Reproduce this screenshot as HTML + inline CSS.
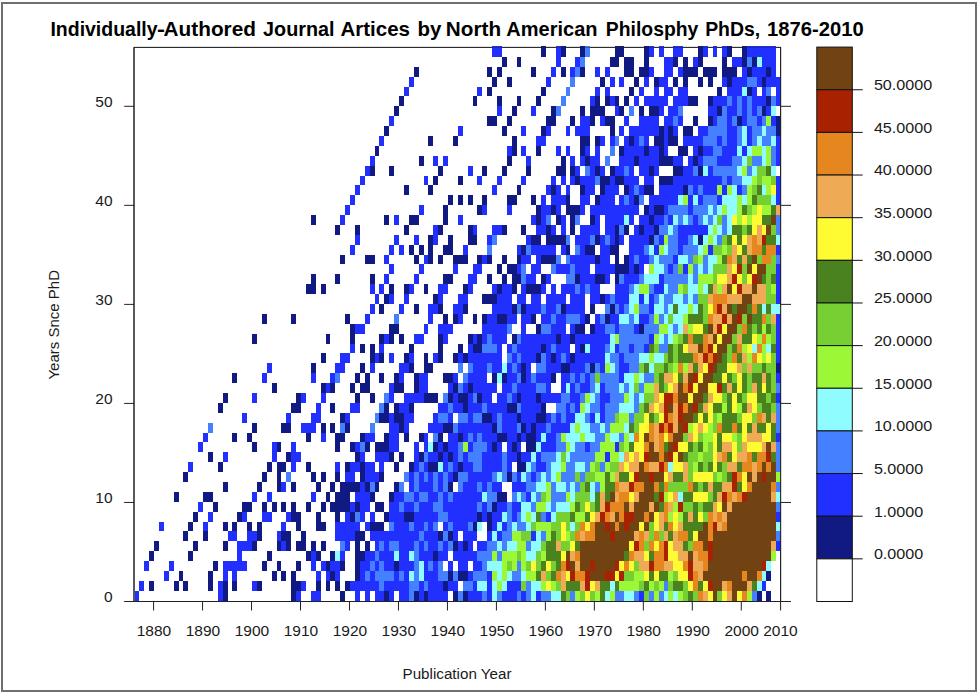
<!DOCTYPE html>
<html><head><meta charset="utf-8"><title>Individually-Authored Journal Artices</title>
<style>html,body{margin:0;padding:0;background:#fff}svg{display:block}text{font-family:"Liberation Sans",sans-serif;fill:#1a1a1a}</style></head><body>
<svg width="978" height="693" viewBox="0 0 978 693">
<rect x="0" y="0" width="978" height="693" fill="#fff"/>
<rect x="2" y="3" width="974" height="688" fill="none" stroke="#6f6f6f" stroke-width="2"/>
<text y="36.2" font-size="20.2" font-weight="bold" style="fill:#000;font-kerning:none"><tspan x="50.44" textLength="107.12" lengthAdjust="spacingAndGlyphs">Individually</tspan><tspan x="156.92" textLength="7.95" lengthAdjust="spacingAndGlyphs">-</tspan><tspan x="163.57" textLength="92.37" lengthAdjust="spacingAndGlyphs">Authored</tspan> <tspan x="263.10" textLength="71.40" lengthAdjust="spacingAndGlyphs">Journal</tspan> <tspan x="340.49" textLength="69.47" lengthAdjust="spacingAndGlyphs">Artices</tspan> <tspan x="417.49" textLength="23.88" lengthAdjust="spacingAndGlyphs">by</tspan> <tspan x="445.88" textLength="55.17" lengthAdjust="spacingAndGlyphs">North</tspan> <tspan x="506.31" textLength="91.20" lengthAdjust="spacingAndGlyphs">American</tspan> <tspan x="605.84" textLength="92.51" lengthAdjust="spacingAndGlyphs">Philosphy</tspan> <tspan x="705.14" textLength="55.03" lengthAdjust="spacingAndGlyphs">PhDs,</tspan> <tspan x="767.00" textLength="96.65" lengthAdjust="spacingAndGlyphs">1876-2010</tspan></text>
<rect x="134.00" y="47.40" width="646.60" height="554.10" fill="none" stroke="#222" stroke-width="1"/>
<g shape-rendering="crispEdges">
<rect x="492.09" y="45.50" width="9.80" height="11.35" fill="#2130ff"/>
<rect x="541.07" y="45.50" width="4.90" height="11.35" fill="#111a82"/>
<rect x="555.77" y="45.50" width="4.90" height="11.35" fill="#2130ff"/>
<rect x="560.67" y="45.50" width="4.90" height="11.35" fill="#111a82"/>
<rect x="580.26" y="45.50" width="4.90" height="11.35" fill="#111a82"/>
<rect x="585.16" y="45.50" width="4.90" height="11.35" fill="#4480ff"/>
<rect x="614.55" y="45.50" width="9.80" height="11.35" fill="#111a82"/>
<rect x="643.94" y="45.50" width="4.90" height="11.35" fill="#111a82"/>
<rect x="648.84" y="45.50" width="4.90" height="11.35" fill="#2130ff"/>
<rect x="658.64" y="45.50" width="4.90" height="11.35" fill="#2130ff"/>
<rect x="673.33" y="45.50" width="9.80" height="11.35" fill="#2130ff"/>
<rect x="697.83" y="45.50" width="4.90" height="11.35" fill="#111a82"/>
<rect x="702.72" y="45.50" width="4.90" height="11.35" fill="#2130ff"/>
<rect x="712.52" y="45.50" width="4.90" height="11.35" fill="#2130ff"/>
<rect x="722.32" y="45.50" width="4.90" height="11.35" fill="#2130ff"/>
<rect x="727.22" y="45.50" width="4.90" height="11.35" fill="#111a82"/>
<rect x="741.91" y="45.50" width="4.90" height="11.35" fill="#111a82"/>
<rect x="746.81" y="45.50" width="29.39" height="11.35" fill="#2130ff"/>
<rect x="501.89" y="56.85" width="4.90" height="9.89" fill="#111a82"/>
<rect x="516.58" y="56.85" width="4.90" height="9.89" fill="#111a82"/>
<rect x="555.77" y="56.85" width="4.90" height="9.89" fill="#2130ff"/>
<rect x="575.36" y="56.85" width="4.90" height="9.89" fill="#2130ff"/>
<rect x="580.26" y="56.85" width="4.90" height="9.89" fill="#4480ff"/>
<rect x="609.65" y="56.85" width="9.80" height="9.89" fill="#111a82"/>
<rect x="624.35" y="56.85" width="9.80" height="9.89" fill="#111a82"/>
<rect x="643.94" y="56.85" width="4.90" height="9.89" fill="#111a82"/>
<rect x="663.54" y="56.85" width="9.80" height="9.89" fill="#2130ff"/>
<rect x="673.33" y="56.85" width="4.90" height="9.89" fill="#111a82"/>
<rect x="683.13" y="56.85" width="4.90" height="9.89" fill="#111a82"/>
<rect x="692.93" y="56.85" width="4.90" height="9.89" fill="#2130ff"/>
<rect x="697.83" y="56.85" width="4.90" height="9.89" fill="#111a82"/>
<rect x="722.32" y="56.85" width="4.90" height="9.89" fill="#111a82"/>
<rect x="732.12" y="56.85" width="9.80" height="9.89" fill="#2130ff"/>
<rect x="741.91" y="56.85" width="4.90" height="9.89" fill="#111a82"/>
<rect x="746.81" y="56.85" width="4.90" height="9.89" fill="#4480ff"/>
<rect x="751.71" y="56.85" width="4.90" height="9.89" fill="#111a82"/>
<rect x="756.61" y="56.85" width="4.90" height="9.89" fill="#8ffcff"/>
<rect x="761.51" y="56.85" width="14.70" height="9.89" fill="#2130ff"/>
<rect x="413.71" y="66.74" width="4.90" height="9.89" fill="#111a82"/>
<rect x="487.19" y="66.74" width="4.90" height="9.89" fill="#111a82"/>
<rect x="496.99" y="66.74" width="4.90" height="9.89" fill="#111a82"/>
<rect x="531.28" y="66.74" width="4.90" height="9.89" fill="#111a82"/>
<rect x="550.87" y="66.74" width="4.90" height="9.89" fill="#2130ff"/>
<rect x="560.67" y="66.74" width="4.90" height="9.89" fill="#111a82"/>
<rect x="570.47" y="66.74" width="4.90" height="9.89" fill="#2130ff"/>
<rect x="575.36" y="66.74" width="4.90" height="9.89" fill="#4480ff"/>
<rect x="580.26" y="66.74" width="4.90" height="9.89" fill="#111a82"/>
<rect x="594.96" y="66.74" width="4.90" height="9.89" fill="#2130ff"/>
<rect x="604.75" y="66.74" width="4.90" height="9.89" fill="#2130ff"/>
<rect x="624.35" y="66.74" width="9.80" height="9.89" fill="#111a82"/>
<rect x="639.04" y="66.74" width="9.80" height="9.89" fill="#111a82"/>
<rect x="648.84" y="66.74" width="4.90" height="9.89" fill="#2130ff"/>
<rect x="663.54" y="66.74" width="9.80" height="9.89" fill="#2130ff"/>
<rect x="678.23" y="66.74" width="4.90" height="9.89" fill="#2130ff"/>
<rect x="683.13" y="66.74" width="14.70" height="9.89" fill="#111a82"/>
<rect x="702.72" y="66.74" width="14.70" height="9.89" fill="#111a82"/>
<rect x="722.32" y="66.74" width="14.70" height="9.89" fill="#111a82"/>
<rect x="741.91" y="66.74" width="4.90" height="9.89" fill="#2130ff"/>
<rect x="746.81" y="66.74" width="4.90" height="9.89" fill="#111a82"/>
<rect x="751.71" y="66.74" width="14.70" height="9.89" fill="#2130ff"/>
<rect x="766.40" y="66.74" width="4.90" height="9.89" fill="#111a82"/>
<rect x="771.30" y="66.74" width="4.90" height="9.89" fill="#2130ff"/>
<rect x="408.82" y="76.63" width="4.90" height="9.89" fill="#2130ff"/>
<rect x="492.09" y="76.63" width="4.90" height="9.89" fill="#111a82"/>
<rect x="506.78" y="76.63" width="4.90" height="9.89" fill="#111a82"/>
<rect x="545.97" y="76.63" width="4.90" height="9.89" fill="#2130ff"/>
<rect x="570.47" y="76.63" width="4.90" height="9.89" fill="#4480ff"/>
<rect x="599.86" y="76.63" width="4.90" height="9.89" fill="#111a82"/>
<rect x="609.65" y="76.63" width="4.90" height="9.89" fill="#2130ff"/>
<rect x="619.45" y="76.63" width="4.90" height="9.89" fill="#2130ff"/>
<rect x="634.15" y="76.63" width="4.90" height="9.89" fill="#111a82"/>
<rect x="643.94" y="76.63" width="4.90" height="9.89" fill="#2130ff"/>
<rect x="653.74" y="76.63" width="4.90" height="9.89" fill="#111a82"/>
<rect x="658.64" y="76.63" width="9.80" height="9.89" fill="#2130ff"/>
<rect x="673.33" y="76.63" width="4.90" height="9.89" fill="#111a82"/>
<rect x="683.13" y="76.63" width="4.90" height="9.89" fill="#111a82"/>
<rect x="697.83" y="76.63" width="4.90" height="9.89" fill="#111a82"/>
<rect x="707.62" y="76.63" width="4.90" height="9.89" fill="#111a82"/>
<rect x="722.32" y="76.63" width="4.90" height="9.89" fill="#2130ff"/>
<rect x="727.22" y="76.63" width="4.90" height="9.89" fill="#111a82"/>
<rect x="732.12" y="76.63" width="14.70" height="9.89" fill="#2130ff"/>
<rect x="746.81" y="76.63" width="9.80" height="9.89" fill="#4480ff"/>
<rect x="756.61" y="76.63" width="4.90" height="9.89" fill="#2130ff"/>
<rect x="761.51" y="76.63" width="4.90" height="9.89" fill="#111a82"/>
<rect x="766.40" y="76.63" width="14.70" height="9.89" fill="#2130ff"/>
<rect x="403.92" y="86.52" width="4.90" height="9.89" fill="#2130ff"/>
<rect x="477.39" y="86.52" width="4.90" height="9.89" fill="#2130ff"/>
<rect x="487.19" y="86.52" width="4.90" height="9.89" fill="#111a82"/>
<rect x="541.07" y="86.52" width="4.90" height="9.89" fill="#111a82"/>
<rect x="565.57" y="86.52" width="4.90" height="9.89" fill="#4480ff"/>
<rect x="594.96" y="86.52" width="4.90" height="9.89" fill="#2130ff"/>
<rect x="604.75" y="86.52" width="4.90" height="9.89" fill="#2130ff"/>
<rect x="629.25" y="86.52" width="4.90" height="9.89" fill="#111a82"/>
<rect x="639.04" y="86.52" width="4.90" height="9.89" fill="#2130ff"/>
<rect x="653.74" y="86.52" width="4.90" height="9.89" fill="#2130ff"/>
<rect x="663.54" y="86.52" width="9.80" height="9.89" fill="#2130ff"/>
<rect x="678.23" y="86.52" width="9.80" height="9.89" fill="#2130ff"/>
<rect x="717.42" y="86.52" width="4.90" height="9.89" fill="#111a82"/>
<rect x="727.22" y="86.52" width="14.70" height="9.89" fill="#2130ff"/>
<rect x="741.91" y="86.52" width="4.90" height="9.89" fill="#8ffcff"/>
<rect x="746.81" y="86.52" width="4.90" height="9.89" fill="#111a82"/>
<rect x="751.71" y="86.52" width="4.90" height="9.89" fill="#2130ff"/>
<rect x="761.51" y="86.52" width="4.90" height="9.89" fill="#2130ff"/>
<rect x="766.40" y="86.52" width="4.90" height="9.89" fill="#4480ff"/>
<rect x="776.20" y="86.52" width="4.90" height="9.89" fill="#2130ff"/>
<rect x="399.02" y="96.40" width="4.90" height="9.89" fill="#111a82"/>
<rect x="472.50" y="96.40" width="4.90" height="9.89" fill="#111a82"/>
<rect x="496.99" y="96.40" width="4.90" height="9.89" fill="#111a82"/>
<rect x="516.58" y="96.40" width="4.90" height="9.89" fill="#111a82"/>
<rect x="536.18" y="96.40" width="4.90" height="9.89" fill="#111a82"/>
<rect x="560.67" y="96.40" width="4.90" height="9.89" fill="#4480ff"/>
<rect x="590.06" y="96.40" width="4.90" height="9.89" fill="#2130ff"/>
<rect x="594.96" y="96.40" width="4.90" height="9.89" fill="#111a82"/>
<rect x="604.75" y="96.40" width="4.90" height="9.89" fill="#111a82"/>
<rect x="609.65" y="96.40" width="4.90" height="9.89" fill="#2130ff"/>
<rect x="614.55" y="96.40" width="4.90" height="9.89" fill="#111a82"/>
<rect x="624.35" y="96.40" width="4.90" height="9.89" fill="#111a82"/>
<rect x="634.15" y="96.40" width="4.90" height="9.89" fill="#2130ff"/>
<rect x="643.94" y="96.40" width="24.49" height="9.89" fill="#2130ff"/>
<rect x="673.33" y="96.40" width="14.70" height="9.89" fill="#2130ff"/>
<rect x="688.03" y="96.40" width="9.80" height="9.89" fill="#111a82"/>
<rect x="707.62" y="96.40" width="4.90" height="9.89" fill="#111a82"/>
<rect x="712.52" y="96.40" width="14.70" height="9.89" fill="#2130ff"/>
<rect x="727.22" y="96.40" width="4.90" height="9.89" fill="#4480ff"/>
<rect x="732.12" y="96.40" width="4.90" height="9.89" fill="#2130ff"/>
<rect x="737.01" y="96.40" width="4.90" height="9.89" fill="#4480ff"/>
<rect x="741.91" y="96.40" width="4.90" height="9.89" fill="#2130ff"/>
<rect x="746.81" y="96.40" width="4.90" height="9.89" fill="#4480ff"/>
<rect x="751.71" y="96.40" width="14.70" height="9.89" fill="#2130ff"/>
<rect x="766.40" y="96.40" width="4.90" height="9.89" fill="#111a82"/>
<rect x="771.30" y="96.40" width="4.90" height="9.89" fill="#4480ff"/>
<rect x="776.20" y="96.40" width="4.90" height="9.89" fill="#2130ff"/>
<rect x="394.12" y="106.29" width="4.90" height="9.89" fill="#111a82"/>
<rect x="496.99" y="106.29" width="4.90" height="9.89" fill="#2130ff"/>
<rect x="511.68" y="106.29" width="4.90" height="9.89" fill="#111a82"/>
<rect x="531.28" y="106.29" width="4.90" height="9.89" fill="#2130ff"/>
<rect x="550.87" y="106.29" width="4.90" height="9.89" fill="#111a82"/>
<rect x="555.77" y="106.29" width="4.90" height="9.89" fill="#4480ff"/>
<rect x="580.26" y="106.29" width="4.90" height="9.89" fill="#111a82"/>
<rect x="590.06" y="106.29" width="14.70" height="9.89" fill="#111a82"/>
<rect x="614.55" y="106.29" width="4.90" height="9.89" fill="#2130ff"/>
<rect x="619.45" y="106.29" width="4.90" height="9.89" fill="#111a82"/>
<rect x="629.25" y="106.29" width="4.90" height="9.89" fill="#4480ff"/>
<rect x="639.04" y="106.29" width="4.90" height="9.89" fill="#111a82"/>
<rect x="648.84" y="106.29" width="9.80" height="9.89" fill="#111a82"/>
<rect x="658.64" y="106.29" width="4.90" height="9.89" fill="#2130ff"/>
<rect x="668.43" y="106.29" width="9.80" height="9.89" fill="#2130ff"/>
<rect x="678.23" y="106.29" width="4.90" height="9.89" fill="#4480ff"/>
<rect x="707.62" y="106.29" width="9.80" height="9.89" fill="#2130ff"/>
<rect x="717.42" y="106.29" width="4.90" height="9.89" fill="#111a82"/>
<rect x="722.32" y="106.29" width="4.90" height="9.89" fill="#4480ff"/>
<rect x="727.22" y="106.29" width="9.80" height="9.89" fill="#2130ff"/>
<rect x="737.01" y="106.29" width="4.90" height="9.89" fill="#4480ff"/>
<rect x="741.91" y="106.29" width="4.90" height="9.89" fill="#2130ff"/>
<rect x="746.81" y="106.29" width="4.90" height="9.89" fill="#4480ff"/>
<rect x="751.71" y="106.29" width="4.90" height="9.89" fill="#2130ff"/>
<rect x="756.61" y="106.29" width="4.90" height="9.89" fill="#4480ff"/>
<rect x="761.51" y="106.29" width="4.90" height="9.89" fill="#111a82"/>
<rect x="766.40" y="106.29" width="4.90" height="9.89" fill="#2130ff"/>
<rect x="771.30" y="106.29" width="4.90" height="9.89" fill="#8ffcff"/>
<rect x="389.22" y="116.18" width="4.90" height="9.89" fill="#2130ff"/>
<rect x="487.19" y="116.18" width="9.80" height="9.89" fill="#111a82"/>
<rect x="506.78" y="116.18" width="4.90" height="9.89" fill="#111a82"/>
<rect x="545.97" y="116.18" width="9.80" height="9.89" fill="#111a82"/>
<rect x="570.47" y="116.18" width="4.90" height="9.89" fill="#111a82"/>
<rect x="580.26" y="116.18" width="9.80" height="9.89" fill="#2130ff"/>
<rect x="590.06" y="116.18" width="4.90" height="9.89" fill="#111a82"/>
<rect x="599.86" y="116.18" width="4.90" height="9.89" fill="#2130ff"/>
<rect x="604.75" y="116.18" width="9.80" height="9.89" fill="#111a82"/>
<rect x="624.35" y="116.18" width="4.90" height="9.89" fill="#2130ff"/>
<rect x="639.04" y="116.18" width="19.59" height="9.89" fill="#2130ff"/>
<rect x="663.54" y="116.18" width="9.80" height="9.89" fill="#2130ff"/>
<rect x="673.33" y="116.18" width="4.90" height="9.89" fill="#4480ff"/>
<rect x="678.23" y="116.18" width="4.90" height="9.89" fill="#2130ff"/>
<rect x="692.93" y="116.18" width="4.90" height="9.89" fill="#111a82"/>
<rect x="707.62" y="116.18" width="4.90" height="9.89" fill="#111a82"/>
<rect x="712.52" y="116.18" width="4.90" height="9.89" fill="#2130ff"/>
<rect x="717.42" y="116.18" width="9.80" height="9.89" fill="#4480ff"/>
<rect x="727.22" y="116.18" width="4.90" height="9.89" fill="#2130ff"/>
<rect x="732.12" y="116.18" width="4.90" height="9.89" fill="#4480ff"/>
<rect x="737.01" y="116.18" width="4.90" height="9.89" fill="#111a82"/>
<rect x="741.91" y="116.18" width="4.90" height="9.89" fill="#2130ff"/>
<rect x="746.81" y="116.18" width="9.80" height="9.89" fill="#4480ff"/>
<rect x="756.61" y="116.18" width="4.90" height="9.89" fill="#2130ff"/>
<rect x="761.51" y="116.18" width="4.90" height="9.89" fill="#4480ff"/>
<rect x="766.40" y="116.18" width="4.90" height="9.89" fill="#9cf837"/>
<rect x="771.30" y="116.18" width="4.90" height="9.89" fill="#2130ff"/>
<rect x="776.20" y="116.18" width="4.90" height="9.89" fill="#111a82"/>
<rect x="384.32" y="126.06" width="4.90" height="9.89" fill="#111a82"/>
<rect x="457.80" y="126.06" width="4.90" height="9.89" fill="#2130ff"/>
<rect x="501.89" y="126.06" width="4.90" height="9.89" fill="#111a82"/>
<rect x="521.48" y="126.06" width="4.90" height="9.89" fill="#2130ff"/>
<rect x="541.07" y="126.06" width="4.90" height="9.89" fill="#111a82"/>
<rect x="545.97" y="126.06" width="4.90" height="9.89" fill="#2130ff"/>
<rect x="565.57" y="126.06" width="4.90" height="9.89" fill="#2130ff"/>
<rect x="575.36" y="126.06" width="14.70" height="9.89" fill="#2130ff"/>
<rect x="609.65" y="126.06" width="4.90" height="9.89" fill="#111a82"/>
<rect x="619.45" y="126.06" width="4.90" height="9.89" fill="#2130ff"/>
<rect x="629.25" y="126.06" width="29.39" height="9.89" fill="#2130ff"/>
<rect x="658.64" y="126.06" width="4.90" height="9.89" fill="#111a82"/>
<rect x="663.54" y="126.06" width="4.90" height="9.89" fill="#2130ff"/>
<rect x="668.43" y="126.06" width="4.90" height="9.89" fill="#111a82"/>
<rect x="673.33" y="126.06" width="4.90" height="9.89" fill="#2130ff"/>
<rect x="683.13" y="126.06" width="9.80" height="9.89" fill="#111a82"/>
<rect x="697.83" y="126.06" width="9.80" height="9.89" fill="#2130ff"/>
<rect x="707.62" y="126.06" width="19.59" height="9.89" fill="#4480ff"/>
<rect x="727.22" y="126.06" width="9.80" height="9.89" fill="#2130ff"/>
<rect x="737.01" y="126.06" width="4.90" height="9.89" fill="#4480ff"/>
<rect x="741.91" y="126.06" width="4.90" height="9.89" fill="#8ffcff"/>
<rect x="746.81" y="126.06" width="4.90" height="9.89" fill="#2130ff"/>
<rect x="751.71" y="126.06" width="9.80" height="9.89" fill="#4480ff"/>
<rect x="761.51" y="126.06" width="4.90" height="9.89" fill="#8ffcff"/>
<rect x="766.40" y="126.06" width="9.80" height="9.89" fill="#4480ff"/>
<rect x="776.20" y="126.06" width="4.90" height="9.89" fill="#111a82"/>
<rect x="379.42" y="135.95" width="4.90" height="9.89" fill="#2130ff"/>
<rect x="428.41" y="135.95" width="4.90" height="9.89" fill="#111a82"/>
<rect x="452.90" y="135.95" width="4.90" height="9.89" fill="#111a82"/>
<rect x="511.68" y="135.95" width="4.90" height="9.89" fill="#111a82"/>
<rect x="536.18" y="135.95" width="9.80" height="9.89" fill="#2130ff"/>
<rect x="580.26" y="135.95" width="9.80" height="9.89" fill="#111a82"/>
<rect x="594.96" y="135.95" width="4.90" height="9.89" fill="#111a82"/>
<rect x="599.86" y="135.95" width="4.90" height="9.89" fill="#2130ff"/>
<rect x="609.65" y="135.95" width="4.90" height="9.89" fill="#2130ff"/>
<rect x="614.55" y="135.95" width="4.90" height="9.89" fill="#4480ff"/>
<rect x="624.35" y="135.95" width="4.90" height="9.89" fill="#2130ff"/>
<rect x="629.25" y="135.95" width="4.90" height="9.89" fill="#111a82"/>
<rect x="634.15" y="135.95" width="4.90" height="9.89" fill="#2130ff"/>
<rect x="639.04" y="135.95" width="4.90" height="9.89" fill="#4480ff"/>
<rect x="643.94" y="135.95" width="4.90" height="9.89" fill="#2130ff"/>
<rect x="653.74" y="135.95" width="9.80" height="9.89" fill="#111a82"/>
<rect x="663.54" y="135.95" width="4.90" height="9.89" fill="#2130ff"/>
<rect x="668.43" y="135.95" width="9.80" height="9.89" fill="#111a82"/>
<rect x="683.13" y="135.95" width="19.59" height="9.89" fill="#2130ff"/>
<rect x="702.72" y="135.95" width="14.70" height="9.89" fill="#4480ff"/>
<rect x="717.42" y="135.95" width="4.90" height="9.89" fill="#2130ff"/>
<rect x="722.32" y="135.95" width="4.90" height="9.89" fill="#4480ff"/>
<rect x="727.22" y="135.95" width="9.80" height="9.89" fill="#2130ff"/>
<rect x="737.01" y="135.95" width="4.90" height="9.89" fill="#4480ff"/>
<rect x="741.91" y="135.95" width="4.90" height="9.89" fill="#8ffcff"/>
<rect x="746.81" y="135.95" width="4.90" height="9.89" fill="#2130ff"/>
<rect x="751.71" y="135.95" width="4.90" height="9.89" fill="#4480ff"/>
<rect x="756.61" y="135.95" width="4.90" height="9.89" fill="#8ffcff"/>
<rect x="761.51" y="135.95" width="9.80" height="9.89" fill="#4480ff"/>
<rect x="771.30" y="135.95" width="4.90" height="9.89" fill="#8ffcff"/>
<rect x="776.20" y="135.95" width="4.90" height="9.89" fill="#2130ff"/>
<rect x="374.53" y="145.84" width="4.90" height="9.89" fill="#111a82"/>
<rect x="506.78" y="145.84" width="4.90" height="9.89" fill="#2130ff"/>
<rect x="511.68" y="145.84" width="4.90" height="9.89" fill="#111a82"/>
<rect x="521.48" y="145.84" width="4.90" height="9.89" fill="#2130ff"/>
<rect x="536.18" y="145.84" width="4.90" height="9.89" fill="#111a82"/>
<rect x="555.77" y="145.84" width="4.90" height="9.89" fill="#2130ff"/>
<rect x="565.57" y="145.84" width="4.90" height="9.89" fill="#2130ff"/>
<rect x="580.26" y="145.84" width="4.90" height="9.89" fill="#111a82"/>
<rect x="585.16" y="145.84" width="4.90" height="9.89" fill="#2130ff"/>
<rect x="594.96" y="145.84" width="4.90" height="9.89" fill="#2130ff"/>
<rect x="609.65" y="145.84" width="4.90" height="9.89" fill="#4480ff"/>
<rect x="619.45" y="145.84" width="4.90" height="9.89" fill="#111a82"/>
<rect x="624.35" y="145.84" width="19.59" height="9.89" fill="#2130ff"/>
<rect x="643.94" y="145.84" width="4.90" height="9.89" fill="#111a82"/>
<rect x="648.84" y="145.84" width="9.80" height="9.89" fill="#2130ff"/>
<rect x="658.64" y="145.84" width="4.90" height="9.89" fill="#111a82"/>
<rect x="663.54" y="145.84" width="4.90" height="9.89" fill="#2130ff"/>
<rect x="678.23" y="145.84" width="9.80" height="9.89" fill="#111a82"/>
<rect x="692.93" y="145.84" width="4.90" height="9.89" fill="#2130ff"/>
<rect x="697.83" y="145.84" width="4.90" height="9.89" fill="#111a82"/>
<rect x="702.72" y="145.84" width="9.80" height="9.89" fill="#2130ff"/>
<rect x="712.52" y="145.84" width="9.80" height="9.89" fill="#4480ff"/>
<rect x="722.32" y="145.84" width="14.70" height="9.89" fill="#2130ff"/>
<rect x="737.01" y="145.84" width="4.90" height="9.89" fill="#8ffcff"/>
<rect x="741.91" y="145.84" width="4.90" height="9.89" fill="#2130ff"/>
<rect x="746.81" y="145.84" width="4.90" height="9.89" fill="#8ffcff"/>
<rect x="751.71" y="145.84" width="9.80" height="9.89" fill="#9cf837"/>
<rect x="761.51" y="145.84" width="4.90" height="9.89" fill="#8ffcff"/>
<rect x="766.40" y="145.84" width="4.90" height="9.89" fill="#9cf837"/>
<rect x="771.30" y="145.84" width="4.90" height="9.89" fill="#4480ff"/>
<rect x="776.20" y="145.84" width="4.90" height="9.89" fill="#2130ff"/>
<rect x="369.63" y="155.72" width="4.90" height="9.89" fill="#2130ff"/>
<rect x="418.61" y="155.72" width="4.90" height="9.89" fill="#111a82"/>
<rect x="433.31" y="155.72" width="4.90" height="9.89" fill="#2130ff"/>
<rect x="443.10" y="155.72" width="4.90" height="9.89" fill="#2130ff"/>
<rect x="506.78" y="155.72" width="4.90" height="9.89" fill="#111a82"/>
<rect x="526.38" y="155.72" width="4.90" height="9.89" fill="#2130ff"/>
<rect x="560.67" y="155.72" width="4.90" height="9.89" fill="#111a82"/>
<rect x="570.47" y="155.72" width="4.90" height="9.89" fill="#2130ff"/>
<rect x="580.26" y="155.72" width="4.90" height="9.89" fill="#2130ff"/>
<rect x="585.16" y="155.72" width="4.90" height="9.89" fill="#111a82"/>
<rect x="590.06" y="155.72" width="9.80" height="9.89" fill="#2130ff"/>
<rect x="604.75" y="155.72" width="4.90" height="9.89" fill="#4480ff"/>
<rect x="619.45" y="155.72" width="14.70" height="9.89" fill="#2130ff"/>
<rect x="634.15" y="155.72" width="4.90" height="9.89" fill="#111a82"/>
<rect x="639.04" y="155.72" width="19.59" height="9.89" fill="#2130ff"/>
<rect x="658.64" y="155.72" width="14.70" height="9.89" fill="#111a82"/>
<rect x="673.33" y="155.72" width="9.80" height="9.89" fill="#2130ff"/>
<rect x="688.03" y="155.72" width="4.90" height="9.89" fill="#2130ff"/>
<rect x="692.93" y="155.72" width="4.90" height="9.89" fill="#111a82"/>
<rect x="697.83" y="155.72" width="4.90" height="9.89" fill="#2130ff"/>
<rect x="702.72" y="155.72" width="14.70" height="9.89" fill="#4480ff"/>
<rect x="717.42" y="155.72" width="14.70" height="9.89" fill="#2130ff"/>
<rect x="732.12" y="155.72" width="9.80" height="9.89" fill="#4480ff"/>
<rect x="741.91" y="155.72" width="4.90" height="9.89" fill="#8ffcff"/>
<rect x="746.81" y="155.72" width="4.90" height="9.89" fill="#76cf33"/>
<rect x="751.71" y="155.72" width="9.80" height="9.89" fill="#4480ff"/>
<rect x="761.51" y="155.72" width="4.90" height="9.89" fill="#8ffcff"/>
<rect x="766.40" y="155.72" width="4.90" height="9.89" fill="#9cf837"/>
<rect x="771.30" y="155.72" width="4.90" height="9.89" fill="#4480ff"/>
<rect x="776.20" y="155.72" width="4.90" height="9.89" fill="#2130ff"/>
<rect x="364.73" y="165.61" width="4.90" height="9.89" fill="#2130ff"/>
<rect x="369.63" y="165.61" width="4.90" height="9.89" fill="#111a82"/>
<rect x="389.22" y="165.61" width="4.90" height="9.89" fill="#111a82"/>
<rect x="438.21" y="165.61" width="4.90" height="9.89" fill="#111a82"/>
<rect x="467.60" y="165.61" width="4.90" height="9.89" fill="#2130ff"/>
<rect x="482.29" y="165.61" width="4.90" height="9.89" fill="#111a82"/>
<rect x="501.89" y="165.61" width="4.90" height="9.89" fill="#111a82"/>
<rect x="526.38" y="165.61" width="4.90" height="9.89" fill="#111a82"/>
<rect x="555.77" y="165.61" width="9.80" height="9.89" fill="#111a82"/>
<rect x="570.47" y="165.61" width="4.90" height="9.89" fill="#111a82"/>
<rect x="575.36" y="165.61" width="4.90" height="9.89" fill="#2130ff"/>
<rect x="585.16" y="165.61" width="4.90" height="9.89" fill="#4480ff"/>
<rect x="590.06" y="165.61" width="4.90" height="9.89" fill="#2130ff"/>
<rect x="594.96" y="165.61" width="4.90" height="9.89" fill="#111a82"/>
<rect x="599.86" y="165.61" width="4.90" height="9.89" fill="#2130ff"/>
<rect x="609.65" y="165.61" width="4.90" height="9.89" fill="#111a82"/>
<rect x="614.55" y="165.61" width="9.80" height="9.89" fill="#2130ff"/>
<rect x="624.35" y="165.61" width="4.90" height="9.89" fill="#4480ff"/>
<rect x="629.25" y="165.61" width="4.90" height="9.89" fill="#2130ff"/>
<rect x="639.04" y="165.61" width="9.80" height="9.89" fill="#2130ff"/>
<rect x="648.84" y="165.61" width="4.90" height="9.89" fill="#111a82"/>
<rect x="653.74" y="165.61" width="4.90" height="9.89" fill="#2130ff"/>
<rect x="673.33" y="165.61" width="9.80" height="9.89" fill="#111a82"/>
<rect x="683.13" y="165.61" width="9.80" height="9.89" fill="#2130ff"/>
<rect x="692.93" y="165.61" width="4.90" height="9.89" fill="#4480ff"/>
<rect x="697.83" y="165.61" width="4.90" height="9.89" fill="#111a82"/>
<rect x="702.72" y="165.61" width="4.90" height="9.89" fill="#8ffcff"/>
<rect x="707.62" y="165.61" width="4.90" height="9.89" fill="#2130ff"/>
<rect x="712.52" y="165.61" width="24.49" height="9.89" fill="#4480ff"/>
<rect x="737.01" y="165.61" width="4.90" height="9.89" fill="#8ffcff"/>
<rect x="741.91" y="165.61" width="4.90" height="9.89" fill="#9cf837"/>
<rect x="746.81" y="165.61" width="4.90" height="9.89" fill="#4480ff"/>
<rect x="751.71" y="165.61" width="4.90" height="9.89" fill="#8ffcff"/>
<rect x="756.61" y="165.61" width="9.80" height="9.89" fill="#76cf33"/>
<rect x="766.40" y="165.61" width="4.90" height="9.89" fill="#4b8220"/>
<rect x="771.30" y="165.61" width="4.90" height="9.89" fill="#8ffcff"/>
<rect x="359.83" y="175.50" width="4.90" height="9.89" fill="#2130ff"/>
<rect x="423.51" y="175.50" width="4.90" height="9.89" fill="#2130ff"/>
<rect x="433.31" y="175.50" width="4.90" height="9.89" fill="#111a82"/>
<rect x="457.80" y="175.50" width="4.90" height="9.89" fill="#111a82"/>
<rect x="477.39" y="175.50" width="4.90" height="9.89" fill="#2130ff"/>
<rect x="496.99" y="175.50" width="4.90" height="9.89" fill="#2130ff"/>
<rect x="521.48" y="175.50" width="4.90" height="9.89" fill="#2130ff"/>
<rect x="550.87" y="175.50" width="4.90" height="9.89" fill="#2130ff"/>
<rect x="560.67" y="175.50" width="4.90" height="9.89" fill="#2130ff"/>
<rect x="570.47" y="175.50" width="4.90" height="9.89" fill="#2130ff"/>
<rect x="575.36" y="175.50" width="4.90" height="9.89" fill="#111a82"/>
<rect x="580.26" y="175.50" width="14.70" height="9.89" fill="#2130ff"/>
<rect x="594.96" y="175.50" width="4.90" height="9.89" fill="#4480ff"/>
<rect x="599.86" y="175.50" width="9.80" height="9.89" fill="#111a82"/>
<rect x="609.65" y="175.50" width="4.90" height="9.89" fill="#2130ff"/>
<rect x="614.55" y="175.50" width="9.80" height="9.89" fill="#111a82"/>
<rect x="624.35" y="175.50" width="14.70" height="9.89" fill="#2130ff"/>
<rect x="643.94" y="175.50" width="9.80" height="9.89" fill="#2130ff"/>
<rect x="658.64" y="175.50" width="14.70" height="9.89" fill="#111a82"/>
<rect x="673.33" y="175.50" width="48.98" height="9.89" fill="#2130ff"/>
<rect x="722.32" y="175.50" width="4.90" height="9.89" fill="#4480ff"/>
<rect x="727.22" y="175.50" width="4.90" height="9.89" fill="#2130ff"/>
<rect x="732.12" y="175.50" width="9.80" height="9.89" fill="#4480ff"/>
<rect x="741.91" y="175.50" width="9.80" height="9.89" fill="#8ffcff"/>
<rect x="751.71" y="175.50" width="4.90" height="9.89" fill="#9cf837"/>
<rect x="756.61" y="175.50" width="4.90" height="9.89" fill="#76cf33"/>
<rect x="761.51" y="175.50" width="9.80" height="9.89" fill="#9cf837"/>
<rect x="771.30" y="175.50" width="4.90" height="9.89" fill="#76cf33"/>
<rect x="776.20" y="175.50" width="4.90" height="9.89" fill="#2130ff"/>
<rect x="354.93" y="185.39" width="4.90" height="9.89" fill="#2130ff"/>
<rect x="403.92" y="185.39" width="4.90" height="9.89" fill="#111a82"/>
<rect x="428.41" y="185.39" width="4.90" height="9.89" fill="#111a82"/>
<rect x="492.09" y="185.39" width="4.90" height="9.89" fill="#2130ff"/>
<rect x="516.58" y="185.39" width="4.90" height="9.89" fill="#111a82"/>
<rect x="545.97" y="185.39" width="4.90" height="9.89" fill="#2130ff"/>
<rect x="550.87" y="185.39" width="4.90" height="9.89" fill="#111a82"/>
<rect x="555.77" y="185.39" width="4.90" height="9.89" fill="#2130ff"/>
<rect x="565.57" y="185.39" width="4.90" height="9.89" fill="#2130ff"/>
<rect x="580.26" y="185.39" width="4.90" height="9.89" fill="#111a82"/>
<rect x="585.16" y="185.39" width="9.80" height="9.89" fill="#2130ff"/>
<rect x="599.86" y="185.39" width="4.90" height="9.89" fill="#111a82"/>
<rect x="604.75" y="185.39" width="14.70" height="9.89" fill="#2130ff"/>
<rect x="624.35" y="185.39" width="4.90" height="9.89" fill="#111a82"/>
<rect x="629.25" y="185.39" width="4.90" height="9.89" fill="#2130ff"/>
<rect x="634.15" y="185.39" width="4.90" height="9.89" fill="#4480ff"/>
<rect x="639.04" y="185.39" width="4.90" height="9.89" fill="#2130ff"/>
<rect x="643.94" y="185.39" width="9.80" height="9.89" fill="#111a82"/>
<rect x="658.64" y="185.39" width="24.49" height="9.89" fill="#2130ff"/>
<rect x="683.13" y="185.39" width="4.90" height="9.89" fill="#111a82"/>
<rect x="688.03" y="185.39" width="4.90" height="9.89" fill="#4480ff"/>
<rect x="692.93" y="185.39" width="4.90" height="9.89" fill="#2130ff"/>
<rect x="697.83" y="185.39" width="4.90" height="9.89" fill="#4480ff"/>
<rect x="702.72" y="185.39" width="14.70" height="9.89" fill="#2130ff"/>
<rect x="717.42" y="185.39" width="4.90" height="9.89" fill="#9cf837"/>
<rect x="722.32" y="185.39" width="4.90" height="9.89" fill="#2130ff"/>
<rect x="727.22" y="185.39" width="4.90" height="9.89" fill="#9cf837"/>
<rect x="732.12" y="185.39" width="4.90" height="9.89" fill="#8ffcff"/>
<rect x="737.01" y="185.39" width="4.90" height="9.89" fill="#2130ff"/>
<rect x="741.91" y="185.39" width="4.90" height="9.89" fill="#4480ff"/>
<rect x="746.81" y="185.39" width="4.90" height="9.89" fill="#9cf837"/>
<rect x="751.71" y="185.39" width="4.90" height="9.89" fill="#76cf33"/>
<rect x="756.61" y="185.39" width="4.90" height="9.89" fill="#4b8220"/>
<rect x="761.51" y="185.39" width="4.90" height="9.89" fill="#8ffcff"/>
<rect x="766.40" y="185.39" width="4.90" height="9.89" fill="#9cf837"/>
<rect x="771.30" y="185.39" width="4.90" height="9.89" fill="#fffb33"/>
<rect x="776.20" y="185.39" width="4.90" height="9.89" fill="#2130ff"/>
<rect x="350.03" y="195.27" width="4.90" height="9.89" fill="#2130ff"/>
<rect x="448.00" y="195.27" width="4.90" height="9.89" fill="#111a82"/>
<rect x="457.80" y="195.27" width="4.90" height="9.89" fill="#111a82"/>
<rect x="467.60" y="195.27" width="4.90" height="9.89" fill="#111a82"/>
<rect x="482.29" y="195.27" width="4.90" height="9.89" fill="#111a82"/>
<rect x="506.78" y="195.27" width="9.80" height="9.89" fill="#111a82"/>
<rect x="531.28" y="195.27" width="4.90" height="9.89" fill="#111a82"/>
<rect x="541.07" y="195.27" width="4.90" height="9.89" fill="#2130ff"/>
<rect x="550.87" y="195.27" width="14.70" height="9.89" fill="#2130ff"/>
<rect x="565.57" y="195.27" width="4.90" height="9.89" fill="#111a82"/>
<rect x="580.26" y="195.27" width="9.80" height="9.89" fill="#2130ff"/>
<rect x="594.96" y="195.27" width="4.90" height="9.89" fill="#111a82"/>
<rect x="599.86" y="195.27" width="14.70" height="9.89" fill="#2130ff"/>
<rect x="619.45" y="195.27" width="4.90" height="9.89" fill="#2130ff"/>
<rect x="624.35" y="195.27" width="4.90" height="9.89" fill="#4480ff"/>
<rect x="629.25" y="195.27" width="4.90" height="9.89" fill="#2130ff"/>
<rect x="634.15" y="195.27" width="4.90" height="9.89" fill="#111a82"/>
<rect x="639.04" y="195.27" width="4.90" height="9.89" fill="#4480ff"/>
<rect x="648.84" y="195.27" width="29.39" height="9.89" fill="#2130ff"/>
<rect x="678.23" y="195.27" width="4.90" height="9.89" fill="#8ffcff"/>
<rect x="683.13" y="195.27" width="4.90" height="9.89" fill="#9cf837"/>
<rect x="688.03" y="195.27" width="4.90" height="9.89" fill="#2130ff"/>
<rect x="692.93" y="195.27" width="4.90" height="9.89" fill="#8ffcff"/>
<rect x="697.83" y="195.27" width="4.90" height="9.89" fill="#2130ff"/>
<rect x="702.72" y="195.27" width="14.70" height="9.89" fill="#4480ff"/>
<rect x="717.42" y="195.27" width="4.90" height="9.89" fill="#2130ff"/>
<rect x="722.32" y="195.27" width="14.70" height="9.89" fill="#8ffcff"/>
<rect x="737.01" y="195.27" width="4.90" height="9.89" fill="#9cf837"/>
<rect x="741.91" y="195.27" width="4.90" height="9.89" fill="#8ffcff"/>
<rect x="746.81" y="195.27" width="4.90" height="9.89" fill="#9cf837"/>
<rect x="751.71" y="195.27" width="4.90" height="9.89" fill="#4b8220"/>
<rect x="756.61" y="195.27" width="14.70" height="9.89" fill="#76cf33"/>
<rect x="771.30" y="195.27" width="4.90" height="9.89" fill="#8ffcff"/>
<rect x="776.20" y="195.27" width="4.90" height="9.89" fill="#2130ff"/>
<rect x="345.13" y="205.16" width="4.90" height="9.89" fill="#2130ff"/>
<rect x="418.61" y="205.16" width="4.90" height="9.89" fill="#2130ff"/>
<rect x="443.10" y="205.16" width="4.90" height="9.89" fill="#111a82"/>
<rect x="477.39" y="205.16" width="4.90" height="9.89" fill="#111a82"/>
<rect x="482.29" y="205.16" width="4.90" height="9.89" fill="#2130ff"/>
<rect x="506.78" y="205.16" width="4.90" height="9.89" fill="#2130ff"/>
<rect x="536.18" y="205.16" width="4.90" height="9.89" fill="#111a82"/>
<rect x="541.07" y="205.16" width="9.80" height="9.89" fill="#2130ff"/>
<rect x="550.87" y="205.16" width="4.90" height="9.89" fill="#111a82"/>
<rect x="555.77" y="205.16" width="4.90" height="9.89" fill="#2130ff"/>
<rect x="565.57" y="205.16" width="14.70" height="9.89" fill="#111a82"/>
<rect x="580.26" y="205.16" width="4.90" height="9.89" fill="#2130ff"/>
<rect x="590.06" y="205.16" width="48.98" height="9.89" fill="#2130ff"/>
<rect x="643.94" y="205.16" width="4.90" height="9.89" fill="#111a82"/>
<rect x="648.84" y="205.16" width="4.90" height="9.89" fill="#2130ff"/>
<rect x="653.74" y="205.16" width="9.80" height="9.89" fill="#111a82"/>
<rect x="663.54" y="205.16" width="4.90" height="9.89" fill="#2130ff"/>
<rect x="668.43" y="205.16" width="19.59" height="9.89" fill="#4480ff"/>
<rect x="688.03" y="205.16" width="4.90" height="9.89" fill="#2130ff"/>
<rect x="692.93" y="205.16" width="14.70" height="9.89" fill="#4480ff"/>
<rect x="707.62" y="205.16" width="4.90" height="9.89" fill="#8ffcff"/>
<rect x="712.52" y="205.16" width="4.90" height="9.89" fill="#4480ff"/>
<rect x="717.42" y="205.16" width="4.90" height="9.89" fill="#8ffcff"/>
<rect x="722.32" y="205.16" width="4.90" height="9.89" fill="#9cf837"/>
<rect x="727.22" y="205.16" width="9.80" height="9.89" fill="#8ffcff"/>
<rect x="737.01" y="205.16" width="4.90" height="9.89" fill="#9cf837"/>
<rect x="741.91" y="205.16" width="4.90" height="9.89" fill="#4b8220"/>
<rect x="746.81" y="205.16" width="4.90" height="9.89" fill="#76cf33"/>
<rect x="751.71" y="205.16" width="4.90" height="9.89" fill="#9cf837"/>
<rect x="756.61" y="205.16" width="4.90" height="9.89" fill="#fffb33"/>
<rect x="761.51" y="205.16" width="9.80" height="9.89" fill="#9cf837"/>
<rect x="771.30" y="205.16" width="4.90" height="9.89" fill="#4b8220"/>
<rect x="776.20" y="205.16" width="4.90" height="9.89" fill="#eeaa55"/>
<rect x="310.85" y="215.05" width="4.90" height="9.89" fill="#111a82"/>
<rect x="340.24" y="215.05" width="4.90" height="9.89" fill="#2130ff"/>
<rect x="384.32" y="215.05" width="4.90" height="9.89" fill="#111a82"/>
<rect x="394.12" y="215.05" width="4.90" height="9.89" fill="#2130ff"/>
<rect x="408.82" y="215.05" width="9.80" height="9.89" fill="#111a82"/>
<rect x="443.10" y="215.05" width="4.90" height="9.89" fill="#111a82"/>
<rect x="457.80" y="215.05" width="4.90" height="9.89" fill="#2130ff"/>
<rect x="531.28" y="215.05" width="4.90" height="9.89" fill="#2130ff"/>
<rect x="536.18" y="215.05" width="4.90" height="9.89" fill="#111a82"/>
<rect x="541.07" y="215.05" width="4.90" height="9.89" fill="#2130ff"/>
<rect x="545.97" y="215.05" width="4.90" height="9.89" fill="#4480ff"/>
<rect x="555.77" y="215.05" width="4.90" height="9.89" fill="#111a82"/>
<rect x="560.67" y="215.05" width="4.90" height="9.89" fill="#2130ff"/>
<rect x="570.47" y="215.05" width="4.90" height="9.89" fill="#111a82"/>
<rect x="575.36" y="215.05" width="4.90" height="9.89" fill="#4480ff"/>
<rect x="590.06" y="215.05" width="4.90" height="9.89" fill="#111a82"/>
<rect x="594.96" y="215.05" width="4.90" height="9.89" fill="#2130ff"/>
<rect x="604.75" y="215.05" width="19.59" height="9.89" fill="#2130ff"/>
<rect x="624.35" y="215.05" width="4.90" height="9.89" fill="#8ffcff"/>
<rect x="629.25" y="215.05" width="4.90" height="9.89" fill="#2130ff"/>
<rect x="639.04" y="215.05" width="9.80" height="9.89" fill="#2130ff"/>
<rect x="648.84" y="215.05" width="4.90" height="9.89" fill="#111a82"/>
<rect x="653.74" y="215.05" width="9.80" height="9.89" fill="#2130ff"/>
<rect x="663.54" y="215.05" width="4.90" height="9.89" fill="#4480ff"/>
<rect x="668.43" y="215.05" width="4.90" height="9.89" fill="#2130ff"/>
<rect x="673.33" y="215.05" width="4.90" height="9.89" fill="#8ffcff"/>
<rect x="678.23" y="215.05" width="4.90" height="9.89" fill="#4480ff"/>
<rect x="683.13" y="215.05" width="4.90" height="9.89" fill="#8ffcff"/>
<rect x="688.03" y="215.05" width="4.90" height="9.89" fill="#4480ff"/>
<rect x="692.93" y="215.05" width="4.90" height="9.89" fill="#2130ff"/>
<rect x="697.83" y="215.05" width="4.90" height="9.89" fill="#4480ff"/>
<rect x="702.72" y="215.05" width="4.90" height="9.89" fill="#8ffcff"/>
<rect x="707.62" y="215.05" width="4.90" height="9.89" fill="#4480ff"/>
<rect x="712.52" y="215.05" width="4.90" height="9.89" fill="#8ffcff"/>
<rect x="717.42" y="215.05" width="4.90" height="9.89" fill="#76cf33"/>
<rect x="722.32" y="215.05" width="4.90" height="9.89" fill="#4480ff"/>
<rect x="727.22" y="215.05" width="4.90" height="9.89" fill="#8ffcff"/>
<rect x="732.12" y="215.05" width="4.90" height="9.89" fill="#fffb33"/>
<rect x="737.01" y="215.05" width="4.90" height="9.89" fill="#9cf837"/>
<rect x="741.91" y="215.05" width="4.90" height="9.89" fill="#fffb33"/>
<rect x="746.81" y="215.05" width="4.90" height="9.89" fill="#9cf837"/>
<rect x="751.71" y="215.05" width="9.80" height="9.89" fill="#fffb33"/>
<rect x="761.51" y="215.05" width="9.80" height="9.89" fill="#4b8220"/>
<rect x="771.30" y="215.05" width="4.90" height="9.89" fill="#714212"/>
<rect x="776.20" y="215.05" width="4.90" height="9.89" fill="#4480ff"/>
<rect x="335.34" y="224.93" width="4.90" height="9.89" fill="#111a82"/>
<rect x="354.93" y="224.93" width="4.90" height="9.89" fill="#111a82"/>
<rect x="403.92" y="224.93" width="4.90" height="9.89" fill="#111a82"/>
<rect x="433.31" y="224.93" width="4.90" height="9.89" fill="#2130ff"/>
<rect x="438.21" y="224.93" width="4.90" height="9.89" fill="#111a82"/>
<rect x="467.60" y="224.93" width="4.90" height="9.89" fill="#111a82"/>
<rect x="472.50" y="224.93" width="4.90" height="9.89" fill="#2130ff"/>
<rect x="492.09" y="224.93" width="9.80" height="9.89" fill="#2130ff"/>
<rect x="501.89" y="224.93" width="4.90" height="9.89" fill="#111a82"/>
<rect x="521.48" y="224.93" width="4.90" height="9.89" fill="#111a82"/>
<rect x="536.18" y="224.93" width="9.80" height="9.89" fill="#2130ff"/>
<rect x="545.97" y="224.93" width="4.90" height="9.89" fill="#111a82"/>
<rect x="550.87" y="224.93" width="4.90" height="9.89" fill="#2130ff"/>
<rect x="560.67" y="224.93" width="4.90" height="9.89" fill="#2130ff"/>
<rect x="570.47" y="224.93" width="4.90" height="9.89" fill="#111a82"/>
<rect x="580.26" y="224.93" width="19.59" height="9.89" fill="#2130ff"/>
<rect x="604.75" y="224.93" width="9.80" height="9.89" fill="#2130ff"/>
<rect x="614.55" y="224.93" width="4.90" height="9.89" fill="#111a82"/>
<rect x="619.45" y="224.93" width="4.90" height="9.89" fill="#4480ff"/>
<rect x="624.35" y="224.93" width="4.90" height="9.89" fill="#111a82"/>
<rect x="634.15" y="224.93" width="4.90" height="9.89" fill="#2130ff"/>
<rect x="639.04" y="224.93" width="4.90" height="9.89" fill="#111a82"/>
<rect x="643.94" y="224.93" width="9.80" height="9.89" fill="#2130ff"/>
<rect x="653.74" y="224.93" width="4.90" height="9.89" fill="#111a82"/>
<rect x="658.64" y="224.93" width="9.80" height="9.89" fill="#4480ff"/>
<rect x="668.43" y="224.93" width="4.90" height="9.89" fill="#8ffcff"/>
<rect x="673.33" y="224.93" width="4.90" height="9.89" fill="#4480ff"/>
<rect x="678.23" y="224.93" width="29.39" height="9.89" fill="#2130ff"/>
<rect x="707.62" y="224.93" width="4.90" height="9.89" fill="#8ffcff"/>
<rect x="712.52" y="224.93" width="4.90" height="9.89" fill="#9cf837"/>
<rect x="717.42" y="224.93" width="4.90" height="9.89" fill="#8ffcff"/>
<rect x="722.32" y="224.93" width="4.90" height="9.89" fill="#4480ff"/>
<rect x="727.22" y="224.93" width="4.90" height="9.89" fill="#8ffcff"/>
<rect x="732.12" y="224.93" width="9.80" height="9.89" fill="#4b8220"/>
<rect x="741.91" y="224.93" width="4.90" height="9.89" fill="#76cf33"/>
<rect x="746.81" y="224.93" width="4.90" height="9.89" fill="#4b8220"/>
<rect x="751.71" y="224.93" width="4.90" height="9.89" fill="#fffb33"/>
<rect x="756.61" y="224.93" width="4.90" height="9.89" fill="#eeaa55"/>
<rect x="761.51" y="224.93" width="4.90" height="9.89" fill="#fffb33"/>
<rect x="766.40" y="224.93" width="4.90" height="9.89" fill="#714212"/>
<rect x="771.30" y="224.93" width="4.90" height="9.89" fill="#76cf33"/>
<rect x="776.20" y="224.93" width="4.90" height="9.89" fill="#4480ff"/>
<rect x="354.93" y="234.82" width="4.90" height="9.89" fill="#2130ff"/>
<rect x="394.12" y="234.82" width="4.90" height="9.89" fill="#2130ff"/>
<rect x="413.71" y="234.82" width="4.90" height="9.89" fill="#2130ff"/>
<rect x="428.41" y="234.82" width="4.90" height="9.89" fill="#111a82"/>
<rect x="433.31" y="234.82" width="4.90" height="9.89" fill="#2130ff"/>
<rect x="448.00" y="234.82" width="4.90" height="9.89" fill="#111a82"/>
<rect x="467.60" y="234.82" width="9.80" height="9.89" fill="#111a82"/>
<rect x="487.19" y="234.82" width="4.90" height="9.89" fill="#2130ff"/>
<rect x="492.09" y="234.82" width="4.90" height="9.89" fill="#4480ff"/>
<rect x="526.38" y="234.82" width="4.90" height="9.89" fill="#2130ff"/>
<rect x="531.28" y="234.82" width="9.80" height="9.89" fill="#111a82"/>
<rect x="545.97" y="234.82" width="19.59" height="9.89" fill="#111a82"/>
<rect x="565.57" y="234.82" width="4.90" height="9.89" fill="#4480ff"/>
<rect x="575.36" y="234.82" width="14.70" height="9.89" fill="#2130ff"/>
<rect x="590.06" y="234.82" width="4.90" height="9.89" fill="#4480ff"/>
<rect x="594.96" y="234.82" width="4.90" height="9.89" fill="#111a82"/>
<rect x="599.86" y="234.82" width="4.90" height="9.89" fill="#2130ff"/>
<rect x="604.75" y="234.82" width="4.90" height="9.89" fill="#4480ff"/>
<rect x="609.65" y="234.82" width="4.90" height="9.89" fill="#2130ff"/>
<rect x="614.55" y="234.82" width="4.90" height="9.89" fill="#111a82"/>
<rect x="619.45" y="234.82" width="4.90" height="9.89" fill="#2130ff"/>
<rect x="629.25" y="234.82" width="19.59" height="9.89" fill="#2130ff"/>
<rect x="648.84" y="234.82" width="4.90" height="9.89" fill="#111a82"/>
<rect x="653.74" y="234.82" width="4.90" height="9.89" fill="#4480ff"/>
<rect x="658.64" y="234.82" width="4.90" height="9.89" fill="#2130ff"/>
<rect x="663.54" y="234.82" width="4.90" height="9.89" fill="#9cf837"/>
<rect x="668.43" y="234.82" width="9.80" height="9.89" fill="#4480ff"/>
<rect x="678.23" y="234.82" width="9.80" height="9.89" fill="#2130ff"/>
<rect x="688.03" y="234.82" width="4.90" height="9.89" fill="#4480ff"/>
<rect x="692.93" y="234.82" width="4.90" height="9.89" fill="#8ffcff"/>
<rect x="697.83" y="234.82" width="4.90" height="9.89" fill="#111a82"/>
<rect x="702.72" y="234.82" width="4.90" height="9.89" fill="#8ffcff"/>
<rect x="707.62" y="234.82" width="4.90" height="9.89" fill="#9cf837"/>
<rect x="712.52" y="234.82" width="4.90" height="9.89" fill="#8ffcff"/>
<rect x="717.42" y="234.82" width="4.90" height="9.89" fill="#4480ff"/>
<rect x="722.32" y="234.82" width="4.90" height="9.89" fill="#76cf33"/>
<rect x="727.22" y="234.82" width="4.90" height="9.89" fill="#4b8220"/>
<rect x="732.12" y="234.82" width="4.90" height="9.89" fill="#fffb33"/>
<rect x="737.01" y="234.82" width="4.90" height="9.89" fill="#4b8220"/>
<rect x="741.91" y="234.82" width="4.90" height="9.89" fill="#fffb33"/>
<rect x="746.81" y="234.82" width="4.90" height="9.89" fill="#eeaa55"/>
<rect x="751.71" y="234.82" width="4.90" height="9.89" fill="#e6861e"/>
<rect x="756.61" y="234.82" width="4.90" height="9.89" fill="#eeaa55"/>
<rect x="761.51" y="234.82" width="4.90" height="9.89" fill="#a82202"/>
<rect x="766.40" y="234.82" width="9.80" height="9.89" fill="#4b8220"/>
<rect x="776.20" y="234.82" width="4.90" height="9.89" fill="#8ffcff"/>
<rect x="350.03" y="244.71" width="4.90" height="9.89" fill="#2130ff"/>
<rect x="389.22" y="244.71" width="4.90" height="9.89" fill="#2130ff"/>
<rect x="399.02" y="244.71" width="4.90" height="9.89" fill="#2130ff"/>
<rect x="408.82" y="244.71" width="4.90" height="9.89" fill="#111a82"/>
<rect x="418.61" y="244.71" width="4.90" height="9.89" fill="#111a82"/>
<rect x="428.41" y="244.71" width="4.90" height="9.89" fill="#111a82"/>
<rect x="443.10" y="244.71" width="9.80" height="9.89" fill="#111a82"/>
<rect x="462.70" y="244.71" width="4.90" height="9.89" fill="#2130ff"/>
<rect x="487.19" y="244.71" width="4.90" height="9.89" fill="#4480ff"/>
<rect x="516.58" y="244.71" width="4.90" height="9.89" fill="#2130ff"/>
<rect x="521.48" y="244.71" width="4.90" height="9.89" fill="#111a82"/>
<rect x="526.38" y="244.71" width="4.90" height="9.89" fill="#4480ff"/>
<rect x="531.28" y="244.71" width="24.49" height="9.89" fill="#2130ff"/>
<rect x="560.67" y="244.71" width="4.90" height="9.89" fill="#2130ff"/>
<rect x="565.57" y="244.71" width="4.90" height="9.89" fill="#111a82"/>
<rect x="575.36" y="244.71" width="4.90" height="9.89" fill="#4480ff"/>
<rect x="580.26" y="244.71" width="4.90" height="9.89" fill="#2130ff"/>
<rect x="585.16" y="244.71" width="9.80" height="9.89" fill="#111a82"/>
<rect x="599.86" y="244.71" width="9.80" height="9.89" fill="#2130ff"/>
<rect x="609.65" y="244.71" width="9.80" height="9.89" fill="#111a82"/>
<rect x="629.25" y="244.71" width="14.70" height="9.89" fill="#2130ff"/>
<rect x="643.94" y="244.71" width="4.90" height="9.89" fill="#4480ff"/>
<rect x="648.84" y="244.71" width="4.90" height="9.89" fill="#8ffcff"/>
<rect x="653.74" y="244.71" width="4.90" height="9.89" fill="#2130ff"/>
<rect x="658.64" y="244.71" width="4.90" height="9.89" fill="#9cf837"/>
<rect x="663.54" y="244.71" width="4.90" height="9.89" fill="#8ffcff"/>
<rect x="668.43" y="244.71" width="9.80" height="9.89" fill="#4480ff"/>
<rect x="678.23" y="244.71" width="4.90" height="9.89" fill="#2130ff"/>
<rect x="683.13" y="244.71" width="14.70" height="9.89" fill="#4480ff"/>
<rect x="697.83" y="244.71" width="4.90" height="9.89" fill="#8ffcff"/>
<rect x="702.72" y="244.71" width="4.90" height="9.89" fill="#9cf837"/>
<rect x="707.62" y="244.71" width="4.90" height="9.89" fill="#2130ff"/>
<rect x="712.52" y="244.71" width="9.80" height="9.89" fill="#76cf33"/>
<rect x="722.32" y="244.71" width="4.90" height="9.89" fill="#9cf837"/>
<rect x="727.22" y="244.71" width="4.90" height="9.89" fill="#76cf33"/>
<rect x="732.12" y="244.71" width="4.90" height="9.89" fill="#eeaa55"/>
<rect x="737.01" y="244.71" width="4.90" height="9.89" fill="#fffb33"/>
<rect x="741.91" y="244.71" width="4.90" height="9.89" fill="#4b8220"/>
<rect x="746.81" y="244.71" width="4.90" height="9.89" fill="#eeaa55"/>
<rect x="751.71" y="244.71" width="9.80" height="9.89" fill="#e6861e"/>
<rect x="761.51" y="244.71" width="4.90" height="9.89" fill="#4b8220"/>
<rect x="766.40" y="244.71" width="9.80" height="9.89" fill="#e6861e"/>
<rect x="776.20" y="244.71" width="4.90" height="9.89" fill="#2130ff"/>
<rect x="340.24" y="254.59" width="4.90" height="9.89" fill="#111a82"/>
<rect x="364.73" y="254.59" width="9.80" height="9.89" fill="#111a82"/>
<rect x="384.32" y="254.59" width="4.90" height="9.89" fill="#2130ff"/>
<rect x="413.71" y="254.59" width="4.90" height="9.89" fill="#111a82"/>
<rect x="423.51" y="254.59" width="4.90" height="9.89" fill="#2130ff"/>
<rect x="428.41" y="254.59" width="4.90" height="9.89" fill="#111a82"/>
<rect x="438.21" y="254.59" width="4.90" height="9.89" fill="#111a82"/>
<rect x="452.90" y="254.59" width="14.70" height="9.89" fill="#111a82"/>
<rect x="477.39" y="254.59" width="4.90" height="9.89" fill="#111a82"/>
<rect x="482.29" y="254.59" width="4.90" height="9.89" fill="#2130ff"/>
<rect x="487.19" y="254.59" width="4.90" height="9.89" fill="#111a82"/>
<rect x="501.89" y="254.59" width="4.90" height="9.89" fill="#111a82"/>
<rect x="516.58" y="254.59" width="4.90" height="9.89" fill="#111a82"/>
<rect x="521.48" y="254.59" width="9.80" height="9.89" fill="#2130ff"/>
<rect x="536.18" y="254.59" width="4.90" height="9.89" fill="#2130ff"/>
<rect x="541.07" y="254.59" width="14.70" height="9.89" fill="#111a82"/>
<rect x="555.77" y="254.59" width="4.90" height="9.89" fill="#4480ff"/>
<rect x="565.57" y="254.59" width="4.90" height="9.89" fill="#4480ff"/>
<rect x="570.47" y="254.59" width="24.49" height="9.89" fill="#2130ff"/>
<rect x="594.96" y="254.59" width="4.90" height="9.89" fill="#111a82"/>
<rect x="599.86" y="254.59" width="9.80" height="9.89" fill="#2130ff"/>
<rect x="614.55" y="254.59" width="4.90" height="9.89" fill="#111a82"/>
<rect x="624.35" y="254.59" width="4.90" height="9.89" fill="#111a82"/>
<rect x="629.25" y="254.59" width="4.90" height="9.89" fill="#2130ff"/>
<rect x="634.15" y="254.59" width="4.90" height="9.89" fill="#4480ff"/>
<rect x="639.04" y="254.59" width="9.80" height="9.89" fill="#2130ff"/>
<rect x="648.84" y="254.59" width="4.90" height="9.89" fill="#4480ff"/>
<rect x="653.74" y="254.59" width="4.90" height="9.89" fill="#8ffcff"/>
<rect x="658.64" y="254.59" width="14.70" height="9.89" fill="#4480ff"/>
<rect x="673.33" y="254.59" width="4.90" height="9.89" fill="#2130ff"/>
<rect x="678.23" y="254.59" width="9.80" height="9.89" fill="#8ffcff"/>
<rect x="688.03" y="254.59" width="4.90" height="9.89" fill="#4480ff"/>
<rect x="692.93" y="254.59" width="4.90" height="9.89" fill="#76cf33"/>
<rect x="697.83" y="254.59" width="4.90" height="9.89" fill="#9cf837"/>
<rect x="702.72" y="254.59" width="4.90" height="9.89" fill="#4480ff"/>
<rect x="707.62" y="254.59" width="9.80" height="9.89" fill="#8ffcff"/>
<rect x="717.42" y="254.59" width="4.90" height="9.89" fill="#9cf837"/>
<rect x="722.32" y="254.59" width="4.90" height="9.89" fill="#4b8220"/>
<rect x="727.22" y="254.59" width="4.90" height="9.89" fill="#e6861e"/>
<rect x="732.12" y="254.59" width="4.90" height="9.89" fill="#eeaa55"/>
<rect x="737.01" y="254.59" width="4.90" height="9.89" fill="#4b8220"/>
<rect x="741.91" y="254.59" width="4.90" height="9.89" fill="#eeaa55"/>
<rect x="746.81" y="254.59" width="4.90" height="9.89" fill="#4b8220"/>
<rect x="751.71" y="254.59" width="4.90" height="9.89" fill="#714212"/>
<rect x="756.61" y="254.59" width="4.90" height="9.89" fill="#76cf33"/>
<rect x="761.51" y="254.59" width="9.80" height="9.89" fill="#e6861e"/>
<rect x="771.30" y="254.59" width="4.90" height="9.89" fill="#76cf33"/>
<rect x="776.20" y="254.59" width="4.90" height="9.89" fill="#4480ff"/>
<rect x="389.22" y="264.48" width="4.90" height="9.89" fill="#2130ff"/>
<rect x="418.61" y="264.48" width="4.90" height="9.89" fill="#2130ff"/>
<rect x="452.90" y="264.48" width="4.90" height="9.89" fill="#2130ff"/>
<rect x="472.50" y="264.48" width="9.80" height="9.89" fill="#2130ff"/>
<rect x="496.99" y="264.48" width="4.90" height="9.89" fill="#111a82"/>
<rect x="506.78" y="264.48" width="9.80" height="9.89" fill="#111a82"/>
<rect x="516.58" y="264.48" width="4.90" height="9.89" fill="#2130ff"/>
<rect x="521.48" y="264.48" width="4.90" height="9.89" fill="#4480ff"/>
<rect x="531.28" y="264.48" width="9.80" height="9.89" fill="#2130ff"/>
<rect x="550.87" y="264.48" width="4.90" height="9.89" fill="#4480ff"/>
<rect x="555.77" y="264.48" width="14.70" height="9.89" fill="#2130ff"/>
<rect x="570.47" y="264.48" width="4.90" height="9.89" fill="#4480ff"/>
<rect x="575.36" y="264.48" width="14.70" height="9.89" fill="#2130ff"/>
<rect x="594.96" y="264.48" width="19.59" height="9.89" fill="#2130ff"/>
<rect x="614.55" y="264.48" width="14.70" height="9.89" fill="#111a82"/>
<rect x="629.25" y="264.48" width="4.90" height="9.89" fill="#2130ff"/>
<rect x="634.15" y="264.48" width="4.90" height="9.89" fill="#111a82"/>
<rect x="639.04" y="264.48" width="4.90" height="9.89" fill="#2130ff"/>
<rect x="648.84" y="264.48" width="4.90" height="9.89" fill="#9cf837"/>
<rect x="653.74" y="264.48" width="9.80" height="9.89" fill="#8ffcff"/>
<rect x="663.54" y="264.48" width="4.90" height="9.89" fill="#4480ff"/>
<rect x="668.43" y="264.48" width="4.90" height="9.89" fill="#2130ff"/>
<rect x="673.33" y="264.48" width="4.90" height="9.89" fill="#4480ff"/>
<rect x="678.23" y="264.48" width="4.90" height="9.89" fill="#76cf33"/>
<rect x="683.13" y="264.48" width="4.90" height="9.89" fill="#2130ff"/>
<rect x="688.03" y="264.48" width="4.90" height="9.89" fill="#9cf837"/>
<rect x="692.93" y="264.48" width="4.90" height="9.89" fill="#4480ff"/>
<rect x="697.83" y="264.48" width="4.90" height="9.89" fill="#8ffcff"/>
<rect x="702.72" y="264.48" width="4.90" height="9.89" fill="#4480ff"/>
<rect x="707.62" y="264.48" width="4.90" height="9.89" fill="#8ffcff"/>
<rect x="712.52" y="264.48" width="14.70" height="9.89" fill="#76cf33"/>
<rect x="727.22" y="264.48" width="4.90" height="9.89" fill="#eeaa55"/>
<rect x="732.12" y="264.48" width="4.90" height="9.89" fill="#fffb33"/>
<rect x="737.01" y="264.48" width="4.90" height="9.89" fill="#a82202"/>
<rect x="741.91" y="264.48" width="4.90" height="9.89" fill="#76cf33"/>
<rect x="746.81" y="264.48" width="4.90" height="9.89" fill="#714212"/>
<rect x="751.71" y="264.48" width="4.90" height="9.89" fill="#fffb33"/>
<rect x="756.61" y="264.48" width="9.80" height="9.89" fill="#714212"/>
<rect x="766.40" y="264.48" width="9.80" height="9.89" fill="#76cf33"/>
<rect x="776.20" y="264.48" width="4.90" height="9.89" fill="#2130ff"/>
<rect x="310.85" y="274.37" width="4.90" height="9.89" fill="#111a82"/>
<rect x="335.34" y="274.37" width="4.90" height="9.89" fill="#111a82"/>
<rect x="369.63" y="274.37" width="4.90" height="9.89" fill="#111a82"/>
<rect x="384.32" y="274.37" width="4.90" height="9.89" fill="#2130ff"/>
<rect x="413.71" y="274.37" width="4.90" height="9.89" fill="#2130ff"/>
<rect x="443.10" y="274.37" width="9.80" height="9.89" fill="#111a82"/>
<rect x="467.60" y="274.37" width="9.80" height="9.89" fill="#2130ff"/>
<rect x="487.19" y="274.37" width="4.90" height="9.89" fill="#111a82"/>
<rect x="501.89" y="274.37" width="4.90" height="9.89" fill="#111a82"/>
<rect x="511.68" y="274.37" width="9.80" height="9.89" fill="#111a82"/>
<rect x="521.48" y="274.37" width="4.90" height="9.89" fill="#4480ff"/>
<rect x="526.38" y="274.37" width="9.80" height="9.89" fill="#2130ff"/>
<rect x="541.07" y="274.37" width="4.90" height="9.89" fill="#111a82"/>
<rect x="545.97" y="274.37" width="4.90" height="9.89" fill="#2130ff"/>
<rect x="565.57" y="274.37" width="9.80" height="9.89" fill="#4480ff"/>
<rect x="575.36" y="274.37" width="4.90" height="9.89" fill="#111a82"/>
<rect x="580.26" y="274.37" width="14.70" height="9.89" fill="#2130ff"/>
<rect x="594.96" y="274.37" width="9.80" height="9.89" fill="#111a82"/>
<rect x="604.75" y="274.37" width="4.90" height="9.89" fill="#2130ff"/>
<rect x="614.55" y="274.37" width="4.90" height="9.89" fill="#111a82"/>
<rect x="619.45" y="274.37" width="4.90" height="9.89" fill="#4480ff"/>
<rect x="624.35" y="274.37" width="14.70" height="9.89" fill="#2130ff"/>
<rect x="639.04" y="274.37" width="4.90" height="9.89" fill="#4480ff"/>
<rect x="643.94" y="274.37" width="14.70" height="9.89" fill="#8ffcff"/>
<rect x="658.64" y="274.37" width="4.90" height="9.89" fill="#2130ff"/>
<rect x="663.54" y="274.37" width="24.49" height="9.89" fill="#4480ff"/>
<rect x="688.03" y="274.37" width="4.90" height="9.89" fill="#8ffcff"/>
<rect x="692.93" y="274.37" width="4.90" height="9.89" fill="#4480ff"/>
<rect x="697.83" y="274.37" width="14.70" height="9.89" fill="#9cf837"/>
<rect x="712.52" y="274.37" width="4.90" height="9.89" fill="#76cf33"/>
<rect x="717.42" y="274.37" width="9.80" height="9.89" fill="#fffb33"/>
<rect x="727.22" y="274.37" width="4.90" height="9.89" fill="#eeaa55"/>
<rect x="732.12" y="274.37" width="4.90" height="9.89" fill="#a82202"/>
<rect x="737.01" y="274.37" width="4.90" height="9.89" fill="#fffb33"/>
<rect x="741.91" y="274.37" width="4.90" height="9.89" fill="#76cf33"/>
<rect x="746.81" y="274.37" width="4.90" height="9.89" fill="#fffb33"/>
<rect x="751.71" y="274.37" width="4.90" height="9.89" fill="#a82202"/>
<rect x="756.61" y="274.37" width="4.90" height="9.89" fill="#714212"/>
<rect x="761.51" y="274.37" width="4.90" height="9.89" fill="#4b8220"/>
<rect x="766.40" y="274.37" width="4.90" height="9.89" fill="#76cf33"/>
<rect x="771.30" y="274.37" width="4.90" height="9.89" fill="#4b8220"/>
<rect x="776.20" y="274.37" width="4.90" height="9.89" fill="#2130ff"/>
<rect x="305.95" y="284.26" width="9.80" height="9.89" fill="#111a82"/>
<rect x="320.64" y="284.26" width="4.90" height="9.89" fill="#111a82"/>
<rect x="369.63" y="284.26" width="4.90" height="9.89" fill="#2130ff"/>
<rect x="379.42" y="284.26" width="4.90" height="9.89" fill="#2130ff"/>
<rect x="389.22" y="284.26" width="4.90" height="9.89" fill="#111a82"/>
<rect x="403.92" y="284.26" width="4.90" height="9.89" fill="#111a82"/>
<rect x="408.82" y="284.26" width="4.90" height="9.89" fill="#2130ff"/>
<rect x="423.51" y="284.26" width="4.90" height="9.89" fill="#111a82"/>
<rect x="438.21" y="284.26" width="9.80" height="9.89" fill="#2130ff"/>
<rect x="462.70" y="284.26" width="4.90" height="9.89" fill="#111a82"/>
<rect x="467.60" y="284.26" width="4.90" height="9.89" fill="#2130ff"/>
<rect x="492.09" y="284.26" width="4.90" height="9.89" fill="#2130ff"/>
<rect x="496.99" y="284.26" width="4.90" height="9.89" fill="#111a82"/>
<rect x="501.89" y="284.26" width="9.80" height="9.89" fill="#2130ff"/>
<rect x="511.68" y="284.26" width="4.90" height="9.89" fill="#111a82"/>
<rect x="521.48" y="284.26" width="4.90" height="9.89" fill="#2130ff"/>
<rect x="526.38" y="284.26" width="14.70" height="9.89" fill="#111a82"/>
<rect x="541.07" y="284.26" width="4.90" height="9.89" fill="#2130ff"/>
<rect x="550.87" y="284.26" width="4.90" height="9.89" fill="#2130ff"/>
<rect x="560.67" y="284.26" width="14.70" height="9.89" fill="#2130ff"/>
<rect x="575.36" y="284.26" width="4.90" height="9.89" fill="#4480ff"/>
<rect x="580.26" y="284.26" width="4.90" height="9.89" fill="#2130ff"/>
<rect x="585.16" y="284.26" width="4.90" height="9.89" fill="#4480ff"/>
<rect x="590.06" y="284.26" width="9.80" height="9.89" fill="#2130ff"/>
<rect x="614.55" y="284.26" width="14.70" height="9.89" fill="#2130ff"/>
<rect x="629.25" y="284.26" width="4.90" height="9.89" fill="#4480ff"/>
<rect x="634.15" y="284.26" width="4.90" height="9.89" fill="#8ffcff"/>
<rect x="639.04" y="284.26" width="9.80" height="9.89" fill="#9cf837"/>
<rect x="648.84" y="284.26" width="4.90" height="9.89" fill="#4480ff"/>
<rect x="653.74" y="284.26" width="9.80" height="9.89" fill="#2130ff"/>
<rect x="663.54" y="284.26" width="4.90" height="9.89" fill="#8ffcff"/>
<rect x="668.43" y="284.26" width="9.80" height="9.89" fill="#4480ff"/>
<rect x="678.23" y="284.26" width="4.90" height="9.89" fill="#9cf837"/>
<rect x="683.13" y="284.26" width="4.90" height="9.89" fill="#76cf33"/>
<rect x="688.03" y="284.26" width="9.80" height="9.89" fill="#8ffcff"/>
<rect x="697.83" y="284.26" width="4.90" height="9.89" fill="#9cf837"/>
<rect x="702.72" y="284.26" width="4.90" height="9.89" fill="#8ffcff"/>
<rect x="707.62" y="284.26" width="4.90" height="9.89" fill="#4b8220"/>
<rect x="712.52" y="284.26" width="4.90" height="9.89" fill="#eeaa55"/>
<rect x="717.42" y="284.26" width="4.90" height="9.89" fill="#9cf837"/>
<rect x="722.32" y="284.26" width="4.90" height="9.89" fill="#eeaa55"/>
<rect x="727.22" y="284.26" width="4.90" height="9.89" fill="#714212"/>
<rect x="732.12" y="284.26" width="4.90" height="9.89" fill="#fffb33"/>
<rect x="737.01" y="284.26" width="4.90" height="9.89" fill="#a82202"/>
<rect x="741.91" y="284.26" width="9.80" height="9.89" fill="#eeaa55"/>
<rect x="751.71" y="284.26" width="4.90" height="9.89" fill="#714212"/>
<rect x="756.61" y="284.26" width="9.80" height="9.89" fill="#eeaa55"/>
<rect x="766.40" y="284.26" width="4.90" height="9.89" fill="#76cf33"/>
<rect x="771.30" y="284.26" width="4.90" height="9.89" fill="#9cf837"/>
<rect x="776.20" y="284.26" width="4.90" height="9.89" fill="#2130ff"/>
<rect x="374.53" y="294.14" width="4.90" height="9.89" fill="#2130ff"/>
<rect x="384.32" y="294.14" width="4.90" height="9.89" fill="#111a82"/>
<rect x="389.22" y="294.14" width="4.90" height="9.89" fill="#2130ff"/>
<rect x="403.92" y="294.14" width="4.90" height="9.89" fill="#2130ff"/>
<rect x="433.31" y="294.14" width="4.90" height="9.89" fill="#111a82"/>
<rect x="438.21" y="294.14" width="4.90" height="9.89" fill="#2130ff"/>
<rect x="457.80" y="294.14" width="9.80" height="9.89" fill="#2130ff"/>
<rect x="482.29" y="294.14" width="14.70" height="9.89" fill="#111a82"/>
<rect x="496.99" y="294.14" width="14.70" height="9.89" fill="#2130ff"/>
<rect x="516.58" y="294.14" width="9.80" height="9.89" fill="#2130ff"/>
<rect x="531.28" y="294.14" width="9.80" height="9.89" fill="#2130ff"/>
<rect x="545.97" y="294.14" width="19.59" height="9.89" fill="#2130ff"/>
<rect x="570.47" y="294.14" width="14.70" height="9.89" fill="#2130ff"/>
<rect x="590.06" y="294.14" width="9.80" height="9.89" fill="#2130ff"/>
<rect x="599.86" y="294.14" width="4.90" height="9.89" fill="#111a82"/>
<rect x="604.75" y="294.14" width="4.90" height="9.89" fill="#2130ff"/>
<rect x="609.65" y="294.14" width="4.90" height="9.89" fill="#4480ff"/>
<rect x="614.55" y="294.14" width="14.70" height="9.89" fill="#2130ff"/>
<rect x="629.25" y="294.14" width="9.80" height="9.89" fill="#8ffcff"/>
<rect x="639.04" y="294.14" width="4.90" height="9.89" fill="#2130ff"/>
<rect x="643.94" y="294.14" width="4.90" height="9.89" fill="#8ffcff"/>
<rect x="648.84" y="294.14" width="4.90" height="9.89" fill="#2130ff"/>
<rect x="653.74" y="294.14" width="4.90" height="9.89" fill="#4480ff"/>
<rect x="658.64" y="294.14" width="4.90" height="9.89" fill="#8ffcff"/>
<rect x="663.54" y="294.14" width="9.80" height="9.89" fill="#4480ff"/>
<rect x="673.33" y="294.14" width="9.80" height="9.89" fill="#8ffcff"/>
<rect x="683.13" y="294.14" width="4.90" height="9.89" fill="#4480ff"/>
<rect x="688.03" y="294.14" width="4.90" height="9.89" fill="#8ffcff"/>
<rect x="692.93" y="294.14" width="4.90" height="9.89" fill="#4480ff"/>
<rect x="697.83" y="294.14" width="9.80" height="9.89" fill="#76cf33"/>
<rect x="707.62" y="294.14" width="4.90" height="9.89" fill="#eeaa55"/>
<rect x="712.52" y="294.14" width="14.70" height="9.89" fill="#e6861e"/>
<rect x="727.22" y="294.14" width="14.70" height="9.89" fill="#eeaa55"/>
<rect x="741.91" y="294.14" width="9.80" height="9.89" fill="#714212"/>
<rect x="751.71" y="294.14" width="14.70" height="9.89" fill="#eeaa55"/>
<rect x="766.40" y="294.14" width="9.80" height="9.89" fill="#76cf33"/>
<rect x="776.20" y="294.14" width="4.90" height="9.89" fill="#2130ff"/>
<rect x="369.63" y="304.03" width="4.90" height="9.89" fill="#2130ff"/>
<rect x="379.42" y="304.03" width="4.90" height="9.89" fill="#111a82"/>
<rect x="399.02" y="304.03" width="4.90" height="9.89" fill="#2130ff"/>
<rect x="413.71" y="304.03" width="4.90" height="9.89" fill="#111a82"/>
<rect x="428.41" y="304.03" width="9.80" height="9.89" fill="#2130ff"/>
<rect x="438.21" y="304.03" width="4.90" height="9.89" fill="#111a82"/>
<rect x="452.90" y="304.03" width="9.80" height="9.89" fill="#2130ff"/>
<rect x="462.70" y="304.03" width="4.90" height="9.89" fill="#111a82"/>
<rect x="492.09" y="304.03" width="19.59" height="9.89" fill="#2130ff"/>
<rect x="511.68" y="304.03" width="4.90" height="9.89" fill="#111a82"/>
<rect x="516.58" y="304.03" width="4.90" height="9.89" fill="#4480ff"/>
<rect x="521.48" y="304.03" width="4.90" height="9.89" fill="#111a82"/>
<rect x="526.38" y="304.03" width="14.70" height="9.89" fill="#2130ff"/>
<rect x="541.07" y="304.03" width="4.90" height="9.89" fill="#4480ff"/>
<rect x="545.97" y="304.03" width="9.80" height="9.89" fill="#2130ff"/>
<rect x="555.77" y="304.03" width="4.90" height="9.89" fill="#4480ff"/>
<rect x="560.67" y="304.03" width="4.90" height="9.89" fill="#111a82"/>
<rect x="565.57" y="304.03" width="19.59" height="9.89" fill="#2130ff"/>
<rect x="590.06" y="304.03" width="4.90" height="9.89" fill="#111a82"/>
<rect x="604.75" y="304.03" width="4.90" height="9.89" fill="#4480ff"/>
<rect x="609.65" y="304.03" width="4.90" height="9.89" fill="#111a82"/>
<rect x="614.55" y="304.03" width="4.90" height="9.89" fill="#4480ff"/>
<rect x="619.45" y="304.03" width="4.90" height="9.89" fill="#2130ff"/>
<rect x="624.35" y="304.03" width="4.90" height="9.89" fill="#4480ff"/>
<rect x="629.25" y="304.03" width="4.90" height="9.89" fill="#8ffcff"/>
<rect x="634.15" y="304.03" width="4.90" height="9.89" fill="#9cf837"/>
<rect x="639.04" y="304.03" width="9.80" height="9.89" fill="#4480ff"/>
<rect x="648.84" y="304.03" width="4.90" height="9.89" fill="#2130ff"/>
<rect x="653.74" y="304.03" width="9.80" height="9.89" fill="#8ffcff"/>
<rect x="663.54" y="304.03" width="4.90" height="9.89" fill="#4480ff"/>
<rect x="668.43" y="304.03" width="4.90" height="9.89" fill="#8ffcff"/>
<rect x="673.33" y="304.03" width="4.90" height="9.89" fill="#4b8220"/>
<rect x="678.23" y="304.03" width="9.80" height="9.89" fill="#8ffcff"/>
<rect x="688.03" y="304.03" width="4.90" height="9.89" fill="#9cf837"/>
<rect x="692.93" y="304.03" width="4.90" height="9.89" fill="#8ffcff"/>
<rect x="697.83" y="304.03" width="4.90" height="9.89" fill="#4b8220"/>
<rect x="702.72" y="304.03" width="4.90" height="9.89" fill="#76cf33"/>
<rect x="707.62" y="304.03" width="4.90" height="9.89" fill="#fffb33"/>
<rect x="712.52" y="304.03" width="4.90" height="9.89" fill="#e6861e"/>
<rect x="717.42" y="304.03" width="4.90" height="9.89" fill="#a82202"/>
<rect x="722.32" y="304.03" width="4.90" height="9.89" fill="#eeaa55"/>
<rect x="727.22" y="304.03" width="4.90" height="9.89" fill="#714212"/>
<rect x="732.12" y="304.03" width="4.90" height="9.89" fill="#4b8220"/>
<rect x="737.01" y="304.03" width="9.80" height="9.89" fill="#714212"/>
<rect x="746.81" y="304.03" width="4.90" height="9.89" fill="#4b8220"/>
<rect x="751.71" y="304.03" width="4.90" height="9.89" fill="#e6861e"/>
<rect x="756.61" y="304.03" width="4.90" height="9.89" fill="#4b8220"/>
<rect x="761.51" y="304.03" width="4.90" height="9.89" fill="#8ffcff"/>
<rect x="766.40" y="304.03" width="4.90" height="9.89" fill="#4b8220"/>
<rect x="771.30" y="304.03" width="9.80" height="9.89" fill="#8ffcff"/>
<rect x="261.86" y="313.92" width="4.90" height="9.89" fill="#111a82"/>
<rect x="291.25" y="313.92" width="4.90" height="9.89" fill="#111a82"/>
<rect x="345.13" y="313.92" width="4.90" height="9.89" fill="#111a82"/>
<rect x="364.73" y="313.92" width="4.90" height="9.89" fill="#2130ff"/>
<rect x="394.12" y="313.92" width="4.90" height="9.89" fill="#4480ff"/>
<rect x="428.41" y="313.92" width="4.90" height="9.89" fill="#2130ff"/>
<rect x="443.10" y="313.92" width="4.90" height="9.89" fill="#111a82"/>
<rect x="452.90" y="313.92" width="4.90" height="9.89" fill="#111a82"/>
<rect x="457.80" y="313.92" width="4.90" height="9.89" fill="#2130ff"/>
<rect x="472.50" y="313.92" width="4.90" height="9.89" fill="#111a82"/>
<rect x="482.29" y="313.92" width="4.90" height="9.89" fill="#111a82"/>
<rect x="487.19" y="313.92" width="9.80" height="9.89" fill="#2130ff"/>
<rect x="496.99" y="313.92" width="9.80" height="9.89" fill="#111a82"/>
<rect x="506.78" y="313.92" width="9.80" height="9.89" fill="#2130ff"/>
<rect x="521.48" y="313.92" width="9.80" height="9.89" fill="#2130ff"/>
<rect x="531.28" y="313.92" width="4.90" height="9.89" fill="#111a82"/>
<rect x="541.07" y="313.92" width="9.80" height="9.89" fill="#2130ff"/>
<rect x="550.87" y="313.92" width="4.90" height="9.89" fill="#4480ff"/>
<rect x="555.77" y="313.92" width="9.80" height="9.89" fill="#2130ff"/>
<rect x="565.57" y="313.92" width="14.70" height="9.89" fill="#4480ff"/>
<rect x="580.26" y="313.92" width="4.90" height="9.89" fill="#2130ff"/>
<rect x="585.16" y="313.92" width="4.90" height="9.89" fill="#111a82"/>
<rect x="594.96" y="313.92" width="4.90" height="9.89" fill="#2130ff"/>
<rect x="599.86" y="313.92" width="4.90" height="9.89" fill="#4480ff"/>
<rect x="604.75" y="313.92" width="4.90" height="9.89" fill="#111a82"/>
<rect x="609.65" y="313.92" width="9.80" height="9.89" fill="#2130ff"/>
<rect x="619.45" y="313.92" width="9.80" height="9.89" fill="#8ffcff"/>
<rect x="629.25" y="313.92" width="4.90" height="9.89" fill="#4480ff"/>
<rect x="634.15" y="313.92" width="4.90" height="9.89" fill="#8ffcff"/>
<rect x="639.04" y="313.92" width="9.80" height="9.89" fill="#2130ff"/>
<rect x="648.84" y="313.92" width="4.90" height="9.89" fill="#4480ff"/>
<rect x="653.74" y="313.92" width="4.90" height="9.89" fill="#9cf837"/>
<rect x="658.64" y="313.92" width="4.90" height="9.89" fill="#4480ff"/>
<rect x="663.54" y="313.92" width="4.90" height="9.89" fill="#8ffcff"/>
<rect x="668.43" y="313.92" width="4.90" height="9.89" fill="#76cf33"/>
<rect x="673.33" y="313.92" width="9.80" height="9.89" fill="#8ffcff"/>
<rect x="683.13" y="313.92" width="4.90" height="9.89" fill="#9cf837"/>
<rect x="688.03" y="313.92" width="14.70" height="9.89" fill="#4b8220"/>
<rect x="702.72" y="313.92" width="4.90" height="9.89" fill="#76cf33"/>
<rect x="707.62" y="313.92" width="4.90" height="9.89" fill="#e6861e"/>
<rect x="712.52" y="313.92" width="9.80" height="9.89" fill="#eeaa55"/>
<rect x="722.32" y="313.92" width="4.90" height="9.89" fill="#a82202"/>
<rect x="727.22" y="313.92" width="4.90" height="9.89" fill="#eeaa55"/>
<rect x="732.12" y="313.92" width="4.90" height="9.89" fill="#714212"/>
<rect x="737.01" y="313.92" width="4.90" height="9.89" fill="#a82202"/>
<rect x="741.91" y="313.92" width="4.90" height="9.89" fill="#76cf33"/>
<rect x="746.81" y="313.92" width="4.90" height="9.89" fill="#714212"/>
<rect x="751.71" y="313.92" width="9.80" height="9.89" fill="#4b8220"/>
<rect x="761.51" y="313.92" width="4.90" height="9.89" fill="#e6861e"/>
<rect x="766.40" y="313.92" width="4.90" height="9.89" fill="#76cf33"/>
<rect x="771.30" y="313.92" width="4.90" height="9.89" fill="#eeaa55"/>
<rect x="776.20" y="313.92" width="4.90" height="9.89" fill="#2130ff"/>
<rect x="350.03" y="323.80" width="4.90" height="9.89" fill="#111a82"/>
<rect x="354.93" y="323.80" width="9.80" height="9.89" fill="#2130ff"/>
<rect x="389.22" y="323.80" width="9.80" height="9.89" fill="#111a82"/>
<rect x="423.51" y="323.80" width="4.90" height="9.89" fill="#2130ff"/>
<rect x="438.21" y="323.80" width="14.70" height="9.89" fill="#2130ff"/>
<rect x="482.29" y="323.80" width="24.49" height="9.89" fill="#2130ff"/>
<rect x="506.78" y="323.80" width="4.90" height="9.89" fill="#4480ff"/>
<rect x="521.48" y="323.80" width="4.90" height="9.89" fill="#2130ff"/>
<rect x="536.18" y="323.80" width="4.90" height="9.89" fill="#111a82"/>
<rect x="541.07" y="323.80" width="9.80" height="9.89" fill="#4480ff"/>
<rect x="550.87" y="323.80" width="14.70" height="9.89" fill="#2130ff"/>
<rect x="570.47" y="323.80" width="4.90" height="9.89" fill="#2130ff"/>
<rect x="575.36" y="323.80" width="9.80" height="9.89" fill="#111a82"/>
<rect x="590.06" y="323.80" width="4.90" height="9.89" fill="#111a82"/>
<rect x="594.96" y="323.80" width="9.80" height="9.89" fill="#2130ff"/>
<rect x="604.75" y="323.80" width="9.80" height="9.89" fill="#4480ff"/>
<rect x="614.55" y="323.80" width="4.90" height="9.89" fill="#2130ff"/>
<rect x="619.45" y="323.80" width="14.70" height="9.89" fill="#4480ff"/>
<rect x="634.15" y="323.80" width="4.90" height="9.89" fill="#2130ff"/>
<rect x="639.04" y="323.80" width="4.90" height="9.89" fill="#111a82"/>
<rect x="643.94" y="323.80" width="14.70" height="9.89" fill="#4480ff"/>
<rect x="658.64" y="323.80" width="9.80" height="9.89" fill="#9cf837"/>
<rect x="668.43" y="323.80" width="4.90" height="9.89" fill="#8ffcff"/>
<rect x="673.33" y="323.80" width="4.90" height="9.89" fill="#4480ff"/>
<rect x="678.23" y="323.80" width="4.90" height="9.89" fill="#8ffcff"/>
<rect x="683.13" y="323.80" width="4.90" height="9.89" fill="#eeaa55"/>
<rect x="688.03" y="323.80" width="4.90" height="9.89" fill="#9cf837"/>
<rect x="692.93" y="323.80" width="9.80" height="9.89" fill="#fffb33"/>
<rect x="702.72" y="323.80" width="4.90" height="9.89" fill="#4b8220"/>
<rect x="707.62" y="323.80" width="4.90" height="9.89" fill="#714212"/>
<rect x="712.52" y="323.80" width="4.90" height="9.89" fill="#eeaa55"/>
<rect x="717.42" y="323.80" width="4.90" height="9.89" fill="#a82202"/>
<rect x="722.32" y="323.80" width="4.90" height="9.89" fill="#fffb33"/>
<rect x="727.22" y="323.80" width="9.80" height="9.89" fill="#714212"/>
<rect x="737.01" y="323.80" width="4.90" height="9.89" fill="#76cf33"/>
<rect x="741.91" y="323.80" width="4.90" height="9.89" fill="#e6861e"/>
<rect x="746.81" y="323.80" width="4.90" height="9.89" fill="#4b8220"/>
<rect x="751.71" y="323.80" width="4.90" height="9.89" fill="#76cf33"/>
<rect x="756.61" y="323.80" width="4.90" height="9.89" fill="#4b8220"/>
<rect x="761.51" y="323.80" width="4.90" height="9.89" fill="#9cf837"/>
<rect x="766.40" y="323.80" width="4.90" height="9.89" fill="#4b8220"/>
<rect x="771.30" y="323.80" width="4.90" height="9.89" fill="#76cf33"/>
<rect x="776.20" y="323.80" width="4.90" height="9.89" fill="#2130ff"/>
<rect x="252.06" y="333.69" width="4.90" height="9.89" fill="#111a82"/>
<rect x="325.54" y="333.69" width="4.90" height="9.89" fill="#111a82"/>
<rect x="350.03" y="333.69" width="4.90" height="9.89" fill="#111a82"/>
<rect x="379.42" y="333.69" width="4.90" height="9.89" fill="#111a82"/>
<rect x="384.32" y="333.69" width="4.90" height="9.89" fill="#2130ff"/>
<rect x="389.22" y="333.69" width="4.90" height="9.89" fill="#111a82"/>
<rect x="399.02" y="333.69" width="4.90" height="9.89" fill="#111a82"/>
<rect x="413.71" y="333.69" width="9.80" height="9.89" fill="#2130ff"/>
<rect x="438.21" y="333.69" width="4.90" height="9.89" fill="#111a82"/>
<rect x="443.10" y="333.69" width="4.90" height="9.89" fill="#2130ff"/>
<rect x="467.60" y="333.69" width="4.90" height="9.89" fill="#111a82"/>
<rect x="472.50" y="333.69" width="4.90" height="9.89" fill="#2130ff"/>
<rect x="477.39" y="333.69" width="4.90" height="9.89" fill="#111a82"/>
<rect x="482.29" y="333.69" width="4.90" height="9.89" fill="#2130ff"/>
<rect x="487.19" y="333.69" width="4.90" height="9.89" fill="#4480ff"/>
<rect x="492.09" y="333.69" width="14.70" height="9.89" fill="#2130ff"/>
<rect x="511.68" y="333.69" width="4.90" height="9.89" fill="#111a82"/>
<rect x="516.58" y="333.69" width="4.90" height="9.89" fill="#4480ff"/>
<rect x="521.48" y="333.69" width="34.29" height="9.89" fill="#2130ff"/>
<rect x="555.77" y="333.69" width="4.90" height="9.89" fill="#111a82"/>
<rect x="560.67" y="333.69" width="9.80" height="9.89" fill="#2130ff"/>
<rect x="570.47" y="333.69" width="4.90" height="9.89" fill="#111a82"/>
<rect x="575.36" y="333.69" width="34.29" height="9.89" fill="#2130ff"/>
<rect x="609.65" y="333.69" width="4.90" height="9.89" fill="#8ffcff"/>
<rect x="614.55" y="333.69" width="4.90" height="9.89" fill="#9cf837"/>
<rect x="619.45" y="333.69" width="29.39" height="9.89" fill="#4480ff"/>
<rect x="648.84" y="333.69" width="4.90" height="9.89" fill="#2130ff"/>
<rect x="653.74" y="333.69" width="4.90" height="9.89" fill="#9cf837"/>
<rect x="658.64" y="333.69" width="4.90" height="9.89" fill="#8ffcff"/>
<rect x="663.54" y="333.69" width="4.90" height="9.89" fill="#4480ff"/>
<rect x="668.43" y="333.69" width="4.90" height="9.89" fill="#8ffcff"/>
<rect x="673.33" y="333.69" width="4.90" height="9.89" fill="#9cf837"/>
<rect x="678.23" y="333.69" width="4.90" height="9.89" fill="#76cf33"/>
<rect x="683.13" y="333.69" width="4.90" height="9.89" fill="#4b8220"/>
<rect x="688.03" y="333.69" width="4.90" height="9.89" fill="#e6861e"/>
<rect x="692.93" y="333.69" width="9.80" height="9.89" fill="#4b8220"/>
<rect x="702.72" y="333.69" width="4.90" height="9.89" fill="#e6861e"/>
<rect x="707.62" y="333.69" width="4.90" height="9.89" fill="#eeaa55"/>
<rect x="712.52" y="333.69" width="4.90" height="9.89" fill="#714212"/>
<rect x="717.42" y="333.69" width="4.90" height="9.89" fill="#fffb33"/>
<rect x="722.32" y="333.69" width="9.80" height="9.89" fill="#714212"/>
<rect x="732.12" y="333.69" width="4.90" height="9.89" fill="#76cf33"/>
<rect x="737.01" y="333.69" width="4.90" height="9.89" fill="#eeaa55"/>
<rect x="741.91" y="333.69" width="9.80" height="9.89" fill="#4b8220"/>
<rect x="751.71" y="333.69" width="4.90" height="9.89" fill="#fffb33"/>
<rect x="756.61" y="333.69" width="4.90" height="9.89" fill="#9cf837"/>
<rect x="761.51" y="333.69" width="4.90" height="9.89" fill="#e6861e"/>
<rect x="766.40" y="333.69" width="4.90" height="9.89" fill="#9cf837"/>
<rect x="771.30" y="333.69" width="4.90" height="9.89" fill="#76cf33"/>
<rect x="776.20" y="333.69" width="4.90" height="9.89" fill="#2130ff"/>
<rect x="350.03" y="343.58" width="4.90" height="9.89" fill="#2130ff"/>
<rect x="359.83" y="343.58" width="4.90" height="9.89" fill="#111a82"/>
<rect x="369.63" y="343.58" width="4.90" height="9.89" fill="#111a82"/>
<rect x="379.42" y="343.58" width="4.90" height="9.89" fill="#2130ff"/>
<rect x="408.82" y="343.58" width="4.90" height="9.89" fill="#111a82"/>
<rect x="438.21" y="343.58" width="4.90" height="9.89" fill="#111a82"/>
<rect x="457.80" y="343.58" width="4.90" height="9.89" fill="#111a82"/>
<rect x="467.60" y="343.58" width="4.90" height="9.89" fill="#2130ff"/>
<rect x="472.50" y="343.58" width="9.80" height="9.89" fill="#111a82"/>
<rect x="482.29" y="343.58" width="14.70" height="9.89" fill="#4480ff"/>
<rect x="496.99" y="343.58" width="4.90" height="9.89" fill="#2130ff"/>
<rect x="506.78" y="343.58" width="4.90" height="9.89" fill="#2130ff"/>
<rect x="511.68" y="343.58" width="4.90" height="9.89" fill="#4480ff"/>
<rect x="516.58" y="343.58" width="24.49" height="9.89" fill="#2130ff"/>
<rect x="541.07" y="343.58" width="4.90" height="9.89" fill="#111a82"/>
<rect x="545.97" y="343.58" width="4.90" height="9.89" fill="#2130ff"/>
<rect x="550.87" y="343.58" width="4.90" height="9.89" fill="#4480ff"/>
<rect x="555.77" y="343.58" width="14.70" height="9.89" fill="#2130ff"/>
<rect x="575.36" y="343.58" width="4.90" height="9.89" fill="#2130ff"/>
<rect x="580.26" y="343.58" width="4.90" height="9.89" fill="#111a82"/>
<rect x="585.16" y="343.58" width="4.90" height="9.89" fill="#8ffcff"/>
<rect x="590.06" y="343.58" width="14.70" height="9.89" fill="#2130ff"/>
<rect x="604.75" y="343.58" width="4.90" height="9.89" fill="#4480ff"/>
<rect x="609.65" y="343.58" width="4.90" height="9.89" fill="#8ffcff"/>
<rect x="614.55" y="343.58" width="4.90" height="9.89" fill="#2130ff"/>
<rect x="619.45" y="343.58" width="9.80" height="9.89" fill="#4480ff"/>
<rect x="629.25" y="343.58" width="4.90" height="9.89" fill="#2130ff"/>
<rect x="634.15" y="343.58" width="9.80" height="9.89" fill="#4480ff"/>
<rect x="643.94" y="343.58" width="4.90" height="9.89" fill="#2130ff"/>
<rect x="648.84" y="343.58" width="4.90" height="9.89" fill="#4b8220"/>
<rect x="653.74" y="343.58" width="4.90" height="9.89" fill="#76cf33"/>
<rect x="658.64" y="343.58" width="9.80" height="9.89" fill="#4480ff"/>
<rect x="668.43" y="343.58" width="4.90" height="9.89" fill="#4b8220"/>
<rect x="673.33" y="343.58" width="4.90" height="9.89" fill="#76cf33"/>
<rect x="678.23" y="343.58" width="4.90" height="9.89" fill="#4b8220"/>
<rect x="683.13" y="343.58" width="4.90" height="9.89" fill="#fffb33"/>
<rect x="688.03" y="343.58" width="9.80" height="9.89" fill="#eeaa55"/>
<rect x="697.83" y="343.58" width="4.90" height="9.89" fill="#714212"/>
<rect x="702.72" y="343.58" width="4.90" height="9.89" fill="#e6861e"/>
<rect x="707.62" y="343.58" width="4.90" height="9.89" fill="#a82202"/>
<rect x="712.52" y="343.58" width="4.90" height="9.89" fill="#fffb33"/>
<rect x="717.42" y="343.58" width="9.80" height="9.89" fill="#714212"/>
<rect x="727.22" y="343.58" width="4.90" height="9.89" fill="#76cf33"/>
<rect x="732.12" y="343.58" width="4.90" height="9.89" fill="#4b8220"/>
<rect x="737.01" y="343.58" width="4.90" height="9.89" fill="#e6861e"/>
<rect x="741.91" y="343.58" width="4.90" height="9.89" fill="#9cf837"/>
<rect x="746.81" y="343.58" width="4.90" height="9.89" fill="#fffb33"/>
<rect x="751.71" y="343.58" width="4.90" height="9.89" fill="#8ffcff"/>
<rect x="756.61" y="343.58" width="4.90" height="9.89" fill="#e6861e"/>
<rect x="761.51" y="343.58" width="4.90" height="9.89" fill="#9cf837"/>
<rect x="766.40" y="343.58" width="4.90" height="9.89" fill="#8ffcff"/>
<rect x="771.30" y="343.58" width="4.90" height="9.89" fill="#4b8220"/>
<rect x="776.20" y="343.58" width="4.90" height="9.89" fill="#2130ff"/>
<rect x="320.64" y="353.46" width="4.90" height="9.89" fill="#111a82"/>
<rect x="340.24" y="353.46" width="9.80" height="9.89" fill="#2130ff"/>
<rect x="369.63" y="353.46" width="4.90" height="9.89" fill="#111a82"/>
<rect x="374.53" y="353.46" width="4.90" height="9.89" fill="#2130ff"/>
<rect x="379.42" y="353.46" width="4.90" height="9.89" fill="#111a82"/>
<rect x="389.22" y="353.46" width="4.90" height="9.89" fill="#2130ff"/>
<rect x="403.92" y="353.46" width="4.90" height="9.89" fill="#111a82"/>
<rect x="408.82" y="353.46" width="4.90" height="9.89" fill="#2130ff"/>
<rect x="423.51" y="353.46" width="4.90" height="9.89" fill="#111a82"/>
<rect x="433.31" y="353.46" width="4.90" height="9.89" fill="#2130ff"/>
<rect x="438.21" y="353.46" width="4.90" height="9.89" fill="#111a82"/>
<rect x="452.90" y="353.46" width="4.90" height="9.89" fill="#111a82"/>
<rect x="457.80" y="353.46" width="4.90" height="9.89" fill="#2130ff"/>
<rect x="462.70" y="353.46" width="4.90" height="9.89" fill="#111a82"/>
<rect x="467.60" y="353.46" width="34.29" height="9.89" fill="#2130ff"/>
<rect x="506.78" y="353.46" width="4.90" height="9.89" fill="#4480ff"/>
<rect x="511.68" y="353.46" width="4.90" height="9.89" fill="#2130ff"/>
<rect x="516.58" y="353.46" width="4.90" height="9.89" fill="#4480ff"/>
<rect x="521.48" y="353.46" width="14.70" height="9.89" fill="#2130ff"/>
<rect x="536.18" y="353.46" width="4.90" height="9.89" fill="#111a82"/>
<rect x="541.07" y="353.46" width="4.90" height="9.89" fill="#4480ff"/>
<rect x="545.97" y="353.46" width="4.90" height="9.89" fill="#2130ff"/>
<rect x="550.87" y="353.46" width="4.90" height="9.89" fill="#111a82"/>
<rect x="555.77" y="353.46" width="4.90" height="9.89" fill="#2130ff"/>
<rect x="560.67" y="353.46" width="4.90" height="9.89" fill="#4480ff"/>
<rect x="565.57" y="353.46" width="4.90" height="9.89" fill="#2130ff"/>
<rect x="570.47" y="353.46" width="4.90" height="9.89" fill="#111a82"/>
<rect x="575.36" y="353.46" width="29.39" height="9.89" fill="#2130ff"/>
<rect x="604.75" y="353.46" width="4.90" height="9.89" fill="#8ffcff"/>
<rect x="609.65" y="353.46" width="9.80" height="9.89" fill="#4480ff"/>
<rect x="619.45" y="353.46" width="4.90" height="9.89" fill="#2130ff"/>
<rect x="624.35" y="353.46" width="14.70" height="9.89" fill="#4480ff"/>
<rect x="639.04" y="353.46" width="9.80" height="9.89" fill="#8ffcff"/>
<rect x="648.84" y="353.46" width="4.90" height="9.89" fill="#9cf837"/>
<rect x="653.74" y="353.46" width="9.80" height="9.89" fill="#8ffcff"/>
<rect x="663.54" y="353.46" width="4.90" height="9.89" fill="#76cf33"/>
<rect x="668.43" y="353.46" width="4.90" height="9.89" fill="#4b8220"/>
<rect x="673.33" y="353.46" width="4.90" height="9.89" fill="#76cf33"/>
<rect x="678.23" y="353.46" width="14.70" height="9.89" fill="#4b8220"/>
<rect x="692.93" y="353.46" width="4.90" height="9.89" fill="#e6861e"/>
<rect x="697.83" y="353.46" width="4.90" height="9.89" fill="#eeaa55"/>
<rect x="702.72" y="353.46" width="4.90" height="9.89" fill="#a82202"/>
<rect x="707.62" y="353.46" width="4.90" height="9.89" fill="#e6861e"/>
<rect x="712.52" y="353.46" width="4.90" height="9.89" fill="#a82202"/>
<rect x="717.42" y="353.46" width="4.90" height="9.89" fill="#714212"/>
<rect x="722.32" y="353.46" width="4.90" height="9.89" fill="#4b8220"/>
<rect x="727.22" y="353.46" width="4.90" height="9.89" fill="#76cf33"/>
<rect x="732.12" y="353.46" width="4.90" height="9.89" fill="#e6861e"/>
<rect x="737.01" y="353.46" width="4.90" height="9.89" fill="#4b8220"/>
<rect x="741.91" y="353.46" width="4.90" height="9.89" fill="#eeaa55"/>
<rect x="746.81" y="353.46" width="4.90" height="9.89" fill="#9cf837"/>
<rect x="751.71" y="353.46" width="4.90" height="9.89" fill="#e6861e"/>
<rect x="756.61" y="353.46" width="4.90" height="9.89" fill="#fffb33"/>
<rect x="761.51" y="353.46" width="4.90" height="9.89" fill="#9cf837"/>
<rect x="766.40" y="353.46" width="4.90" height="9.89" fill="#fffb33"/>
<rect x="771.30" y="353.46" width="4.90" height="9.89" fill="#76cf33"/>
<rect x="776.20" y="353.46" width="4.90" height="9.89" fill="#2130ff"/>
<rect x="266.76" y="363.35" width="4.90" height="9.89" fill="#2130ff"/>
<rect x="310.85" y="363.35" width="4.90" height="9.89" fill="#111a82"/>
<rect x="335.34" y="363.35" width="9.80" height="9.89" fill="#2130ff"/>
<rect x="359.83" y="363.35" width="4.90" height="9.89" fill="#111a82"/>
<rect x="369.63" y="363.35" width="4.90" height="9.89" fill="#2130ff"/>
<rect x="399.02" y="363.35" width="9.80" height="9.89" fill="#2130ff"/>
<rect x="408.82" y="363.35" width="4.90" height="9.89" fill="#111a82"/>
<rect x="423.51" y="363.35" width="9.80" height="9.89" fill="#111a82"/>
<rect x="457.80" y="363.35" width="4.90" height="9.89" fill="#4480ff"/>
<rect x="467.60" y="363.35" width="4.90" height="9.89" fill="#4480ff"/>
<rect x="472.50" y="363.35" width="14.70" height="9.89" fill="#2130ff"/>
<rect x="487.19" y="363.35" width="4.90" height="9.89" fill="#4480ff"/>
<rect x="492.09" y="363.35" width="9.80" height="9.89" fill="#2130ff"/>
<rect x="501.89" y="363.35" width="4.90" height="9.89" fill="#8ffcff"/>
<rect x="506.78" y="363.35" width="4.90" height="9.89" fill="#2130ff"/>
<rect x="511.68" y="363.35" width="4.90" height="9.89" fill="#4480ff"/>
<rect x="516.58" y="363.35" width="4.90" height="9.89" fill="#2130ff"/>
<rect x="521.48" y="363.35" width="4.90" height="9.89" fill="#111a82"/>
<rect x="526.38" y="363.35" width="4.90" height="9.89" fill="#2130ff"/>
<rect x="536.18" y="363.35" width="9.80" height="9.89" fill="#4480ff"/>
<rect x="545.97" y="363.35" width="14.70" height="9.89" fill="#2130ff"/>
<rect x="560.67" y="363.35" width="9.80" height="9.89" fill="#111a82"/>
<rect x="570.47" y="363.35" width="14.70" height="9.89" fill="#2130ff"/>
<rect x="585.16" y="363.35" width="4.90" height="9.89" fill="#4480ff"/>
<rect x="590.06" y="363.35" width="4.90" height="9.89" fill="#111a82"/>
<rect x="594.96" y="363.35" width="4.90" height="9.89" fill="#4480ff"/>
<rect x="599.86" y="363.35" width="4.90" height="9.89" fill="#2130ff"/>
<rect x="604.75" y="363.35" width="4.90" height="9.89" fill="#9cf837"/>
<rect x="609.65" y="363.35" width="4.90" height="9.89" fill="#8ffcff"/>
<rect x="614.55" y="363.35" width="4.90" height="9.89" fill="#4480ff"/>
<rect x="619.45" y="363.35" width="9.80" height="9.89" fill="#2130ff"/>
<rect x="629.25" y="363.35" width="9.80" height="9.89" fill="#4480ff"/>
<rect x="639.04" y="363.35" width="4.90" height="9.89" fill="#76cf33"/>
<rect x="643.94" y="363.35" width="4.90" height="9.89" fill="#4b8220"/>
<rect x="648.84" y="363.35" width="4.90" height="9.89" fill="#8ffcff"/>
<rect x="653.74" y="363.35" width="9.80" height="9.89" fill="#76cf33"/>
<rect x="663.54" y="363.35" width="4.90" height="9.89" fill="#4b8220"/>
<rect x="668.43" y="363.35" width="4.90" height="9.89" fill="#76cf33"/>
<rect x="673.33" y="363.35" width="4.90" height="9.89" fill="#9cf837"/>
<rect x="678.23" y="363.35" width="4.90" height="9.89" fill="#e6861e"/>
<rect x="683.13" y="363.35" width="4.90" height="9.89" fill="#9cf837"/>
<rect x="688.03" y="363.35" width="4.90" height="9.89" fill="#eeaa55"/>
<rect x="692.93" y="363.35" width="4.90" height="9.89" fill="#4b8220"/>
<rect x="697.83" y="363.35" width="4.90" height="9.89" fill="#eeaa55"/>
<rect x="702.72" y="363.35" width="4.90" height="9.89" fill="#fffb33"/>
<rect x="707.62" y="363.35" width="4.90" height="9.89" fill="#a82202"/>
<rect x="712.52" y="363.35" width="4.90" height="9.89" fill="#714212"/>
<rect x="717.42" y="363.35" width="9.80" height="9.89" fill="#4b8220"/>
<rect x="727.22" y="363.35" width="9.80" height="9.89" fill="#fffb33"/>
<rect x="737.01" y="363.35" width="4.90" height="9.89" fill="#eeaa55"/>
<rect x="741.91" y="363.35" width="4.90" height="9.89" fill="#76cf33"/>
<rect x="746.81" y="363.35" width="4.90" height="9.89" fill="#eeaa55"/>
<rect x="751.71" y="363.35" width="9.80" height="9.89" fill="#76cf33"/>
<rect x="761.51" y="363.35" width="4.90" height="9.89" fill="#4b8220"/>
<rect x="766.40" y="363.35" width="9.80" height="9.89" fill="#76cf33"/>
<rect x="776.20" y="363.35" width="4.90" height="9.89" fill="#111a82"/>
<rect x="232.47" y="373.24" width="4.90" height="9.89" fill="#111a82"/>
<rect x="261.86" y="373.24" width="4.90" height="9.89" fill="#2130ff"/>
<rect x="310.85" y="373.24" width="4.90" height="9.89" fill="#2130ff"/>
<rect x="330.44" y="373.24" width="4.90" height="9.89" fill="#2130ff"/>
<rect x="335.34" y="373.24" width="4.90" height="9.89" fill="#4480ff"/>
<rect x="354.93" y="373.24" width="4.90" height="9.89" fill="#111a82"/>
<rect x="364.73" y="373.24" width="4.90" height="9.89" fill="#111a82"/>
<rect x="379.42" y="373.24" width="4.90" height="9.89" fill="#111a82"/>
<rect x="394.12" y="373.24" width="4.90" height="9.89" fill="#111a82"/>
<rect x="399.02" y="373.24" width="4.90" height="9.89" fill="#2130ff"/>
<rect x="413.71" y="373.24" width="4.90" height="9.89" fill="#111a82"/>
<rect x="418.61" y="373.24" width="9.80" height="9.89" fill="#2130ff"/>
<rect x="443.10" y="373.24" width="9.80" height="9.89" fill="#111a82"/>
<rect x="452.90" y="373.24" width="4.90" height="9.89" fill="#2130ff"/>
<rect x="462.70" y="373.24" width="4.90" height="9.89" fill="#4480ff"/>
<rect x="467.60" y="373.24" width="19.59" height="9.89" fill="#2130ff"/>
<rect x="492.09" y="373.24" width="4.90" height="9.89" fill="#111a82"/>
<rect x="496.99" y="373.24" width="4.90" height="9.89" fill="#8ffcff"/>
<rect x="501.89" y="373.24" width="4.90" height="9.89" fill="#111a82"/>
<rect x="506.78" y="373.24" width="9.80" height="9.89" fill="#2130ff"/>
<rect x="516.58" y="373.24" width="4.90" height="9.89" fill="#4480ff"/>
<rect x="521.48" y="373.24" width="4.90" height="9.89" fill="#111a82"/>
<rect x="526.38" y="373.24" width="4.90" height="9.89" fill="#2130ff"/>
<rect x="531.28" y="373.24" width="4.90" height="9.89" fill="#4480ff"/>
<rect x="536.18" y="373.24" width="14.70" height="9.89" fill="#2130ff"/>
<rect x="550.87" y="373.24" width="4.90" height="9.89" fill="#111a82"/>
<rect x="560.67" y="373.24" width="9.80" height="9.89" fill="#2130ff"/>
<rect x="570.47" y="373.24" width="4.90" height="9.89" fill="#4480ff"/>
<rect x="575.36" y="373.24" width="4.90" height="9.89" fill="#2130ff"/>
<rect x="580.26" y="373.24" width="4.90" height="9.89" fill="#4480ff"/>
<rect x="585.16" y="373.24" width="4.90" height="9.89" fill="#2130ff"/>
<rect x="590.06" y="373.24" width="4.90" height="9.89" fill="#4480ff"/>
<rect x="594.96" y="373.24" width="4.90" height="9.89" fill="#76cf33"/>
<rect x="599.86" y="373.24" width="19.59" height="9.89" fill="#4480ff"/>
<rect x="619.45" y="373.24" width="4.90" height="9.89" fill="#2130ff"/>
<rect x="624.35" y="373.24" width="9.80" height="9.89" fill="#8ffcff"/>
<rect x="634.15" y="373.24" width="4.90" height="9.89" fill="#9cf837"/>
<rect x="639.04" y="373.24" width="4.90" height="9.89" fill="#8ffcff"/>
<rect x="643.94" y="373.24" width="9.80" height="9.89" fill="#4480ff"/>
<rect x="653.74" y="373.24" width="4.90" height="9.89" fill="#76cf33"/>
<rect x="658.64" y="373.24" width="4.90" height="9.89" fill="#4b8220"/>
<rect x="663.54" y="373.24" width="9.80" height="9.89" fill="#eeaa55"/>
<rect x="673.33" y="373.24" width="4.90" height="9.89" fill="#fffb33"/>
<rect x="678.23" y="373.24" width="4.90" height="9.89" fill="#4b8220"/>
<rect x="683.13" y="373.24" width="4.90" height="9.89" fill="#eeaa55"/>
<rect x="688.03" y="373.24" width="4.90" height="9.89" fill="#714212"/>
<rect x="692.93" y="373.24" width="4.90" height="9.89" fill="#a82202"/>
<rect x="697.83" y="373.24" width="4.90" height="9.89" fill="#fffb33"/>
<rect x="702.72" y="373.24" width="9.80" height="9.89" fill="#714212"/>
<rect x="712.52" y="373.24" width="9.80" height="9.89" fill="#4b8220"/>
<rect x="722.32" y="373.24" width="4.90" height="9.89" fill="#fffb33"/>
<rect x="727.22" y="373.24" width="4.90" height="9.89" fill="#4b8220"/>
<rect x="732.12" y="373.24" width="4.90" height="9.89" fill="#76cf33"/>
<rect x="737.01" y="373.24" width="4.90" height="9.89" fill="#fffb33"/>
<rect x="741.91" y="373.24" width="4.90" height="9.89" fill="#4b8220"/>
<rect x="746.81" y="373.24" width="4.90" height="9.89" fill="#76cf33"/>
<rect x="751.71" y="373.24" width="9.80" height="9.89" fill="#4b8220"/>
<rect x="761.51" y="373.24" width="4.90" height="9.89" fill="#eeaa55"/>
<rect x="766.40" y="373.24" width="4.90" height="9.89" fill="#4b8220"/>
<rect x="771.30" y="373.24" width="4.90" height="9.89" fill="#76cf33"/>
<rect x="776.20" y="373.24" width="4.90" height="9.89" fill="#2130ff"/>
<rect x="271.66" y="383.13" width="4.90" height="9.89" fill="#111a82"/>
<rect x="320.64" y="383.13" width="4.90" height="9.89" fill="#111a82"/>
<rect x="325.54" y="383.13" width="4.90" height="9.89" fill="#2130ff"/>
<rect x="330.44" y="383.13" width="4.90" height="9.89" fill="#111a82"/>
<rect x="350.03" y="383.13" width="4.90" height="9.89" fill="#111a82"/>
<rect x="359.83" y="383.13" width="9.80" height="9.89" fill="#111a82"/>
<rect x="389.22" y="383.13" width="4.90" height="9.89" fill="#2130ff"/>
<rect x="394.12" y="383.13" width="9.80" height="9.89" fill="#111a82"/>
<rect x="413.71" y="383.13" width="4.90" height="9.89" fill="#111a82"/>
<rect x="418.61" y="383.13" width="9.80" height="9.89" fill="#2130ff"/>
<rect x="448.00" y="383.13" width="4.90" height="9.89" fill="#2130ff"/>
<rect x="452.90" y="383.13" width="4.90" height="9.89" fill="#111a82"/>
<rect x="457.80" y="383.13" width="4.90" height="9.89" fill="#4480ff"/>
<rect x="462.70" y="383.13" width="4.90" height="9.89" fill="#2130ff"/>
<rect x="467.60" y="383.13" width="4.90" height="9.89" fill="#111a82"/>
<rect x="472.50" y="383.13" width="24.49" height="9.89" fill="#2130ff"/>
<rect x="501.89" y="383.13" width="9.80" height="9.89" fill="#2130ff"/>
<rect x="511.68" y="383.13" width="4.90" height="9.89" fill="#4480ff"/>
<rect x="516.58" y="383.13" width="19.59" height="9.89" fill="#2130ff"/>
<rect x="536.18" y="383.13" width="9.80" height="9.89" fill="#4480ff"/>
<rect x="545.97" y="383.13" width="4.90" height="9.89" fill="#2130ff"/>
<rect x="560.67" y="383.13" width="4.90" height="9.89" fill="#2130ff"/>
<rect x="565.57" y="383.13" width="4.90" height="9.89" fill="#8ffcff"/>
<rect x="570.47" y="383.13" width="4.90" height="9.89" fill="#2130ff"/>
<rect x="575.36" y="383.13" width="4.90" height="9.89" fill="#4480ff"/>
<rect x="580.26" y="383.13" width="9.80" height="9.89" fill="#2130ff"/>
<rect x="590.06" y="383.13" width="4.90" height="9.89" fill="#4480ff"/>
<rect x="594.96" y="383.13" width="4.90" height="9.89" fill="#8ffcff"/>
<rect x="599.86" y="383.13" width="4.90" height="9.89" fill="#2130ff"/>
<rect x="604.75" y="383.13" width="14.70" height="9.89" fill="#4480ff"/>
<rect x="619.45" y="383.13" width="4.90" height="9.89" fill="#8ffcff"/>
<rect x="624.35" y="383.13" width="4.90" height="9.89" fill="#4480ff"/>
<rect x="629.25" y="383.13" width="4.90" height="9.89" fill="#8ffcff"/>
<rect x="634.15" y="383.13" width="4.90" height="9.89" fill="#76cf33"/>
<rect x="639.04" y="383.13" width="4.90" height="9.89" fill="#4480ff"/>
<rect x="643.94" y="383.13" width="9.80" height="9.89" fill="#9cf837"/>
<rect x="653.74" y="383.13" width="4.90" height="9.89" fill="#eeaa55"/>
<rect x="658.64" y="383.13" width="4.90" height="9.89" fill="#4b8220"/>
<rect x="663.54" y="383.13" width="4.90" height="9.89" fill="#76cf33"/>
<rect x="668.43" y="383.13" width="4.90" height="9.89" fill="#fffb33"/>
<rect x="673.33" y="383.13" width="4.90" height="9.89" fill="#eeaa55"/>
<rect x="678.23" y="383.13" width="4.90" height="9.89" fill="#714212"/>
<rect x="683.13" y="383.13" width="4.90" height="9.89" fill="#e6861e"/>
<rect x="688.03" y="383.13" width="4.90" height="9.89" fill="#a82202"/>
<rect x="692.93" y="383.13" width="4.90" height="9.89" fill="#fffb33"/>
<rect x="697.83" y="383.13" width="9.80" height="9.89" fill="#714212"/>
<rect x="707.62" y="383.13" width="9.80" height="9.89" fill="#fffb33"/>
<rect x="717.42" y="383.13" width="4.90" height="9.89" fill="#a82202"/>
<rect x="722.32" y="383.13" width="4.90" height="9.89" fill="#4b8220"/>
<rect x="727.22" y="383.13" width="4.90" height="9.89" fill="#eeaa55"/>
<rect x="732.12" y="383.13" width="4.90" height="9.89" fill="#4b8220"/>
<rect x="737.01" y="383.13" width="4.90" height="9.89" fill="#fffb33"/>
<rect x="741.91" y="383.13" width="4.90" height="9.89" fill="#4b8220"/>
<rect x="746.81" y="383.13" width="4.90" height="9.89" fill="#76cf33"/>
<rect x="751.71" y="383.13" width="4.90" height="9.89" fill="#eeaa55"/>
<rect x="756.61" y="383.13" width="4.90" height="9.89" fill="#4b8220"/>
<rect x="761.51" y="383.13" width="4.90" height="9.89" fill="#fffb33"/>
<rect x="766.40" y="383.13" width="4.90" height="9.89" fill="#4b8220"/>
<rect x="771.30" y="383.13" width="4.90" height="9.89" fill="#76cf33"/>
<rect x="776.20" y="383.13" width="4.90" height="9.89" fill="#4480ff"/>
<rect x="222.67" y="393.01" width="4.90" height="9.89" fill="#111a82"/>
<rect x="252.06" y="393.01" width="4.90" height="9.89" fill="#2130ff"/>
<rect x="296.15" y="393.01" width="4.90" height="9.89" fill="#111a82"/>
<rect x="301.05" y="393.01" width="4.90" height="9.89" fill="#2130ff"/>
<rect x="320.64" y="393.01" width="4.90" height="9.89" fill="#2130ff"/>
<rect x="354.93" y="393.01" width="4.90" height="9.89" fill="#111a82"/>
<rect x="369.63" y="393.01" width="4.90" height="9.89" fill="#111a82"/>
<rect x="384.32" y="393.01" width="4.90" height="9.89" fill="#4480ff"/>
<rect x="389.22" y="393.01" width="4.90" height="9.89" fill="#2130ff"/>
<rect x="403.92" y="393.01" width="19.59" height="9.89" fill="#2130ff"/>
<rect x="423.51" y="393.01" width="14.70" height="9.89" fill="#111a82"/>
<rect x="443.10" y="393.01" width="4.90" height="9.89" fill="#4480ff"/>
<rect x="448.00" y="393.01" width="4.90" height="9.89" fill="#111a82"/>
<rect x="452.90" y="393.01" width="4.90" height="9.89" fill="#2130ff"/>
<rect x="457.80" y="393.01" width="9.80" height="9.89" fill="#111a82"/>
<rect x="467.60" y="393.01" width="4.90" height="9.89" fill="#2130ff"/>
<rect x="472.50" y="393.01" width="4.90" height="9.89" fill="#4480ff"/>
<rect x="477.39" y="393.01" width="4.90" height="9.89" fill="#111a82"/>
<rect x="482.29" y="393.01" width="9.80" height="9.89" fill="#2130ff"/>
<rect x="496.99" y="393.01" width="9.80" height="9.89" fill="#2130ff"/>
<rect x="506.78" y="393.01" width="4.90" height="9.89" fill="#4480ff"/>
<rect x="511.68" y="393.01" width="4.90" height="9.89" fill="#2130ff"/>
<rect x="516.58" y="393.01" width="4.90" height="9.89" fill="#111a82"/>
<rect x="521.48" y="393.01" width="14.70" height="9.89" fill="#2130ff"/>
<rect x="536.18" y="393.01" width="4.90" height="9.89" fill="#111a82"/>
<rect x="541.07" y="393.01" width="19.59" height="9.89" fill="#2130ff"/>
<rect x="560.67" y="393.01" width="9.80" height="9.89" fill="#4480ff"/>
<rect x="570.47" y="393.01" width="9.80" height="9.89" fill="#2130ff"/>
<rect x="580.26" y="393.01" width="4.90" height="9.89" fill="#4480ff"/>
<rect x="585.16" y="393.01" width="4.90" height="9.89" fill="#9cf837"/>
<rect x="590.06" y="393.01" width="4.90" height="9.89" fill="#8ffcff"/>
<rect x="594.96" y="393.01" width="4.90" height="9.89" fill="#4480ff"/>
<rect x="599.86" y="393.01" width="9.80" height="9.89" fill="#2130ff"/>
<rect x="609.65" y="393.01" width="14.70" height="9.89" fill="#4480ff"/>
<rect x="624.35" y="393.01" width="4.90" height="9.89" fill="#9cf837"/>
<rect x="629.25" y="393.01" width="4.90" height="9.89" fill="#8ffcff"/>
<rect x="634.15" y="393.01" width="4.90" height="9.89" fill="#4480ff"/>
<rect x="639.04" y="393.01" width="4.90" height="9.89" fill="#8ffcff"/>
<rect x="643.94" y="393.01" width="9.80" height="9.89" fill="#76cf33"/>
<rect x="653.74" y="393.01" width="4.90" height="9.89" fill="#eeaa55"/>
<rect x="658.64" y="393.01" width="4.90" height="9.89" fill="#fffb33"/>
<rect x="663.54" y="393.01" width="9.80" height="9.89" fill="#a82202"/>
<rect x="673.33" y="393.01" width="4.90" height="9.89" fill="#e6861e"/>
<rect x="678.23" y="393.01" width="9.80" height="9.89" fill="#714212"/>
<rect x="688.03" y="393.01" width="4.90" height="9.89" fill="#fffb33"/>
<rect x="692.93" y="393.01" width="9.80" height="9.89" fill="#714212"/>
<rect x="702.72" y="393.01" width="4.90" height="9.89" fill="#4b8220"/>
<rect x="707.62" y="393.01" width="4.90" height="9.89" fill="#eeaa55"/>
<rect x="712.52" y="393.01" width="9.80" height="9.89" fill="#fffb33"/>
<rect x="722.32" y="393.01" width="4.90" height="9.89" fill="#76cf33"/>
<rect x="727.22" y="393.01" width="4.90" height="9.89" fill="#4b8220"/>
<rect x="732.12" y="393.01" width="4.90" height="9.89" fill="#fffb33"/>
<rect x="737.01" y="393.01" width="4.90" height="9.89" fill="#4b8220"/>
<rect x="741.91" y="393.01" width="4.90" height="9.89" fill="#76cf33"/>
<rect x="746.81" y="393.01" width="9.80" height="9.89" fill="#fffb33"/>
<rect x="756.61" y="393.01" width="9.80" height="9.89" fill="#4b8220"/>
<rect x="766.40" y="393.01" width="4.90" height="9.89" fill="#76cf33"/>
<rect x="771.30" y="393.01" width="4.90" height="9.89" fill="#4b8220"/>
<rect x="776.20" y="393.01" width="4.90" height="9.89" fill="#2130ff"/>
<rect x="217.77" y="402.90" width="4.90" height="9.89" fill="#111a82"/>
<rect x="291.25" y="402.90" width="9.80" height="9.89" fill="#111a82"/>
<rect x="315.74" y="402.90" width="4.90" height="9.89" fill="#2130ff"/>
<rect x="330.44" y="402.90" width="4.90" height="9.89" fill="#111a82"/>
<rect x="350.03" y="402.90" width="9.80" height="9.89" fill="#2130ff"/>
<rect x="379.42" y="402.90" width="4.90" height="9.89" fill="#4480ff"/>
<rect x="384.32" y="402.90" width="4.90" height="9.89" fill="#111a82"/>
<rect x="394.12" y="402.90" width="4.90" height="9.89" fill="#111a82"/>
<rect x="399.02" y="402.90" width="9.80" height="9.89" fill="#2130ff"/>
<rect x="408.82" y="402.90" width="4.90" height="9.89" fill="#111a82"/>
<rect x="438.21" y="402.90" width="9.80" height="9.89" fill="#2130ff"/>
<rect x="448.00" y="402.90" width="4.90" height="9.89" fill="#4480ff"/>
<rect x="452.90" y="402.90" width="9.80" height="9.89" fill="#2130ff"/>
<rect x="462.70" y="402.90" width="4.90" height="9.89" fill="#111a82"/>
<rect x="467.60" y="402.90" width="14.70" height="9.89" fill="#2130ff"/>
<rect x="482.29" y="402.90" width="4.90" height="9.89" fill="#4480ff"/>
<rect x="487.19" y="402.90" width="19.59" height="9.89" fill="#2130ff"/>
<rect x="506.78" y="402.90" width="9.80" height="9.89" fill="#111a82"/>
<rect x="516.58" y="402.90" width="4.90" height="9.89" fill="#4480ff"/>
<rect x="521.48" y="402.90" width="19.59" height="9.89" fill="#2130ff"/>
<rect x="541.07" y="402.90" width="4.90" height="9.89" fill="#111a82"/>
<rect x="555.77" y="402.90" width="9.80" height="9.89" fill="#4480ff"/>
<rect x="565.57" y="402.90" width="4.90" height="9.89" fill="#2130ff"/>
<rect x="570.47" y="402.90" width="4.90" height="9.89" fill="#4480ff"/>
<rect x="575.36" y="402.90" width="4.90" height="9.89" fill="#2130ff"/>
<rect x="580.26" y="402.90" width="4.90" height="9.89" fill="#9cf837"/>
<rect x="585.16" y="402.90" width="4.90" height="9.89" fill="#8ffcff"/>
<rect x="590.06" y="402.90" width="9.80" height="9.89" fill="#4480ff"/>
<rect x="599.86" y="402.90" width="4.90" height="9.89" fill="#2130ff"/>
<rect x="604.75" y="402.90" width="14.70" height="9.89" fill="#4480ff"/>
<rect x="619.45" y="402.90" width="14.70" height="9.89" fill="#8ffcff"/>
<rect x="634.15" y="402.90" width="4.90" height="9.89" fill="#4480ff"/>
<rect x="639.04" y="402.90" width="4.90" height="9.89" fill="#76cf33"/>
<rect x="643.94" y="402.90" width="4.90" height="9.89" fill="#4b8220"/>
<rect x="648.84" y="402.90" width="4.90" height="9.89" fill="#eeaa55"/>
<rect x="653.74" y="402.90" width="4.90" height="9.89" fill="#fffb33"/>
<rect x="658.64" y="402.90" width="4.90" height="9.89" fill="#eeaa55"/>
<rect x="663.54" y="402.90" width="4.90" height="9.89" fill="#a82202"/>
<rect x="668.43" y="402.90" width="4.90" height="9.89" fill="#714212"/>
<rect x="673.33" y="402.90" width="4.90" height="9.89" fill="#eeaa55"/>
<rect x="678.23" y="402.90" width="4.90" height="9.89" fill="#a82202"/>
<rect x="683.13" y="402.90" width="4.90" height="9.89" fill="#e6861e"/>
<rect x="688.03" y="402.90" width="4.90" height="9.89" fill="#714212"/>
<rect x="692.93" y="402.90" width="4.90" height="9.89" fill="#a82202"/>
<rect x="697.83" y="402.90" width="4.90" height="9.89" fill="#4b8220"/>
<rect x="702.72" y="402.90" width="4.90" height="9.89" fill="#eeaa55"/>
<rect x="707.62" y="402.90" width="4.90" height="9.89" fill="#fffb33"/>
<rect x="712.52" y="402.90" width="9.80" height="9.89" fill="#4b8220"/>
<rect x="722.32" y="402.90" width="4.90" height="9.89" fill="#9cf837"/>
<rect x="727.22" y="402.90" width="4.90" height="9.89" fill="#4b8220"/>
<rect x="732.12" y="402.90" width="4.90" height="9.89" fill="#fffb33"/>
<rect x="737.01" y="402.90" width="4.90" height="9.89" fill="#9cf837"/>
<rect x="741.91" y="402.90" width="4.90" height="9.89" fill="#4b8220"/>
<rect x="746.81" y="402.90" width="4.90" height="9.89" fill="#eeaa55"/>
<rect x="751.71" y="402.90" width="4.90" height="9.89" fill="#fffb33"/>
<rect x="756.61" y="402.90" width="4.90" height="9.89" fill="#76cf33"/>
<rect x="761.51" y="402.90" width="9.80" height="9.89" fill="#4b8220"/>
<rect x="771.30" y="402.90" width="4.90" height="9.89" fill="#76cf33"/>
<rect x="776.20" y="402.90" width="4.90" height="9.89" fill="#4480ff"/>
<rect x="242.27" y="412.79" width="4.90" height="9.89" fill="#2130ff"/>
<rect x="286.35" y="412.79" width="4.90" height="9.89" fill="#2130ff"/>
<rect x="310.85" y="412.79" width="9.80" height="9.89" fill="#2130ff"/>
<rect x="340.24" y="412.79" width="4.90" height="9.89" fill="#111a82"/>
<rect x="345.13" y="412.79" width="4.90" height="9.89" fill="#2130ff"/>
<rect x="374.53" y="412.79" width="4.90" height="9.89" fill="#4480ff"/>
<rect x="379.42" y="412.79" width="9.80" height="9.89" fill="#111a82"/>
<rect x="389.22" y="412.79" width="4.90" height="9.89" fill="#2130ff"/>
<rect x="394.12" y="412.79" width="9.80" height="9.89" fill="#111a82"/>
<rect x="403.92" y="412.79" width="9.80" height="9.89" fill="#2130ff"/>
<rect x="433.31" y="412.79" width="4.90" height="9.89" fill="#2130ff"/>
<rect x="438.21" y="412.79" width="9.80" height="9.89" fill="#4480ff"/>
<rect x="448.00" y="412.79" width="4.90" height="9.89" fill="#2130ff"/>
<rect x="457.80" y="412.79" width="9.80" height="9.89" fill="#4480ff"/>
<rect x="467.60" y="412.79" width="4.90" height="9.89" fill="#2130ff"/>
<rect x="472.50" y="412.79" width="9.80" height="9.89" fill="#4480ff"/>
<rect x="482.29" y="412.79" width="9.80" height="9.89" fill="#111a82"/>
<rect x="492.09" y="412.79" width="4.90" height="9.89" fill="#2130ff"/>
<rect x="496.99" y="412.79" width="4.90" height="9.89" fill="#4480ff"/>
<rect x="501.89" y="412.79" width="14.70" height="9.89" fill="#2130ff"/>
<rect x="516.58" y="412.79" width="4.90" height="9.89" fill="#111a82"/>
<rect x="521.48" y="412.79" width="14.70" height="9.89" fill="#2130ff"/>
<rect x="536.18" y="412.79" width="9.80" height="9.89" fill="#111a82"/>
<rect x="545.97" y="412.79" width="4.90" height="9.89" fill="#2130ff"/>
<rect x="550.87" y="412.79" width="4.90" height="9.89" fill="#4480ff"/>
<rect x="555.77" y="412.79" width="4.90" height="9.89" fill="#2130ff"/>
<rect x="560.67" y="412.79" width="4.90" height="9.89" fill="#4480ff"/>
<rect x="565.57" y="412.79" width="9.80" height="9.89" fill="#2130ff"/>
<rect x="575.36" y="412.79" width="9.80" height="9.89" fill="#8ffcff"/>
<rect x="585.16" y="412.79" width="4.90" height="9.89" fill="#4480ff"/>
<rect x="590.06" y="412.79" width="4.90" height="9.89" fill="#2130ff"/>
<rect x="594.96" y="412.79" width="4.90" height="9.89" fill="#8ffcff"/>
<rect x="599.86" y="412.79" width="4.90" height="9.89" fill="#2130ff"/>
<rect x="604.75" y="412.79" width="9.80" height="9.89" fill="#4480ff"/>
<rect x="614.55" y="412.79" width="4.90" height="9.89" fill="#76cf33"/>
<rect x="619.45" y="412.79" width="9.80" height="9.89" fill="#9cf837"/>
<rect x="629.25" y="412.79" width="4.90" height="9.89" fill="#4480ff"/>
<rect x="634.15" y="412.79" width="9.80" height="9.89" fill="#76cf33"/>
<rect x="643.94" y="412.79" width="4.90" height="9.89" fill="#fffb33"/>
<rect x="648.84" y="412.79" width="4.90" height="9.89" fill="#4b8220"/>
<rect x="653.74" y="412.79" width="4.90" height="9.89" fill="#76cf33"/>
<rect x="658.64" y="412.79" width="4.90" height="9.89" fill="#fffb33"/>
<rect x="663.54" y="412.79" width="4.90" height="9.89" fill="#a82202"/>
<rect x="668.43" y="412.79" width="4.90" height="9.89" fill="#e6861e"/>
<rect x="673.33" y="412.79" width="4.90" height="9.89" fill="#eeaa55"/>
<rect x="678.23" y="412.79" width="4.90" height="9.89" fill="#a82202"/>
<rect x="683.13" y="412.79" width="9.80" height="9.89" fill="#714212"/>
<rect x="692.93" y="412.79" width="4.90" height="9.89" fill="#4b8220"/>
<rect x="697.83" y="412.79" width="4.90" height="9.89" fill="#fffb33"/>
<rect x="702.72" y="412.79" width="4.90" height="9.89" fill="#4b8220"/>
<rect x="707.62" y="412.79" width="4.90" height="9.89" fill="#fffb33"/>
<rect x="712.52" y="412.79" width="4.90" height="9.89" fill="#76cf33"/>
<rect x="717.42" y="412.79" width="4.90" height="9.89" fill="#9cf837"/>
<rect x="722.32" y="412.79" width="14.70" height="9.89" fill="#4b8220"/>
<rect x="737.01" y="412.79" width="4.90" height="9.89" fill="#76cf33"/>
<rect x="741.91" y="412.79" width="9.80" height="9.89" fill="#fffb33"/>
<rect x="751.71" y="412.79" width="4.90" height="9.89" fill="#76cf33"/>
<rect x="756.61" y="412.79" width="4.90" height="9.89" fill="#e6861e"/>
<rect x="761.51" y="412.79" width="4.90" height="9.89" fill="#eeaa55"/>
<rect x="766.40" y="412.79" width="4.90" height="9.89" fill="#4b8220"/>
<rect x="771.30" y="412.79" width="4.90" height="9.89" fill="#eeaa55"/>
<rect x="776.20" y="412.79" width="4.90" height="9.89" fill="#4480ff"/>
<rect x="207.98" y="422.67" width="4.90" height="9.89" fill="#4480ff"/>
<rect x="252.06" y="422.67" width="4.90" height="9.89" fill="#111a82"/>
<rect x="281.45" y="422.67" width="9.80" height="9.89" fill="#111a82"/>
<rect x="301.05" y="422.67" width="14.70" height="9.89" fill="#2130ff"/>
<rect x="320.64" y="422.67" width="4.90" height="9.89" fill="#111a82"/>
<rect x="330.44" y="422.67" width="4.90" height="9.89" fill="#111a82"/>
<rect x="340.24" y="422.67" width="4.90" height="9.89" fill="#4480ff"/>
<rect x="345.13" y="422.67" width="4.90" height="9.89" fill="#111a82"/>
<rect x="369.63" y="422.67" width="4.90" height="9.89" fill="#4480ff"/>
<rect x="389.22" y="422.67" width="9.80" height="9.89" fill="#2130ff"/>
<rect x="399.02" y="422.67" width="4.90" height="9.89" fill="#111a82"/>
<rect x="403.92" y="422.67" width="4.90" height="9.89" fill="#2130ff"/>
<rect x="428.41" y="422.67" width="14.70" height="9.89" fill="#2130ff"/>
<rect x="443.10" y="422.67" width="9.80" height="9.89" fill="#111a82"/>
<rect x="452.90" y="422.67" width="4.90" height="9.89" fill="#4480ff"/>
<rect x="457.80" y="422.67" width="34.29" height="9.89" fill="#2130ff"/>
<rect x="492.09" y="422.67" width="4.90" height="9.89" fill="#111a82"/>
<rect x="496.99" y="422.67" width="4.90" height="9.89" fill="#4480ff"/>
<rect x="501.89" y="422.67" width="14.70" height="9.89" fill="#2130ff"/>
<rect x="516.58" y="422.67" width="4.90" height="9.89" fill="#4480ff"/>
<rect x="521.48" y="422.67" width="4.90" height="9.89" fill="#111a82"/>
<rect x="526.38" y="422.67" width="4.90" height="9.89" fill="#2130ff"/>
<rect x="531.28" y="422.67" width="4.90" height="9.89" fill="#111a82"/>
<rect x="536.18" y="422.67" width="9.80" height="9.89" fill="#2130ff"/>
<rect x="545.97" y="422.67" width="4.90" height="9.89" fill="#4480ff"/>
<rect x="550.87" y="422.67" width="19.59" height="9.89" fill="#2130ff"/>
<rect x="570.47" y="422.67" width="4.90" height="9.89" fill="#8ffcff"/>
<rect x="575.36" y="422.67" width="4.90" height="9.89" fill="#9cf837"/>
<rect x="580.26" y="422.67" width="9.80" height="9.89" fill="#8ffcff"/>
<rect x="590.06" y="422.67" width="9.80" height="9.89" fill="#4480ff"/>
<rect x="599.86" y="422.67" width="4.90" height="9.89" fill="#8ffcff"/>
<rect x="604.75" y="422.67" width="4.90" height="9.89" fill="#4480ff"/>
<rect x="609.65" y="422.67" width="14.70" height="9.89" fill="#9cf837"/>
<rect x="624.35" y="422.67" width="4.90" height="9.89" fill="#8ffcff"/>
<rect x="629.25" y="422.67" width="4.90" height="9.89" fill="#4b8220"/>
<rect x="634.15" y="422.67" width="4.90" height="9.89" fill="#76cf33"/>
<rect x="639.04" y="422.67" width="9.80" height="9.89" fill="#fffb33"/>
<rect x="648.84" y="422.67" width="4.90" height="9.89" fill="#e6861e"/>
<rect x="653.74" y="422.67" width="4.90" height="9.89" fill="#eeaa55"/>
<rect x="658.64" y="422.67" width="4.90" height="9.89" fill="#a82202"/>
<rect x="663.54" y="422.67" width="4.90" height="9.89" fill="#e6861e"/>
<rect x="668.43" y="422.67" width="4.90" height="9.89" fill="#a82202"/>
<rect x="673.33" y="422.67" width="4.90" height="9.89" fill="#eeaa55"/>
<rect x="678.23" y="422.67" width="4.90" height="9.89" fill="#714212"/>
<rect x="683.13" y="422.67" width="4.90" height="9.89" fill="#a82202"/>
<rect x="688.03" y="422.67" width="4.90" height="9.89" fill="#9cf837"/>
<rect x="692.93" y="422.67" width="4.90" height="9.89" fill="#fffb33"/>
<rect x="697.83" y="422.67" width="4.90" height="9.89" fill="#eeaa55"/>
<rect x="702.72" y="422.67" width="4.90" height="9.89" fill="#fffb33"/>
<rect x="707.62" y="422.67" width="4.90" height="9.89" fill="#9cf837"/>
<rect x="712.52" y="422.67" width="4.90" height="9.89" fill="#76cf33"/>
<rect x="717.42" y="422.67" width="4.90" height="9.89" fill="#e6861e"/>
<rect x="722.32" y="422.67" width="9.80" height="9.89" fill="#4b8220"/>
<rect x="732.12" y="422.67" width="4.90" height="9.89" fill="#e6861e"/>
<rect x="737.01" y="422.67" width="4.90" height="9.89" fill="#4b8220"/>
<rect x="741.91" y="422.67" width="4.90" height="9.89" fill="#fffb33"/>
<rect x="746.81" y="422.67" width="4.90" height="9.89" fill="#4b8220"/>
<rect x="751.71" y="422.67" width="4.90" height="9.89" fill="#eeaa55"/>
<rect x="756.61" y="422.67" width="9.80" height="9.89" fill="#4b8220"/>
<rect x="766.40" y="422.67" width="4.90" height="9.89" fill="#fffb33"/>
<rect x="771.30" y="422.67" width="4.90" height="9.89" fill="#4b8220"/>
<rect x="776.20" y="422.67" width="4.90" height="9.89" fill="#4480ff"/>
<rect x="203.08" y="432.56" width="4.90" height="9.89" fill="#2130ff"/>
<rect x="232.47" y="432.56" width="4.90" height="9.89" fill="#111a82"/>
<rect x="247.17" y="432.56" width="4.90" height="9.89" fill="#111a82"/>
<rect x="305.95" y="432.56" width="4.90" height="9.89" fill="#111a82"/>
<rect x="320.64" y="432.56" width="4.90" height="9.89" fill="#2130ff"/>
<rect x="335.34" y="432.56" width="9.80" height="9.89" fill="#111a82"/>
<rect x="359.83" y="432.56" width="4.90" height="9.89" fill="#111a82"/>
<rect x="364.73" y="432.56" width="9.80" height="9.89" fill="#2130ff"/>
<rect x="384.32" y="432.56" width="4.90" height="9.89" fill="#111a82"/>
<rect x="389.22" y="432.56" width="9.80" height="9.89" fill="#2130ff"/>
<rect x="403.92" y="432.56" width="4.90" height="9.89" fill="#111a82"/>
<rect x="418.61" y="432.56" width="4.90" height="9.89" fill="#111a82"/>
<rect x="423.51" y="432.56" width="4.90" height="9.89" fill="#2130ff"/>
<rect x="433.31" y="432.56" width="4.90" height="9.89" fill="#4480ff"/>
<rect x="438.21" y="432.56" width="4.90" height="9.89" fill="#111a82"/>
<rect x="448.00" y="432.56" width="9.80" height="9.89" fill="#2130ff"/>
<rect x="457.80" y="432.56" width="4.90" height="9.89" fill="#111a82"/>
<rect x="462.70" y="432.56" width="4.90" height="9.89" fill="#2130ff"/>
<rect x="467.60" y="432.56" width="4.90" height="9.89" fill="#4480ff"/>
<rect x="472.50" y="432.56" width="4.90" height="9.89" fill="#2130ff"/>
<rect x="477.39" y="432.56" width="4.90" height="9.89" fill="#4480ff"/>
<rect x="482.29" y="432.56" width="14.70" height="9.89" fill="#2130ff"/>
<rect x="496.99" y="432.56" width="9.80" height="9.89" fill="#111a82"/>
<rect x="506.78" y="432.56" width="9.80" height="9.89" fill="#2130ff"/>
<rect x="516.58" y="432.56" width="4.90" height="9.89" fill="#111a82"/>
<rect x="521.48" y="432.56" width="4.90" height="9.89" fill="#2130ff"/>
<rect x="526.38" y="432.56" width="9.80" height="9.89" fill="#111a82"/>
<rect x="536.18" y="432.56" width="4.90" height="9.89" fill="#2130ff"/>
<rect x="541.07" y="432.56" width="4.90" height="9.89" fill="#8ffcff"/>
<rect x="545.97" y="432.56" width="9.80" height="9.89" fill="#2130ff"/>
<rect x="555.77" y="432.56" width="4.90" height="9.89" fill="#4480ff"/>
<rect x="560.67" y="432.56" width="4.90" height="9.89" fill="#9cf837"/>
<rect x="565.57" y="432.56" width="14.70" height="9.89" fill="#8ffcff"/>
<rect x="580.26" y="432.56" width="4.90" height="9.89" fill="#9cf837"/>
<rect x="585.16" y="432.56" width="9.80" height="9.89" fill="#8ffcff"/>
<rect x="594.96" y="432.56" width="9.80" height="9.89" fill="#4480ff"/>
<rect x="604.75" y="432.56" width="4.90" height="9.89" fill="#9cf837"/>
<rect x="609.65" y="432.56" width="9.80" height="9.89" fill="#8ffcff"/>
<rect x="619.45" y="432.56" width="4.90" height="9.89" fill="#4480ff"/>
<rect x="624.35" y="432.56" width="4.90" height="9.89" fill="#9cf837"/>
<rect x="629.25" y="432.56" width="4.90" height="9.89" fill="#8ffcff"/>
<rect x="634.15" y="432.56" width="4.90" height="9.89" fill="#e6861e"/>
<rect x="639.04" y="432.56" width="4.90" height="9.89" fill="#fffb33"/>
<rect x="643.94" y="432.56" width="4.90" height="9.89" fill="#714212"/>
<rect x="648.84" y="432.56" width="4.90" height="9.89" fill="#e6861e"/>
<rect x="653.74" y="432.56" width="4.90" height="9.89" fill="#eeaa55"/>
<rect x="658.64" y="432.56" width="4.90" height="9.89" fill="#e6861e"/>
<rect x="663.54" y="432.56" width="4.90" height="9.89" fill="#fffb33"/>
<rect x="668.43" y="432.56" width="4.90" height="9.89" fill="#e6861e"/>
<rect x="673.33" y="432.56" width="9.80" height="9.89" fill="#714212"/>
<rect x="683.13" y="432.56" width="4.90" height="9.89" fill="#76cf33"/>
<rect x="688.03" y="432.56" width="4.90" height="9.89" fill="#eeaa55"/>
<rect x="692.93" y="432.56" width="4.90" height="9.89" fill="#fffb33"/>
<rect x="697.83" y="432.56" width="4.90" height="9.89" fill="#76cf33"/>
<rect x="702.72" y="432.56" width="9.80" height="9.89" fill="#9cf837"/>
<rect x="712.52" y="432.56" width="4.90" height="9.89" fill="#fffb33"/>
<rect x="717.42" y="432.56" width="4.90" height="9.89" fill="#4b8220"/>
<rect x="722.32" y="432.56" width="9.80" height="9.89" fill="#fffb33"/>
<rect x="732.12" y="432.56" width="4.90" height="9.89" fill="#9cf837"/>
<rect x="737.01" y="432.56" width="4.90" height="9.89" fill="#76cf33"/>
<rect x="741.91" y="432.56" width="4.90" height="9.89" fill="#fffb33"/>
<rect x="746.81" y="432.56" width="14.70" height="9.89" fill="#eeaa55"/>
<rect x="761.51" y="432.56" width="9.80" height="9.89" fill="#fffb33"/>
<rect x="771.30" y="432.56" width="4.90" height="9.89" fill="#4b8220"/>
<rect x="776.20" y="432.56" width="4.90" height="9.89" fill="#2130ff"/>
<rect x="198.18" y="442.45" width="4.90" height="9.89" fill="#2130ff"/>
<rect x="252.06" y="442.45" width="4.90" height="9.89" fill="#111a82"/>
<rect x="271.66" y="442.45" width="4.90" height="9.89" fill="#2130ff"/>
<rect x="276.56" y="442.45" width="4.90" height="9.89" fill="#111a82"/>
<rect x="291.25" y="442.45" width="4.90" height="9.89" fill="#2130ff"/>
<rect x="335.34" y="442.45" width="4.90" height="9.89" fill="#111a82"/>
<rect x="350.03" y="442.45" width="4.90" height="9.89" fill="#111a82"/>
<rect x="354.93" y="442.45" width="4.90" height="9.89" fill="#2130ff"/>
<rect x="359.83" y="442.45" width="4.90" height="9.89" fill="#4480ff"/>
<rect x="364.73" y="442.45" width="4.90" height="9.89" fill="#111a82"/>
<rect x="374.53" y="442.45" width="14.70" height="9.89" fill="#111a82"/>
<rect x="389.22" y="442.45" width="9.80" height="9.89" fill="#2130ff"/>
<rect x="413.71" y="442.45" width="4.90" height="9.89" fill="#2130ff"/>
<rect x="423.51" y="442.45" width="4.90" height="9.89" fill="#2130ff"/>
<rect x="428.41" y="442.45" width="4.90" height="9.89" fill="#8ffcff"/>
<rect x="433.31" y="442.45" width="4.90" height="9.89" fill="#111a82"/>
<rect x="438.21" y="442.45" width="4.90" height="9.89" fill="#2130ff"/>
<rect x="443.10" y="442.45" width="4.90" height="9.89" fill="#111a82"/>
<rect x="448.00" y="442.45" width="9.80" height="9.89" fill="#2130ff"/>
<rect x="457.80" y="442.45" width="4.90" height="9.89" fill="#4480ff"/>
<rect x="462.70" y="442.45" width="4.90" height="9.89" fill="#9cf837"/>
<rect x="467.60" y="442.45" width="4.90" height="9.89" fill="#2130ff"/>
<rect x="472.50" y="442.45" width="14.70" height="9.89" fill="#4480ff"/>
<rect x="487.19" y="442.45" width="4.90" height="9.89" fill="#2130ff"/>
<rect x="492.09" y="442.45" width="4.90" height="9.89" fill="#111a82"/>
<rect x="496.99" y="442.45" width="4.90" height="9.89" fill="#2130ff"/>
<rect x="506.78" y="442.45" width="4.90" height="9.89" fill="#2130ff"/>
<rect x="511.68" y="442.45" width="4.90" height="9.89" fill="#111a82"/>
<rect x="516.58" y="442.45" width="4.90" height="9.89" fill="#2130ff"/>
<rect x="526.38" y="442.45" width="9.80" height="9.89" fill="#111a82"/>
<rect x="536.18" y="442.45" width="4.90" height="9.89" fill="#8ffcff"/>
<rect x="541.07" y="442.45" width="14.70" height="9.89" fill="#2130ff"/>
<rect x="555.77" y="442.45" width="9.80" height="9.89" fill="#4480ff"/>
<rect x="565.57" y="442.45" width="4.90" height="9.89" fill="#9cf837"/>
<rect x="570.47" y="442.45" width="4.90" height="9.89" fill="#8ffcff"/>
<rect x="575.36" y="442.45" width="9.80" height="9.89" fill="#4480ff"/>
<rect x="585.16" y="442.45" width="4.90" height="9.89" fill="#2130ff"/>
<rect x="590.06" y="442.45" width="9.80" height="9.89" fill="#4480ff"/>
<rect x="599.86" y="442.45" width="14.70" height="9.89" fill="#9cf837"/>
<rect x="614.55" y="442.45" width="4.90" height="9.89" fill="#2130ff"/>
<rect x="619.45" y="442.45" width="4.90" height="9.89" fill="#76cf33"/>
<rect x="624.35" y="442.45" width="4.90" height="9.89" fill="#9cf837"/>
<rect x="629.25" y="442.45" width="4.90" height="9.89" fill="#4b8220"/>
<rect x="634.15" y="442.45" width="9.80" height="9.89" fill="#fffb33"/>
<rect x="643.94" y="442.45" width="4.90" height="9.89" fill="#e6861e"/>
<rect x="648.84" y="442.45" width="4.90" height="9.89" fill="#714212"/>
<rect x="653.74" y="442.45" width="4.90" height="9.89" fill="#eeaa55"/>
<rect x="658.64" y="442.45" width="4.90" height="9.89" fill="#e6861e"/>
<rect x="663.54" y="442.45" width="4.90" height="9.89" fill="#4b8220"/>
<rect x="668.43" y="442.45" width="4.90" height="9.89" fill="#714212"/>
<rect x="673.33" y="442.45" width="4.90" height="9.89" fill="#a82202"/>
<rect x="678.23" y="442.45" width="9.80" height="9.89" fill="#fffb33"/>
<rect x="688.03" y="442.45" width="4.90" height="9.89" fill="#4b8220"/>
<rect x="692.93" y="442.45" width="4.90" height="9.89" fill="#76cf33"/>
<rect x="697.83" y="442.45" width="4.90" height="9.89" fill="#4b8220"/>
<rect x="702.72" y="442.45" width="4.90" height="9.89" fill="#9cf837"/>
<rect x="707.62" y="442.45" width="4.90" height="9.89" fill="#76cf33"/>
<rect x="712.52" y="442.45" width="4.90" height="9.89" fill="#fffb33"/>
<rect x="717.42" y="442.45" width="4.90" height="9.89" fill="#4b8220"/>
<rect x="722.32" y="442.45" width="9.80" height="9.89" fill="#eeaa55"/>
<rect x="732.12" y="442.45" width="4.90" height="9.89" fill="#fffb33"/>
<rect x="737.01" y="442.45" width="4.90" height="9.89" fill="#76cf33"/>
<rect x="741.91" y="442.45" width="4.90" height="9.89" fill="#eeaa55"/>
<rect x="746.81" y="442.45" width="14.70" height="9.89" fill="#fffb33"/>
<rect x="761.51" y="442.45" width="4.90" height="9.89" fill="#eeaa55"/>
<rect x="766.40" y="442.45" width="4.90" height="9.89" fill="#714212"/>
<rect x="771.30" y="442.45" width="4.90" height="9.89" fill="#eeaa55"/>
<rect x="776.20" y="442.45" width="4.90" height="9.89" fill="#4480ff"/>
<rect x="207.98" y="452.33" width="4.90" height="9.89" fill="#111a82"/>
<rect x="222.67" y="452.33" width="4.90" height="9.89" fill="#2130ff"/>
<rect x="271.66" y="452.33" width="4.90" height="9.89" fill="#2130ff"/>
<rect x="286.35" y="452.33" width="4.90" height="9.89" fill="#111a82"/>
<rect x="291.25" y="452.33" width="9.80" height="9.89" fill="#2130ff"/>
<rect x="354.93" y="452.33" width="4.90" height="9.89" fill="#111a82"/>
<rect x="359.83" y="452.33" width="4.90" height="9.89" fill="#2130ff"/>
<rect x="374.53" y="452.33" width="14.70" height="9.89" fill="#2130ff"/>
<rect x="389.22" y="452.33" width="4.90" height="9.89" fill="#111a82"/>
<rect x="399.02" y="452.33" width="4.90" height="9.89" fill="#111a82"/>
<rect x="413.71" y="452.33" width="4.90" height="9.89" fill="#2130ff"/>
<rect x="418.61" y="452.33" width="4.90" height="9.89" fill="#111a82"/>
<rect x="423.51" y="452.33" width="4.90" height="9.89" fill="#4480ff"/>
<rect x="428.41" y="452.33" width="9.80" height="9.89" fill="#2130ff"/>
<rect x="438.21" y="452.33" width="4.90" height="9.89" fill="#111a82"/>
<rect x="443.10" y="452.33" width="4.90" height="9.89" fill="#2130ff"/>
<rect x="448.00" y="452.33" width="4.90" height="9.89" fill="#111a82"/>
<rect x="452.90" y="452.33" width="4.90" height="9.89" fill="#2130ff"/>
<rect x="457.80" y="452.33" width="4.90" height="9.89" fill="#4480ff"/>
<rect x="462.70" y="452.33" width="4.90" height="9.89" fill="#2130ff"/>
<rect x="467.60" y="452.33" width="14.70" height="9.89" fill="#4480ff"/>
<rect x="482.29" y="452.33" width="19.59" height="9.89" fill="#2130ff"/>
<rect x="501.89" y="452.33" width="4.90" height="9.89" fill="#4480ff"/>
<rect x="506.78" y="452.33" width="9.80" height="9.89" fill="#2130ff"/>
<rect x="516.58" y="452.33" width="4.90" height="9.89" fill="#111a82"/>
<rect x="521.48" y="452.33" width="9.80" height="9.89" fill="#2130ff"/>
<rect x="531.28" y="452.33" width="4.90" height="9.89" fill="#8ffcff"/>
<rect x="536.18" y="452.33" width="4.90" height="9.89" fill="#2130ff"/>
<rect x="541.07" y="452.33" width="14.70" height="9.89" fill="#4480ff"/>
<rect x="555.77" y="452.33" width="4.90" height="9.89" fill="#8ffcff"/>
<rect x="560.67" y="452.33" width="4.90" height="9.89" fill="#76cf33"/>
<rect x="565.57" y="452.33" width="4.90" height="9.89" fill="#8ffcff"/>
<rect x="570.47" y="452.33" width="24.49" height="9.89" fill="#4480ff"/>
<rect x="594.96" y="452.33" width="9.80" height="9.89" fill="#9cf837"/>
<rect x="604.75" y="452.33" width="4.90" height="9.89" fill="#2130ff"/>
<rect x="609.65" y="452.33" width="9.80" height="9.89" fill="#9cf837"/>
<rect x="619.45" y="452.33" width="4.90" height="9.89" fill="#8ffcff"/>
<rect x="624.35" y="452.33" width="4.90" height="9.89" fill="#eeaa55"/>
<rect x="629.25" y="452.33" width="4.90" height="9.89" fill="#fffb33"/>
<rect x="634.15" y="452.33" width="4.90" height="9.89" fill="#eeaa55"/>
<rect x="639.04" y="452.33" width="4.90" height="9.89" fill="#fffb33"/>
<rect x="643.94" y="452.33" width="4.90" height="9.89" fill="#a82202"/>
<rect x="648.84" y="452.33" width="9.80" height="9.89" fill="#714212"/>
<rect x="658.64" y="452.33" width="4.90" height="9.89" fill="#e6861e"/>
<rect x="663.54" y="452.33" width="4.90" height="9.89" fill="#714212"/>
<rect x="668.43" y="452.33" width="4.90" height="9.89" fill="#a82202"/>
<rect x="673.33" y="452.33" width="4.90" height="9.89" fill="#fffb33"/>
<rect x="678.23" y="452.33" width="4.90" height="9.89" fill="#714212"/>
<rect x="683.13" y="452.33" width="4.90" height="9.89" fill="#4b8220"/>
<rect x="688.03" y="452.33" width="9.80" height="9.89" fill="#76cf33"/>
<rect x="697.83" y="452.33" width="4.90" height="9.89" fill="#9cf837"/>
<rect x="702.72" y="452.33" width="9.80" height="9.89" fill="#76cf33"/>
<rect x="712.52" y="452.33" width="4.90" height="9.89" fill="#fffb33"/>
<rect x="717.42" y="452.33" width="4.90" height="9.89" fill="#eeaa55"/>
<rect x="722.32" y="452.33" width="4.90" height="9.89" fill="#e6861e"/>
<rect x="727.22" y="452.33" width="4.90" height="9.89" fill="#4b8220"/>
<rect x="732.12" y="452.33" width="4.90" height="9.89" fill="#fffb33"/>
<rect x="737.01" y="452.33" width="9.80" height="9.89" fill="#eeaa55"/>
<rect x="746.81" y="452.33" width="4.90" height="9.89" fill="#e6861e"/>
<rect x="751.71" y="452.33" width="4.90" height="9.89" fill="#4b8220"/>
<rect x="756.61" y="452.33" width="9.80" height="9.89" fill="#e6861e"/>
<rect x="766.40" y="452.33" width="4.90" height="9.89" fill="#a82202"/>
<rect x="771.30" y="452.33" width="4.90" height="9.89" fill="#4b8220"/>
<rect x="776.20" y="452.33" width="4.90" height="9.89" fill="#4480ff"/>
<rect x="188.38" y="462.22" width="4.90" height="9.89" fill="#2130ff"/>
<rect x="217.77" y="462.22" width="4.90" height="9.89" fill="#111a82"/>
<rect x="266.76" y="462.22" width="4.90" height="9.89" fill="#111a82"/>
<rect x="276.56" y="462.22" width="9.80" height="9.89" fill="#111a82"/>
<rect x="291.25" y="462.22" width="4.90" height="9.89" fill="#2130ff"/>
<rect x="305.95" y="462.22" width="4.90" height="9.89" fill="#111a82"/>
<rect x="335.34" y="462.22" width="4.90" height="9.89" fill="#2130ff"/>
<rect x="345.13" y="462.22" width="4.90" height="9.89" fill="#111a82"/>
<rect x="350.03" y="462.22" width="9.80" height="9.89" fill="#2130ff"/>
<rect x="359.83" y="462.22" width="4.90" height="9.89" fill="#111a82"/>
<rect x="364.73" y="462.22" width="9.80" height="9.89" fill="#2130ff"/>
<rect x="379.42" y="462.22" width="4.90" height="9.89" fill="#2130ff"/>
<rect x="394.12" y="462.22" width="4.90" height="9.89" fill="#111a82"/>
<rect x="408.82" y="462.22" width="4.90" height="9.89" fill="#111a82"/>
<rect x="413.71" y="462.22" width="4.90" height="9.89" fill="#2130ff"/>
<rect x="418.61" y="462.22" width="4.90" height="9.89" fill="#4480ff"/>
<rect x="423.51" y="462.22" width="4.90" height="9.89" fill="#2130ff"/>
<rect x="428.41" y="462.22" width="9.80" height="9.89" fill="#111a82"/>
<rect x="438.21" y="462.22" width="4.90" height="9.89" fill="#8ffcff"/>
<rect x="443.10" y="462.22" width="4.90" height="9.89" fill="#2130ff"/>
<rect x="448.00" y="462.22" width="4.90" height="9.89" fill="#4480ff"/>
<rect x="452.90" y="462.22" width="4.90" height="9.89" fill="#2130ff"/>
<rect x="457.80" y="462.22" width="4.90" height="9.89" fill="#111a82"/>
<rect x="462.70" y="462.22" width="9.80" height="9.89" fill="#2130ff"/>
<rect x="472.50" y="462.22" width="9.80" height="9.89" fill="#4480ff"/>
<rect x="482.29" y="462.22" width="19.59" height="9.89" fill="#2130ff"/>
<rect x="501.89" y="462.22" width="4.90" height="9.89" fill="#4480ff"/>
<rect x="506.78" y="462.22" width="4.90" height="9.89" fill="#2130ff"/>
<rect x="516.58" y="462.22" width="9.80" height="9.89" fill="#111a82"/>
<rect x="526.38" y="462.22" width="4.90" height="9.89" fill="#8ffcff"/>
<rect x="531.28" y="462.22" width="4.90" height="9.89" fill="#4480ff"/>
<rect x="536.18" y="462.22" width="9.80" height="9.89" fill="#2130ff"/>
<rect x="545.97" y="462.22" width="4.90" height="9.89" fill="#4480ff"/>
<rect x="550.87" y="462.22" width="9.80" height="9.89" fill="#8ffcff"/>
<rect x="560.67" y="462.22" width="4.90" height="9.89" fill="#9cf837"/>
<rect x="565.57" y="462.22" width="9.80" height="9.89" fill="#4480ff"/>
<rect x="575.36" y="462.22" width="9.80" height="9.89" fill="#8ffcff"/>
<rect x="585.16" y="462.22" width="4.90" height="9.89" fill="#4480ff"/>
<rect x="590.06" y="462.22" width="4.90" height="9.89" fill="#9cf837"/>
<rect x="594.96" y="462.22" width="4.90" height="9.89" fill="#76cf33"/>
<rect x="599.86" y="462.22" width="4.90" height="9.89" fill="#4480ff"/>
<rect x="604.75" y="462.22" width="4.90" height="9.89" fill="#9cf837"/>
<rect x="609.65" y="462.22" width="9.80" height="9.89" fill="#76cf33"/>
<rect x="619.45" y="462.22" width="4.90" height="9.89" fill="#eeaa55"/>
<rect x="624.35" y="462.22" width="4.90" height="9.89" fill="#fffb33"/>
<rect x="629.25" y="462.22" width="9.80" height="9.89" fill="#eeaa55"/>
<rect x="639.04" y="462.22" width="4.90" height="9.89" fill="#714212"/>
<rect x="643.94" y="462.22" width="4.90" height="9.89" fill="#e6861e"/>
<rect x="648.84" y="462.22" width="9.80" height="9.89" fill="#eeaa55"/>
<rect x="658.64" y="462.22" width="4.90" height="9.89" fill="#a82202"/>
<rect x="663.54" y="462.22" width="4.90" height="9.89" fill="#e6861e"/>
<rect x="668.43" y="462.22" width="4.90" height="9.89" fill="#8ffcff"/>
<rect x="673.33" y="462.22" width="9.80" height="9.89" fill="#fffb33"/>
<rect x="683.13" y="462.22" width="4.90" height="9.89" fill="#eeaa55"/>
<rect x="688.03" y="462.22" width="4.90" height="9.89" fill="#76cf33"/>
<rect x="692.93" y="462.22" width="4.90" height="9.89" fill="#9cf837"/>
<rect x="697.83" y="462.22" width="4.90" height="9.89" fill="#4b8220"/>
<rect x="702.72" y="462.22" width="4.90" height="9.89" fill="#76cf33"/>
<rect x="707.62" y="462.22" width="4.90" height="9.89" fill="#4b8220"/>
<rect x="712.52" y="462.22" width="4.90" height="9.89" fill="#fffb33"/>
<rect x="717.42" y="462.22" width="4.90" height="9.89" fill="#4b8220"/>
<rect x="722.32" y="462.22" width="4.90" height="9.89" fill="#76cf33"/>
<rect x="727.22" y="462.22" width="9.80" height="9.89" fill="#eeaa55"/>
<rect x="737.01" y="462.22" width="4.90" height="9.89" fill="#4b8220"/>
<rect x="741.91" y="462.22" width="9.80" height="9.89" fill="#e6861e"/>
<rect x="751.71" y="462.22" width="4.90" height="9.89" fill="#eeaa55"/>
<rect x="756.61" y="462.22" width="4.90" height="9.89" fill="#e6861e"/>
<rect x="761.51" y="462.22" width="4.90" height="9.89" fill="#714212"/>
<rect x="766.40" y="462.22" width="4.90" height="9.89" fill="#e6861e"/>
<rect x="771.30" y="462.22" width="4.90" height="9.89" fill="#714212"/>
<rect x="776.20" y="462.22" width="4.90" height="9.89" fill="#4480ff"/>
<rect x="183.48" y="472.11" width="4.90" height="9.89" fill="#111a82"/>
<rect x="261.86" y="472.11" width="4.90" height="9.89" fill="#111a82"/>
<rect x="276.56" y="472.11" width="4.90" height="9.89" fill="#111a82"/>
<rect x="286.35" y="472.11" width="4.90" height="9.89" fill="#4480ff"/>
<rect x="310.85" y="472.11" width="4.90" height="9.89" fill="#111a82"/>
<rect x="320.64" y="472.11" width="4.90" height="9.89" fill="#111a82"/>
<rect x="335.34" y="472.11" width="4.90" height="9.89" fill="#111a82"/>
<rect x="345.13" y="472.11" width="9.80" height="9.89" fill="#2130ff"/>
<rect x="359.83" y="472.11" width="4.90" height="9.89" fill="#111a82"/>
<rect x="364.73" y="472.11" width="14.70" height="9.89" fill="#2130ff"/>
<rect x="379.42" y="472.11" width="4.90" height="9.89" fill="#111a82"/>
<rect x="403.92" y="472.11" width="4.90" height="9.89" fill="#4480ff"/>
<rect x="408.82" y="472.11" width="4.90" height="9.89" fill="#2130ff"/>
<rect x="413.71" y="472.11" width="4.90" height="9.89" fill="#4480ff"/>
<rect x="418.61" y="472.11" width="4.90" height="9.89" fill="#2130ff"/>
<rect x="423.51" y="472.11" width="4.90" height="9.89" fill="#4480ff"/>
<rect x="428.41" y="472.11" width="4.90" height="9.89" fill="#2130ff"/>
<rect x="433.31" y="472.11" width="4.90" height="9.89" fill="#4480ff"/>
<rect x="438.21" y="472.11" width="4.90" height="9.89" fill="#2130ff"/>
<rect x="443.10" y="472.11" width="4.90" height="9.89" fill="#4480ff"/>
<rect x="448.00" y="472.11" width="4.90" height="9.89" fill="#2130ff"/>
<rect x="452.90" y="472.11" width="4.90" height="9.89" fill="#111a82"/>
<rect x="457.80" y="472.11" width="9.80" height="9.89" fill="#4480ff"/>
<rect x="467.60" y="472.11" width="24.49" height="9.89" fill="#2130ff"/>
<rect x="492.09" y="472.11" width="4.90" height="9.89" fill="#4480ff"/>
<rect x="496.99" y="472.11" width="4.90" height="9.89" fill="#8ffcff"/>
<rect x="501.89" y="472.11" width="4.90" height="9.89" fill="#4480ff"/>
<rect x="506.78" y="472.11" width="4.90" height="9.89" fill="#111a82"/>
<rect x="511.68" y="472.11" width="4.90" height="9.89" fill="#4480ff"/>
<rect x="516.58" y="472.11" width="4.90" height="9.89" fill="#2130ff"/>
<rect x="521.48" y="472.11" width="4.90" height="9.89" fill="#8ffcff"/>
<rect x="526.38" y="472.11" width="4.90" height="9.89" fill="#4480ff"/>
<rect x="531.28" y="472.11" width="4.90" height="9.89" fill="#2130ff"/>
<rect x="536.18" y="472.11" width="4.90" height="9.89" fill="#4480ff"/>
<rect x="541.07" y="472.11" width="4.90" height="9.89" fill="#8ffcff"/>
<rect x="545.97" y="472.11" width="4.90" height="9.89" fill="#4480ff"/>
<rect x="550.87" y="472.11" width="4.90" height="9.89" fill="#8ffcff"/>
<rect x="555.77" y="472.11" width="4.90" height="9.89" fill="#9cf837"/>
<rect x="560.67" y="472.11" width="14.70" height="9.89" fill="#4480ff"/>
<rect x="575.36" y="472.11" width="4.90" height="9.89" fill="#76cf33"/>
<rect x="580.26" y="472.11" width="4.90" height="9.89" fill="#4480ff"/>
<rect x="585.16" y="472.11" width="9.80" height="9.89" fill="#76cf33"/>
<rect x="594.96" y="472.11" width="9.80" height="9.89" fill="#9cf837"/>
<rect x="604.75" y="472.11" width="4.90" height="9.89" fill="#4b8220"/>
<rect x="609.65" y="472.11" width="4.90" height="9.89" fill="#9cf837"/>
<rect x="614.55" y="472.11" width="4.90" height="9.89" fill="#eeaa55"/>
<rect x="619.45" y="472.11" width="9.80" height="9.89" fill="#4b8220"/>
<rect x="629.25" y="472.11" width="4.90" height="9.89" fill="#fffb33"/>
<rect x="634.15" y="472.11" width="4.90" height="9.89" fill="#a82202"/>
<rect x="639.04" y="472.11" width="9.80" height="9.89" fill="#714212"/>
<rect x="648.84" y="472.11" width="4.90" height="9.89" fill="#a82202"/>
<rect x="653.74" y="472.11" width="9.80" height="9.89" fill="#714212"/>
<rect x="663.54" y="472.11" width="4.90" height="9.89" fill="#fffb33"/>
<rect x="668.43" y="472.11" width="4.90" height="9.89" fill="#eeaa55"/>
<rect x="673.33" y="472.11" width="9.80" height="9.89" fill="#4b8220"/>
<rect x="683.13" y="472.11" width="4.90" height="9.89" fill="#eeaa55"/>
<rect x="688.03" y="472.11" width="4.90" height="9.89" fill="#76cf33"/>
<rect x="692.93" y="472.11" width="19.59" height="9.89" fill="#fffb33"/>
<rect x="712.52" y="472.11" width="4.90" height="9.89" fill="#76cf33"/>
<rect x="717.42" y="472.11" width="4.90" height="9.89" fill="#9cf837"/>
<rect x="722.32" y="472.11" width="4.90" height="9.89" fill="#76cf33"/>
<rect x="727.22" y="472.11" width="4.90" height="9.89" fill="#4b8220"/>
<rect x="732.12" y="472.11" width="4.90" height="9.89" fill="#a82202"/>
<rect x="737.01" y="472.11" width="4.90" height="9.89" fill="#e6861e"/>
<rect x="741.91" y="472.11" width="4.90" height="9.89" fill="#fffb33"/>
<rect x="746.81" y="472.11" width="4.90" height="9.89" fill="#714212"/>
<rect x="751.71" y="472.11" width="4.90" height="9.89" fill="#eeaa55"/>
<rect x="756.61" y="472.11" width="4.90" height="9.89" fill="#714212"/>
<rect x="761.51" y="472.11" width="4.90" height="9.89" fill="#a82202"/>
<rect x="766.40" y="472.11" width="9.80" height="9.89" fill="#714212"/>
<rect x="776.20" y="472.11" width="4.90" height="9.89" fill="#9cf837"/>
<rect x="222.67" y="482.00" width="4.90" height="9.89" fill="#111a82"/>
<rect x="256.96" y="482.00" width="4.90" height="9.89" fill="#111a82"/>
<rect x="276.56" y="482.00" width="4.90" height="9.89" fill="#111a82"/>
<rect x="281.45" y="482.00" width="4.90" height="9.89" fill="#2130ff"/>
<rect x="291.25" y="482.00" width="4.90" height="9.89" fill="#111a82"/>
<rect x="315.74" y="482.00" width="4.90" height="9.89" fill="#111a82"/>
<rect x="330.44" y="482.00" width="4.90" height="9.89" fill="#111a82"/>
<rect x="340.24" y="482.00" width="19.59" height="9.89" fill="#111a82"/>
<rect x="359.83" y="482.00" width="4.90" height="9.89" fill="#2130ff"/>
<rect x="364.73" y="482.00" width="4.90" height="9.89" fill="#111a82"/>
<rect x="369.63" y="482.00" width="4.90" height="9.89" fill="#4480ff"/>
<rect x="374.53" y="482.00" width="4.90" height="9.89" fill="#111a82"/>
<rect x="394.12" y="482.00" width="4.90" height="9.89" fill="#111a82"/>
<rect x="399.02" y="482.00" width="4.90" height="9.89" fill="#4480ff"/>
<rect x="408.82" y="482.00" width="4.90" height="9.89" fill="#2130ff"/>
<rect x="413.71" y="482.00" width="4.90" height="9.89" fill="#4480ff"/>
<rect x="418.61" y="482.00" width="14.70" height="9.89" fill="#2130ff"/>
<rect x="433.31" y="482.00" width="4.90" height="9.89" fill="#4480ff"/>
<rect x="438.21" y="482.00" width="4.90" height="9.89" fill="#2130ff"/>
<rect x="443.10" y="482.00" width="4.90" height="9.89" fill="#4480ff"/>
<rect x="448.00" y="482.00" width="4.90" height="9.89" fill="#111a82"/>
<rect x="457.80" y="482.00" width="4.90" height="9.89" fill="#4480ff"/>
<rect x="462.70" y="482.00" width="14.70" height="9.89" fill="#2130ff"/>
<rect x="477.39" y="482.00" width="4.90" height="9.89" fill="#4480ff"/>
<rect x="482.29" y="482.00" width="4.90" height="9.89" fill="#2130ff"/>
<rect x="487.19" y="482.00" width="4.90" height="9.89" fill="#4480ff"/>
<rect x="492.09" y="482.00" width="9.80" height="9.89" fill="#2130ff"/>
<rect x="511.68" y="482.00" width="14.70" height="9.89" fill="#2130ff"/>
<rect x="526.38" y="482.00" width="9.80" height="9.89" fill="#4480ff"/>
<rect x="536.18" y="482.00" width="9.80" height="9.89" fill="#8ffcff"/>
<rect x="545.97" y="482.00" width="4.90" height="9.89" fill="#9cf837"/>
<rect x="550.87" y="482.00" width="4.90" height="9.89" fill="#4480ff"/>
<rect x="555.77" y="482.00" width="9.80" height="9.89" fill="#8ffcff"/>
<rect x="565.57" y="482.00" width="4.90" height="9.89" fill="#4480ff"/>
<rect x="570.47" y="482.00" width="4.90" height="9.89" fill="#8ffcff"/>
<rect x="575.36" y="482.00" width="4.90" height="9.89" fill="#4480ff"/>
<rect x="580.26" y="482.00" width="4.90" height="9.89" fill="#76cf33"/>
<rect x="585.16" y="482.00" width="4.90" height="9.89" fill="#4b8220"/>
<rect x="590.06" y="482.00" width="4.90" height="9.89" fill="#8ffcff"/>
<rect x="594.96" y="482.00" width="4.90" height="9.89" fill="#4480ff"/>
<rect x="599.86" y="482.00" width="4.90" height="9.89" fill="#9cf837"/>
<rect x="604.75" y="482.00" width="9.80" height="9.89" fill="#4b8220"/>
<rect x="614.55" y="482.00" width="4.90" height="9.89" fill="#e6861e"/>
<rect x="619.45" y="482.00" width="9.80" height="9.89" fill="#eeaa55"/>
<rect x="629.25" y="482.00" width="4.90" height="9.89" fill="#a82202"/>
<rect x="634.15" y="482.00" width="9.80" height="9.89" fill="#e6861e"/>
<rect x="643.94" y="482.00" width="9.80" height="9.89" fill="#714212"/>
<rect x="653.74" y="482.00" width="4.90" height="9.89" fill="#e6861e"/>
<rect x="658.64" y="482.00" width="4.90" height="9.89" fill="#4b8220"/>
<rect x="663.54" y="482.00" width="4.90" height="9.89" fill="#e6861e"/>
<rect x="668.43" y="482.00" width="19.59" height="9.89" fill="#76cf33"/>
<rect x="688.03" y="482.00" width="4.90" height="9.89" fill="#e6861e"/>
<rect x="692.93" y="482.00" width="4.90" height="9.89" fill="#4b8220"/>
<rect x="697.83" y="482.00" width="4.90" height="9.89" fill="#76cf33"/>
<rect x="702.72" y="482.00" width="4.90" height="9.89" fill="#4b8220"/>
<rect x="707.62" y="482.00" width="4.90" height="9.89" fill="#eeaa55"/>
<rect x="712.52" y="482.00" width="9.80" height="9.89" fill="#4b8220"/>
<rect x="722.32" y="482.00" width="9.80" height="9.89" fill="#eeaa55"/>
<rect x="732.12" y="482.00" width="4.90" height="9.89" fill="#a82202"/>
<rect x="737.01" y="482.00" width="4.90" height="9.89" fill="#4b8220"/>
<rect x="741.91" y="482.00" width="4.90" height="9.89" fill="#fffb33"/>
<rect x="746.81" y="482.00" width="4.90" height="9.89" fill="#e6861e"/>
<rect x="751.71" y="482.00" width="19.59" height="9.89" fill="#714212"/>
<rect x="771.30" y="482.00" width="4.90" height="9.89" fill="#e6861e"/>
<rect x="776.20" y="482.00" width="4.90" height="9.89" fill="#4480ff"/>
<rect x="173.69" y="491.88" width="4.90" height="9.89" fill="#111a82"/>
<rect x="203.08" y="491.88" width="9.80" height="9.89" fill="#111a82"/>
<rect x="252.06" y="491.88" width="4.90" height="9.89" fill="#2130ff"/>
<rect x="266.76" y="491.88" width="4.90" height="9.89" fill="#2130ff"/>
<rect x="310.85" y="491.88" width="4.90" height="9.89" fill="#2130ff"/>
<rect x="325.54" y="491.88" width="4.90" height="9.89" fill="#111a82"/>
<rect x="335.34" y="491.88" width="14.70" height="9.89" fill="#111a82"/>
<rect x="354.93" y="491.88" width="14.70" height="9.89" fill="#2130ff"/>
<rect x="369.63" y="491.88" width="4.90" height="9.89" fill="#111a82"/>
<rect x="389.22" y="491.88" width="4.90" height="9.89" fill="#111a82"/>
<rect x="394.12" y="491.88" width="9.80" height="9.89" fill="#2130ff"/>
<rect x="403.92" y="491.88" width="9.80" height="9.89" fill="#4480ff"/>
<rect x="413.71" y="491.88" width="4.90" height="9.89" fill="#2130ff"/>
<rect x="418.61" y="491.88" width="9.80" height="9.89" fill="#4480ff"/>
<rect x="428.41" y="491.88" width="9.80" height="9.89" fill="#2130ff"/>
<rect x="438.21" y="491.88" width="4.90" height="9.89" fill="#4480ff"/>
<rect x="443.10" y="491.88" width="4.90" height="9.89" fill="#2130ff"/>
<rect x="448.00" y="491.88" width="4.90" height="9.89" fill="#4480ff"/>
<rect x="452.90" y="491.88" width="29.39" height="9.89" fill="#2130ff"/>
<rect x="482.29" y="491.88" width="4.90" height="9.89" fill="#8ffcff"/>
<rect x="487.19" y="491.88" width="9.80" height="9.89" fill="#4480ff"/>
<rect x="496.99" y="491.88" width="9.80" height="9.89" fill="#111a82"/>
<rect x="511.68" y="491.88" width="4.90" height="9.89" fill="#4480ff"/>
<rect x="516.58" y="491.88" width="4.90" height="9.89" fill="#8ffcff"/>
<rect x="521.48" y="491.88" width="4.90" height="9.89" fill="#4480ff"/>
<rect x="526.38" y="491.88" width="4.90" height="9.89" fill="#2130ff"/>
<rect x="531.28" y="491.88" width="4.90" height="9.89" fill="#8ffcff"/>
<rect x="536.18" y="491.88" width="4.90" height="9.89" fill="#4480ff"/>
<rect x="541.07" y="491.88" width="4.90" height="9.89" fill="#76cf33"/>
<rect x="545.97" y="491.88" width="4.90" height="9.89" fill="#9cf837"/>
<rect x="550.87" y="491.88" width="14.70" height="9.89" fill="#4480ff"/>
<rect x="565.57" y="491.88" width="4.90" height="9.89" fill="#9cf837"/>
<rect x="570.47" y="491.88" width="4.90" height="9.89" fill="#8ffcff"/>
<rect x="575.36" y="491.88" width="14.70" height="9.89" fill="#76cf33"/>
<rect x="590.06" y="491.88" width="4.90" height="9.89" fill="#8ffcff"/>
<rect x="594.96" y="491.88" width="4.90" height="9.89" fill="#4b8220"/>
<rect x="599.86" y="491.88" width="4.90" height="9.89" fill="#eeaa55"/>
<rect x="604.75" y="491.88" width="4.90" height="9.89" fill="#4b8220"/>
<rect x="609.65" y="491.88" width="4.90" height="9.89" fill="#714212"/>
<rect x="614.55" y="491.88" width="4.90" height="9.89" fill="#eeaa55"/>
<rect x="619.45" y="491.88" width="9.80" height="9.89" fill="#e6861e"/>
<rect x="629.25" y="491.88" width="4.90" height="9.89" fill="#fffb33"/>
<rect x="634.15" y="491.88" width="4.90" height="9.89" fill="#eeaa55"/>
<rect x="639.04" y="491.88" width="14.70" height="9.89" fill="#714212"/>
<rect x="653.74" y="491.88" width="4.90" height="9.89" fill="#4b8220"/>
<rect x="658.64" y="491.88" width="4.90" height="9.89" fill="#a82202"/>
<rect x="663.54" y="491.88" width="4.90" height="9.89" fill="#9cf837"/>
<rect x="668.43" y="491.88" width="4.90" height="9.89" fill="#fffb33"/>
<rect x="673.33" y="491.88" width="4.90" height="9.89" fill="#eeaa55"/>
<rect x="678.23" y="491.88" width="4.90" height="9.89" fill="#8ffcff"/>
<rect x="683.13" y="491.88" width="9.80" height="9.89" fill="#4b8220"/>
<rect x="692.93" y="491.88" width="14.70" height="9.89" fill="#fffb33"/>
<rect x="707.62" y="491.88" width="4.90" height="9.89" fill="#76cf33"/>
<rect x="712.52" y="491.88" width="4.90" height="9.89" fill="#4b8220"/>
<rect x="717.42" y="491.88" width="4.90" height="9.89" fill="#eeaa55"/>
<rect x="722.32" y="491.88" width="4.90" height="9.89" fill="#a82202"/>
<rect x="727.22" y="491.88" width="4.90" height="9.89" fill="#e6861e"/>
<rect x="732.12" y="491.88" width="4.90" height="9.89" fill="#eeaa55"/>
<rect x="737.01" y="491.88" width="4.90" height="9.89" fill="#e6861e"/>
<rect x="741.91" y="491.88" width="4.90" height="9.89" fill="#a82202"/>
<rect x="746.81" y="491.88" width="24.49" height="9.89" fill="#714212"/>
<rect x="771.30" y="491.88" width="4.90" height="9.89" fill="#eeaa55"/>
<rect x="776.20" y="491.88" width="4.90" height="9.89" fill="#8ffcff"/>
<rect x="198.18" y="501.77" width="4.90" height="9.89" fill="#2130ff"/>
<rect x="212.88" y="501.77" width="4.90" height="9.89" fill="#111a82"/>
<rect x="242.27" y="501.77" width="9.80" height="9.89" fill="#111a82"/>
<rect x="261.86" y="501.77" width="4.90" height="9.89" fill="#111a82"/>
<rect x="271.66" y="501.77" width="4.90" height="9.89" fill="#111a82"/>
<rect x="281.45" y="501.77" width="4.90" height="9.89" fill="#111a82"/>
<rect x="291.25" y="501.77" width="4.90" height="9.89" fill="#111a82"/>
<rect x="305.95" y="501.77" width="4.90" height="9.89" fill="#111a82"/>
<rect x="320.64" y="501.77" width="4.90" height="9.89" fill="#111a82"/>
<rect x="330.44" y="501.77" width="19.59" height="9.89" fill="#111a82"/>
<rect x="350.03" y="501.77" width="4.90" height="9.89" fill="#2130ff"/>
<rect x="354.93" y="501.77" width="4.90" height="9.89" fill="#111a82"/>
<rect x="359.83" y="501.77" width="9.80" height="9.89" fill="#2130ff"/>
<rect x="374.53" y="501.77" width="9.80" height="9.89" fill="#111a82"/>
<rect x="389.22" y="501.77" width="9.80" height="9.89" fill="#2130ff"/>
<rect x="399.02" y="501.77" width="4.90" height="9.89" fill="#4480ff"/>
<rect x="403.92" y="501.77" width="9.80" height="9.89" fill="#2130ff"/>
<rect x="413.71" y="501.77" width="4.90" height="9.89" fill="#4480ff"/>
<rect x="418.61" y="501.77" width="14.70" height="9.89" fill="#2130ff"/>
<rect x="433.31" y="501.77" width="9.80" height="9.89" fill="#4480ff"/>
<rect x="443.10" y="501.77" width="34.29" height="9.89" fill="#2130ff"/>
<rect x="477.39" y="501.77" width="4.90" height="9.89" fill="#4480ff"/>
<rect x="482.29" y="501.77" width="4.90" height="9.89" fill="#2130ff"/>
<rect x="487.19" y="501.77" width="4.90" height="9.89" fill="#4480ff"/>
<rect x="492.09" y="501.77" width="4.90" height="9.89" fill="#111a82"/>
<rect x="496.99" y="501.77" width="9.80" height="9.89" fill="#2130ff"/>
<rect x="506.78" y="501.77" width="4.90" height="9.89" fill="#4480ff"/>
<rect x="511.68" y="501.77" width="9.80" height="9.89" fill="#2130ff"/>
<rect x="521.48" y="501.77" width="9.80" height="9.89" fill="#8ffcff"/>
<rect x="531.28" y="501.77" width="4.90" height="9.89" fill="#4480ff"/>
<rect x="536.18" y="501.77" width="9.80" height="9.89" fill="#9cf837"/>
<rect x="545.97" y="501.77" width="4.90" height="9.89" fill="#8ffcff"/>
<rect x="550.87" y="501.77" width="4.90" height="9.89" fill="#4480ff"/>
<rect x="555.77" y="501.77" width="14.70" height="9.89" fill="#8ffcff"/>
<rect x="570.47" y="501.77" width="4.90" height="9.89" fill="#9cf837"/>
<rect x="575.36" y="501.77" width="4.90" height="9.89" fill="#4b8220"/>
<rect x="580.26" y="501.77" width="4.90" height="9.89" fill="#76cf33"/>
<rect x="585.16" y="501.77" width="4.90" height="9.89" fill="#fffb33"/>
<rect x="590.06" y="501.77" width="4.90" height="9.89" fill="#76cf33"/>
<rect x="594.96" y="501.77" width="4.90" height="9.89" fill="#4b8220"/>
<rect x="599.86" y="501.77" width="4.90" height="9.89" fill="#eeaa55"/>
<rect x="604.75" y="501.77" width="4.90" height="9.89" fill="#a82202"/>
<rect x="609.65" y="501.77" width="14.70" height="9.89" fill="#e6861e"/>
<rect x="624.35" y="501.77" width="4.90" height="9.89" fill="#714212"/>
<rect x="629.25" y="501.77" width="4.90" height="9.89" fill="#eeaa55"/>
<rect x="634.15" y="501.77" width="14.70" height="9.89" fill="#714212"/>
<rect x="648.84" y="501.77" width="4.90" height="9.89" fill="#eeaa55"/>
<rect x="653.74" y="501.77" width="4.90" height="9.89" fill="#714212"/>
<rect x="658.64" y="501.77" width="4.90" height="9.89" fill="#4b8220"/>
<rect x="663.54" y="501.77" width="4.90" height="9.89" fill="#e6861e"/>
<rect x="668.43" y="501.77" width="4.90" height="9.89" fill="#eeaa55"/>
<rect x="673.33" y="501.77" width="4.90" height="9.89" fill="#9cf837"/>
<rect x="678.23" y="501.77" width="4.90" height="9.89" fill="#a82202"/>
<rect x="683.13" y="501.77" width="9.80" height="9.89" fill="#76cf33"/>
<rect x="692.93" y="501.77" width="4.90" height="9.89" fill="#4b8220"/>
<rect x="697.83" y="501.77" width="4.90" height="9.89" fill="#76cf33"/>
<rect x="702.72" y="501.77" width="9.80" height="9.89" fill="#4b8220"/>
<rect x="712.52" y="501.77" width="4.90" height="9.89" fill="#eeaa55"/>
<rect x="717.42" y="501.77" width="4.90" height="9.89" fill="#fffb33"/>
<rect x="722.32" y="501.77" width="4.90" height="9.89" fill="#714212"/>
<rect x="727.22" y="501.77" width="4.90" height="9.89" fill="#eeaa55"/>
<rect x="732.12" y="501.77" width="44.09" height="9.89" fill="#714212"/>
<rect x="776.20" y="501.77" width="4.90" height="9.89" fill="#4480ff"/>
<rect x="193.28" y="511.66" width="4.90" height="9.89" fill="#111a82"/>
<rect x="207.98" y="511.66" width="4.90" height="9.89" fill="#2130ff"/>
<rect x="237.37" y="511.66" width="4.90" height="9.89" fill="#111a82"/>
<rect x="242.27" y="511.66" width="4.90" height="9.89" fill="#2130ff"/>
<rect x="261.86" y="511.66" width="9.80" height="9.89" fill="#2130ff"/>
<rect x="286.35" y="511.66" width="4.90" height="9.89" fill="#2130ff"/>
<rect x="291.25" y="511.66" width="9.80" height="9.89" fill="#111a82"/>
<rect x="315.74" y="511.66" width="4.90" height="9.89" fill="#111a82"/>
<rect x="335.34" y="511.66" width="4.90" height="9.89" fill="#111a82"/>
<rect x="345.13" y="511.66" width="4.90" height="9.89" fill="#2130ff"/>
<rect x="350.03" y="511.66" width="4.90" height="9.89" fill="#111a82"/>
<rect x="354.93" y="511.66" width="4.90" height="9.89" fill="#4480ff"/>
<rect x="359.83" y="511.66" width="4.90" height="9.89" fill="#2130ff"/>
<rect x="369.63" y="511.66" width="4.90" height="9.89" fill="#2130ff"/>
<rect x="384.32" y="511.66" width="4.90" height="9.89" fill="#111a82"/>
<rect x="389.22" y="511.66" width="14.70" height="9.89" fill="#2130ff"/>
<rect x="403.92" y="511.66" width="9.80" height="9.89" fill="#111a82"/>
<rect x="413.71" y="511.66" width="24.49" height="9.89" fill="#2130ff"/>
<rect x="438.21" y="511.66" width="9.80" height="9.89" fill="#4480ff"/>
<rect x="448.00" y="511.66" width="29.39" height="9.89" fill="#2130ff"/>
<rect x="477.39" y="511.66" width="4.90" height="9.89" fill="#111a82"/>
<rect x="482.29" y="511.66" width="4.90" height="9.89" fill="#2130ff"/>
<rect x="487.19" y="511.66" width="4.90" height="9.89" fill="#111a82"/>
<rect x="492.09" y="511.66" width="9.80" height="9.89" fill="#2130ff"/>
<rect x="501.89" y="511.66" width="4.90" height="9.89" fill="#8ffcff"/>
<rect x="506.78" y="511.66" width="4.90" height="9.89" fill="#4480ff"/>
<rect x="511.68" y="511.66" width="4.90" height="9.89" fill="#2130ff"/>
<rect x="516.58" y="511.66" width="4.90" height="9.89" fill="#4480ff"/>
<rect x="521.48" y="511.66" width="4.90" height="9.89" fill="#8ffcff"/>
<rect x="526.38" y="511.66" width="4.90" height="9.89" fill="#9cf837"/>
<rect x="531.28" y="511.66" width="4.90" height="9.89" fill="#8ffcff"/>
<rect x="536.18" y="511.66" width="4.90" height="9.89" fill="#4b8220"/>
<rect x="541.07" y="511.66" width="4.90" height="9.89" fill="#4480ff"/>
<rect x="545.97" y="511.66" width="4.90" height="9.89" fill="#2130ff"/>
<rect x="550.87" y="511.66" width="4.90" height="9.89" fill="#8ffcff"/>
<rect x="555.77" y="511.66" width="14.70" height="9.89" fill="#76cf33"/>
<rect x="570.47" y="511.66" width="4.90" height="9.89" fill="#4b8220"/>
<rect x="575.36" y="511.66" width="9.80" height="9.89" fill="#9cf837"/>
<rect x="585.16" y="511.66" width="4.90" height="9.89" fill="#4b8220"/>
<rect x="590.06" y="511.66" width="4.90" height="9.89" fill="#fffb33"/>
<rect x="594.96" y="511.66" width="4.90" height="9.89" fill="#eeaa55"/>
<rect x="599.86" y="511.66" width="4.90" height="9.89" fill="#a82202"/>
<rect x="604.75" y="511.66" width="4.90" height="9.89" fill="#e6861e"/>
<rect x="609.65" y="511.66" width="4.90" height="9.89" fill="#eeaa55"/>
<rect x="614.55" y="511.66" width="4.90" height="9.89" fill="#714212"/>
<rect x="619.45" y="511.66" width="4.90" height="9.89" fill="#e6861e"/>
<rect x="624.35" y="511.66" width="9.80" height="9.89" fill="#a82202"/>
<rect x="634.15" y="511.66" width="9.80" height="9.89" fill="#714212"/>
<rect x="643.94" y="511.66" width="4.90" height="9.89" fill="#e6861e"/>
<rect x="648.84" y="511.66" width="4.90" height="9.89" fill="#714212"/>
<rect x="653.74" y="511.66" width="4.90" height="9.89" fill="#fffb33"/>
<rect x="658.64" y="511.66" width="4.90" height="9.89" fill="#eeaa55"/>
<rect x="663.54" y="511.66" width="4.90" height="9.89" fill="#e6861e"/>
<rect x="668.43" y="511.66" width="4.90" height="9.89" fill="#9cf837"/>
<rect x="673.33" y="511.66" width="4.90" height="9.89" fill="#fffb33"/>
<rect x="678.23" y="511.66" width="4.90" height="9.89" fill="#9cf837"/>
<rect x="683.13" y="511.66" width="4.90" height="9.89" fill="#4b8220"/>
<rect x="688.03" y="511.66" width="4.90" height="9.89" fill="#eeaa55"/>
<rect x="692.93" y="511.66" width="4.90" height="9.89" fill="#4b8220"/>
<rect x="697.83" y="511.66" width="4.90" height="9.89" fill="#fffb33"/>
<rect x="702.72" y="511.66" width="4.90" height="9.89" fill="#76cf33"/>
<rect x="707.62" y="511.66" width="4.90" height="9.89" fill="#e6861e"/>
<rect x="712.52" y="511.66" width="4.90" height="9.89" fill="#eeaa55"/>
<rect x="717.42" y="511.66" width="4.90" height="9.89" fill="#e6861e"/>
<rect x="722.32" y="511.66" width="4.90" height="9.89" fill="#eeaa55"/>
<rect x="727.22" y="511.66" width="48.98" height="9.89" fill="#714212"/>
<rect x="776.20" y="511.66" width="4.90" height="9.89" fill="#2130ff"/>
<rect x="158.99" y="521.54" width="4.90" height="9.89" fill="#2130ff"/>
<rect x="188.38" y="521.54" width="4.90" height="9.89" fill="#111a82"/>
<rect x="203.08" y="521.54" width="4.90" height="9.89" fill="#2130ff"/>
<rect x="222.67" y="521.54" width="4.90" height="9.89" fill="#111a82"/>
<rect x="232.47" y="521.54" width="4.90" height="9.89" fill="#111a82"/>
<rect x="247.17" y="521.54" width="4.90" height="9.89" fill="#111a82"/>
<rect x="256.96" y="521.54" width="4.90" height="9.89" fill="#111a82"/>
<rect x="281.45" y="521.54" width="4.90" height="9.89" fill="#2130ff"/>
<rect x="296.15" y="521.54" width="4.90" height="9.89" fill="#111a82"/>
<rect x="315.74" y="521.54" width="9.80" height="9.89" fill="#111a82"/>
<rect x="335.34" y="521.54" width="24.49" height="9.89" fill="#2130ff"/>
<rect x="364.73" y="521.54" width="4.90" height="9.89" fill="#2130ff"/>
<rect x="369.63" y="521.54" width="14.70" height="9.89" fill="#111a82"/>
<rect x="389.22" y="521.54" width="4.90" height="9.89" fill="#4480ff"/>
<rect x="394.12" y="521.54" width="14.70" height="9.89" fill="#2130ff"/>
<rect x="408.82" y="521.54" width="4.90" height="9.89" fill="#4480ff"/>
<rect x="413.71" y="521.54" width="9.80" height="9.89" fill="#2130ff"/>
<rect x="423.51" y="521.54" width="4.90" height="9.89" fill="#4480ff"/>
<rect x="428.41" y="521.54" width="4.90" height="9.89" fill="#2130ff"/>
<rect x="433.31" y="521.54" width="4.90" height="9.89" fill="#4480ff"/>
<rect x="443.10" y="521.54" width="4.90" height="9.89" fill="#2130ff"/>
<rect x="448.00" y="521.54" width="4.90" height="9.89" fill="#4480ff"/>
<rect x="452.90" y="521.54" width="14.70" height="9.89" fill="#2130ff"/>
<rect x="467.60" y="521.54" width="4.90" height="9.89" fill="#4480ff"/>
<rect x="472.50" y="521.54" width="4.90" height="9.89" fill="#111a82"/>
<rect x="477.39" y="521.54" width="4.90" height="9.89" fill="#8ffcff"/>
<rect x="487.19" y="521.54" width="4.90" height="9.89" fill="#111a82"/>
<rect x="492.09" y="521.54" width="4.90" height="9.89" fill="#2130ff"/>
<rect x="496.99" y="521.54" width="4.90" height="9.89" fill="#8ffcff"/>
<rect x="501.89" y="521.54" width="4.90" height="9.89" fill="#2130ff"/>
<rect x="506.78" y="521.54" width="4.90" height="9.89" fill="#4480ff"/>
<rect x="511.68" y="521.54" width="4.90" height="9.89" fill="#8ffcff"/>
<rect x="516.58" y="521.54" width="9.80" height="9.89" fill="#4480ff"/>
<rect x="526.38" y="521.54" width="4.90" height="9.89" fill="#8ffcff"/>
<rect x="531.28" y="521.54" width="4.90" height="9.89" fill="#76cf33"/>
<rect x="536.18" y="521.54" width="14.70" height="9.89" fill="#9cf837"/>
<rect x="550.87" y="521.54" width="9.80" height="9.89" fill="#76cf33"/>
<rect x="560.67" y="521.54" width="4.90" height="9.89" fill="#fffb33"/>
<rect x="565.57" y="521.54" width="4.90" height="9.89" fill="#76cf33"/>
<rect x="570.47" y="521.54" width="4.90" height="9.89" fill="#8ffcff"/>
<rect x="575.36" y="521.54" width="4.90" height="9.89" fill="#76cf33"/>
<rect x="580.26" y="521.54" width="4.90" height="9.89" fill="#e6861e"/>
<rect x="585.16" y="521.54" width="4.90" height="9.89" fill="#fffb33"/>
<rect x="590.06" y="521.54" width="4.90" height="9.89" fill="#e6861e"/>
<rect x="594.96" y="521.54" width="9.80" height="9.89" fill="#714212"/>
<rect x="604.75" y="521.54" width="4.90" height="9.89" fill="#a82202"/>
<rect x="609.65" y="521.54" width="4.90" height="9.89" fill="#714212"/>
<rect x="614.55" y="521.54" width="4.90" height="9.89" fill="#e6861e"/>
<rect x="619.45" y="521.54" width="4.90" height="9.89" fill="#714212"/>
<rect x="624.35" y="521.54" width="4.90" height="9.89" fill="#a82202"/>
<rect x="629.25" y="521.54" width="9.80" height="9.89" fill="#714212"/>
<rect x="639.04" y="521.54" width="4.90" height="9.89" fill="#fffb33"/>
<rect x="643.94" y="521.54" width="4.90" height="9.89" fill="#714212"/>
<rect x="648.84" y="521.54" width="4.90" height="9.89" fill="#76cf33"/>
<rect x="653.74" y="521.54" width="4.90" height="9.89" fill="#fffb33"/>
<rect x="658.64" y="521.54" width="4.90" height="9.89" fill="#eeaa55"/>
<rect x="663.54" y="521.54" width="4.90" height="9.89" fill="#4b8220"/>
<rect x="668.43" y="521.54" width="4.90" height="9.89" fill="#e6861e"/>
<rect x="673.33" y="521.54" width="4.90" height="9.89" fill="#fffb33"/>
<rect x="678.23" y="521.54" width="4.90" height="9.89" fill="#eeaa55"/>
<rect x="683.13" y="521.54" width="19.59" height="9.89" fill="#4b8220"/>
<rect x="702.72" y="521.54" width="4.90" height="9.89" fill="#714212"/>
<rect x="707.62" y="521.54" width="4.90" height="9.89" fill="#e6861e"/>
<rect x="712.52" y="521.54" width="4.90" height="9.89" fill="#a82202"/>
<rect x="717.42" y="521.54" width="4.90" height="9.89" fill="#eeaa55"/>
<rect x="722.32" y="521.54" width="4.90" height="9.89" fill="#e6861e"/>
<rect x="727.22" y="521.54" width="48.98" height="9.89" fill="#714212"/>
<rect x="776.20" y="521.54" width="4.90" height="9.89" fill="#8ffcff"/>
<rect x="183.48" y="531.43" width="4.90" height="9.89" fill="#111a82"/>
<rect x="203.08" y="531.43" width="4.90" height="9.89" fill="#111a82"/>
<rect x="227.57" y="531.43" width="9.80" height="9.89" fill="#2130ff"/>
<rect x="247.17" y="531.43" width="9.80" height="9.89" fill="#2130ff"/>
<rect x="256.96" y="531.43" width="4.90" height="9.89" fill="#111a82"/>
<rect x="276.56" y="531.43" width="4.90" height="9.89" fill="#2130ff"/>
<rect x="281.45" y="531.43" width="9.80" height="9.89" fill="#111a82"/>
<rect x="301.05" y="531.43" width="4.90" height="9.89" fill="#111a82"/>
<rect x="335.34" y="531.43" width="19.59" height="9.89" fill="#2130ff"/>
<rect x="354.93" y="531.43" width="9.80" height="9.89" fill="#111a82"/>
<rect x="369.63" y="531.43" width="48.98" height="9.89" fill="#2130ff"/>
<rect x="418.61" y="531.43" width="4.90" height="9.89" fill="#4480ff"/>
<rect x="423.51" y="531.43" width="14.70" height="9.89" fill="#2130ff"/>
<rect x="438.21" y="531.43" width="4.90" height="9.89" fill="#111a82"/>
<rect x="443.10" y="531.43" width="4.90" height="9.89" fill="#4480ff"/>
<rect x="448.00" y="531.43" width="4.90" height="9.89" fill="#111a82"/>
<rect x="452.90" y="531.43" width="4.90" height="9.89" fill="#2130ff"/>
<rect x="462.70" y="531.43" width="14.70" height="9.89" fill="#2130ff"/>
<rect x="487.19" y="531.43" width="4.90" height="9.89" fill="#2130ff"/>
<rect x="492.09" y="531.43" width="4.90" height="9.89" fill="#8ffcff"/>
<rect x="496.99" y="531.43" width="4.90" height="9.89" fill="#2130ff"/>
<rect x="501.89" y="531.43" width="9.80" height="9.89" fill="#4480ff"/>
<rect x="511.68" y="531.43" width="9.80" height="9.89" fill="#9cf837"/>
<rect x="521.48" y="531.43" width="9.80" height="9.89" fill="#76cf33"/>
<rect x="531.28" y="531.43" width="4.90" height="9.89" fill="#2130ff"/>
<rect x="536.18" y="531.43" width="4.90" height="9.89" fill="#8ffcff"/>
<rect x="541.07" y="531.43" width="4.90" height="9.89" fill="#4480ff"/>
<rect x="545.97" y="531.43" width="4.90" height="9.89" fill="#9cf837"/>
<rect x="550.87" y="531.43" width="4.90" height="9.89" fill="#4b8220"/>
<rect x="555.77" y="531.43" width="4.90" height="9.89" fill="#76cf33"/>
<rect x="560.67" y="531.43" width="4.90" height="9.89" fill="#fffb33"/>
<rect x="565.57" y="531.43" width="4.90" height="9.89" fill="#9cf837"/>
<rect x="570.47" y="531.43" width="4.90" height="9.89" fill="#76cf33"/>
<rect x="575.36" y="531.43" width="4.90" height="9.89" fill="#e6861e"/>
<rect x="580.26" y="531.43" width="4.90" height="9.89" fill="#eeaa55"/>
<rect x="585.16" y="531.43" width="9.80" height="9.89" fill="#e6861e"/>
<rect x="594.96" y="531.43" width="14.70" height="9.89" fill="#714212"/>
<rect x="609.65" y="531.43" width="4.90" height="9.89" fill="#a82202"/>
<rect x="614.55" y="531.43" width="19.59" height="9.89" fill="#714212"/>
<rect x="634.15" y="531.43" width="4.90" height="9.89" fill="#eeaa55"/>
<rect x="639.04" y="531.43" width="4.90" height="9.89" fill="#e6861e"/>
<rect x="643.94" y="531.43" width="4.90" height="9.89" fill="#eeaa55"/>
<rect x="648.84" y="531.43" width="4.90" height="9.89" fill="#76cf33"/>
<rect x="653.74" y="531.43" width="4.90" height="9.89" fill="#e6861e"/>
<rect x="658.64" y="531.43" width="4.90" height="9.89" fill="#76cf33"/>
<rect x="663.54" y="531.43" width="4.90" height="9.89" fill="#eeaa55"/>
<rect x="668.43" y="531.43" width="4.90" height="9.89" fill="#4b8220"/>
<rect x="673.33" y="531.43" width="4.90" height="9.89" fill="#eeaa55"/>
<rect x="678.23" y="531.43" width="9.80" height="9.89" fill="#e6861e"/>
<rect x="688.03" y="531.43" width="4.90" height="9.89" fill="#4b8220"/>
<rect x="692.93" y="531.43" width="4.90" height="9.89" fill="#fffb33"/>
<rect x="697.83" y="531.43" width="9.80" height="9.89" fill="#714212"/>
<rect x="707.62" y="531.43" width="4.90" height="9.89" fill="#e6861e"/>
<rect x="712.52" y="531.43" width="63.68" height="9.89" fill="#714212"/>
<rect x="776.20" y="531.43" width="4.90" height="9.89" fill="#4480ff"/>
<rect x="154.09" y="541.32" width="4.90" height="9.89" fill="#111a82"/>
<rect x="193.28" y="541.32" width="4.90" height="9.89" fill="#111a82"/>
<rect x="222.67" y="541.32" width="4.90" height="9.89" fill="#111a82"/>
<rect x="237.37" y="541.32" width="14.70" height="9.89" fill="#2130ff"/>
<rect x="252.06" y="541.32" width="4.90" height="9.89" fill="#111a82"/>
<rect x="276.56" y="541.32" width="4.90" height="9.89" fill="#111a82"/>
<rect x="281.45" y="541.32" width="4.90" height="9.89" fill="#2130ff"/>
<rect x="286.35" y="541.32" width="4.90" height="9.89" fill="#111a82"/>
<rect x="296.15" y="541.32" width="9.80" height="9.89" fill="#111a82"/>
<rect x="310.85" y="541.32" width="4.90" height="9.89" fill="#111a82"/>
<rect x="320.64" y="541.32" width="4.90" height="9.89" fill="#111a82"/>
<rect x="340.24" y="541.32" width="4.90" height="9.89" fill="#4480ff"/>
<rect x="345.13" y="541.32" width="4.90" height="9.89" fill="#2130ff"/>
<rect x="354.93" y="541.32" width="4.90" height="9.89" fill="#111a82"/>
<rect x="364.73" y="541.32" width="4.90" height="9.89" fill="#111a82"/>
<rect x="374.53" y="541.32" width="4.90" height="9.89" fill="#2130ff"/>
<rect x="379.42" y="541.32" width="4.90" height="9.89" fill="#4480ff"/>
<rect x="384.32" y="541.32" width="4.90" height="9.89" fill="#2130ff"/>
<rect x="389.22" y="541.32" width="9.80" height="9.89" fill="#4480ff"/>
<rect x="399.02" y="541.32" width="14.70" height="9.89" fill="#2130ff"/>
<rect x="413.71" y="541.32" width="4.90" height="9.89" fill="#4480ff"/>
<rect x="418.61" y="541.32" width="4.90" height="9.89" fill="#2130ff"/>
<rect x="423.51" y="541.32" width="4.90" height="9.89" fill="#4480ff"/>
<rect x="428.41" y="541.32" width="9.80" height="9.89" fill="#2130ff"/>
<rect x="438.21" y="541.32" width="4.90" height="9.89" fill="#4480ff"/>
<rect x="443.10" y="541.32" width="4.90" height="9.89" fill="#2130ff"/>
<rect x="448.00" y="541.32" width="4.90" height="9.89" fill="#4480ff"/>
<rect x="452.90" y="541.32" width="4.90" height="9.89" fill="#111a82"/>
<rect x="457.80" y="541.32" width="4.90" height="9.89" fill="#2130ff"/>
<rect x="462.70" y="541.32" width="4.90" height="9.89" fill="#111a82"/>
<rect x="467.60" y="541.32" width="4.90" height="9.89" fill="#2130ff"/>
<rect x="477.39" y="541.32" width="9.80" height="9.89" fill="#2130ff"/>
<rect x="487.19" y="541.32" width="9.80" height="9.89" fill="#4480ff"/>
<rect x="496.99" y="541.32" width="4.90" height="9.89" fill="#8ffcff"/>
<rect x="501.89" y="541.32" width="4.90" height="9.89" fill="#4480ff"/>
<rect x="506.78" y="541.32" width="9.80" height="9.89" fill="#8ffcff"/>
<rect x="516.58" y="541.32" width="9.80" height="9.89" fill="#9cf837"/>
<rect x="526.38" y="541.32" width="4.90" height="9.89" fill="#4480ff"/>
<rect x="531.28" y="541.32" width="9.80" height="9.89" fill="#8ffcff"/>
<rect x="541.07" y="541.32" width="4.90" height="9.89" fill="#76cf33"/>
<rect x="545.97" y="541.32" width="9.80" height="9.89" fill="#4b8220"/>
<rect x="555.77" y="541.32" width="4.90" height="9.89" fill="#eeaa55"/>
<rect x="560.67" y="541.32" width="9.80" height="9.89" fill="#76cf33"/>
<rect x="570.47" y="541.32" width="4.90" height="9.89" fill="#fffb33"/>
<rect x="575.36" y="541.32" width="4.90" height="9.89" fill="#4b8220"/>
<rect x="580.26" y="541.32" width="48.98" height="9.89" fill="#714212"/>
<rect x="629.25" y="541.32" width="4.90" height="9.89" fill="#fffb33"/>
<rect x="634.15" y="541.32" width="4.90" height="9.89" fill="#a82202"/>
<rect x="639.04" y="541.32" width="4.90" height="9.89" fill="#e6861e"/>
<rect x="643.94" y="541.32" width="4.90" height="9.89" fill="#76cf33"/>
<rect x="648.84" y="541.32" width="4.90" height="9.89" fill="#e6861e"/>
<rect x="653.74" y="541.32" width="4.90" height="9.89" fill="#fffb33"/>
<rect x="658.64" y="541.32" width="4.90" height="9.89" fill="#e6861e"/>
<rect x="663.54" y="541.32" width="4.90" height="9.89" fill="#a82202"/>
<rect x="668.43" y="541.32" width="4.90" height="9.89" fill="#fffb33"/>
<rect x="673.33" y="541.32" width="9.80" height="9.89" fill="#eeaa55"/>
<rect x="683.13" y="541.32" width="4.90" height="9.89" fill="#4b8220"/>
<rect x="688.03" y="541.32" width="4.90" height="9.89" fill="#76cf33"/>
<rect x="692.93" y="541.32" width="9.80" height="9.89" fill="#e6861e"/>
<rect x="702.72" y="541.32" width="4.90" height="9.89" fill="#714212"/>
<rect x="707.62" y="541.32" width="4.90" height="9.89" fill="#a82202"/>
<rect x="712.52" y="541.32" width="58.78" height="9.89" fill="#714212"/>
<rect x="771.30" y="541.32" width="4.90" height="9.89" fill="#eeaa55"/>
<rect x="776.20" y="541.32" width="4.90" height="9.89" fill="#2130ff"/>
<rect x="149.20" y="551.20" width="4.90" height="9.89" fill="#111a82"/>
<rect x="188.38" y="551.20" width="4.90" height="9.89" fill="#111a82"/>
<rect x="237.37" y="551.20" width="4.90" height="9.89" fill="#2130ff"/>
<rect x="266.76" y="551.20" width="4.90" height="9.89" fill="#111a82"/>
<rect x="305.95" y="551.20" width="4.90" height="9.89" fill="#111a82"/>
<rect x="310.85" y="551.20" width="4.90" height="9.89" fill="#2130ff"/>
<rect x="315.74" y="551.20" width="4.90" height="9.89" fill="#111a82"/>
<rect x="330.44" y="551.20" width="4.90" height="9.89" fill="#111a82"/>
<rect x="335.34" y="551.20" width="4.90" height="9.89" fill="#8ffcff"/>
<rect x="340.24" y="551.20" width="4.90" height="9.89" fill="#2130ff"/>
<rect x="354.93" y="551.20" width="9.80" height="9.89" fill="#111a82"/>
<rect x="364.73" y="551.20" width="9.80" height="9.89" fill="#2130ff"/>
<rect x="374.53" y="551.20" width="4.90" height="9.89" fill="#4480ff"/>
<rect x="379.42" y="551.20" width="14.70" height="9.89" fill="#2130ff"/>
<rect x="394.12" y="551.20" width="4.90" height="9.89" fill="#8ffcff"/>
<rect x="399.02" y="551.20" width="9.80" height="9.89" fill="#2130ff"/>
<rect x="408.82" y="551.20" width="4.90" height="9.89" fill="#8ffcff"/>
<rect x="413.71" y="551.20" width="4.90" height="9.89" fill="#4480ff"/>
<rect x="418.61" y="551.20" width="14.70" height="9.89" fill="#2130ff"/>
<rect x="433.31" y="551.20" width="4.90" height="9.89" fill="#111a82"/>
<rect x="438.21" y="551.20" width="9.80" height="9.89" fill="#2130ff"/>
<rect x="452.90" y="551.20" width="24.49" height="9.89" fill="#2130ff"/>
<rect x="477.39" y="551.20" width="14.70" height="9.89" fill="#4480ff"/>
<rect x="492.09" y="551.20" width="4.90" height="9.89" fill="#9cf837"/>
<rect x="496.99" y="551.20" width="4.90" height="9.89" fill="#4480ff"/>
<rect x="501.89" y="551.20" width="14.70" height="9.89" fill="#9cf837"/>
<rect x="516.58" y="551.20" width="4.90" height="9.89" fill="#76cf33"/>
<rect x="521.48" y="551.20" width="4.90" height="9.89" fill="#9cf837"/>
<rect x="526.38" y="551.20" width="9.80" height="9.89" fill="#8ffcff"/>
<rect x="536.18" y="551.20" width="4.90" height="9.89" fill="#76cf33"/>
<rect x="541.07" y="551.20" width="4.90" height="9.89" fill="#9cf837"/>
<rect x="545.97" y="551.20" width="14.70" height="9.89" fill="#4b8220"/>
<rect x="560.67" y="551.20" width="4.90" height="9.89" fill="#fffb33"/>
<rect x="565.57" y="551.20" width="4.90" height="9.89" fill="#714212"/>
<rect x="570.47" y="551.20" width="4.90" height="9.89" fill="#eeaa55"/>
<rect x="575.36" y="551.20" width="4.90" height="9.89" fill="#e6861e"/>
<rect x="580.26" y="551.20" width="44.09" height="9.89" fill="#714212"/>
<rect x="624.35" y="551.20" width="4.90" height="9.89" fill="#4b8220"/>
<rect x="629.25" y="551.20" width="4.90" height="9.89" fill="#e6861e"/>
<rect x="634.15" y="551.20" width="9.80" height="9.89" fill="#eeaa55"/>
<rect x="643.94" y="551.20" width="4.90" height="9.89" fill="#fffb33"/>
<rect x="648.84" y="551.20" width="4.90" height="9.89" fill="#4b8220"/>
<rect x="653.74" y="551.20" width="9.80" height="9.89" fill="#e6861e"/>
<rect x="663.54" y="551.20" width="4.90" height="9.89" fill="#a82202"/>
<rect x="668.43" y="551.20" width="9.80" height="9.89" fill="#fffb33"/>
<rect x="678.23" y="551.20" width="9.80" height="9.89" fill="#eeaa55"/>
<rect x="688.03" y="551.20" width="4.90" height="9.89" fill="#714212"/>
<rect x="692.93" y="551.20" width="4.90" height="9.89" fill="#eeaa55"/>
<rect x="697.83" y="551.20" width="9.80" height="9.89" fill="#e6861e"/>
<rect x="707.62" y="551.20" width="4.90" height="9.89" fill="#a82202"/>
<rect x="712.52" y="551.20" width="58.78" height="9.89" fill="#714212"/>
<rect x="771.30" y="551.20" width="4.90" height="9.89" fill="#9cf837"/>
<rect x="144.30" y="561.09" width="4.90" height="9.89" fill="#2130ff"/>
<rect x="168.79" y="561.09" width="4.90" height="9.89" fill="#2130ff"/>
<rect x="212.88" y="561.09" width="4.90" height="9.89" fill="#111a82"/>
<rect x="222.67" y="561.09" width="24.49" height="9.89" fill="#2130ff"/>
<rect x="261.86" y="561.09" width="4.90" height="9.89" fill="#111a82"/>
<rect x="276.56" y="561.09" width="4.90" height="9.89" fill="#111a82"/>
<rect x="296.15" y="561.09" width="4.90" height="9.89" fill="#111a82"/>
<rect x="310.85" y="561.09" width="4.90" height="9.89" fill="#2130ff"/>
<rect x="320.64" y="561.09" width="4.90" height="9.89" fill="#2130ff"/>
<rect x="325.54" y="561.09" width="4.90" height="9.89" fill="#111a82"/>
<rect x="330.44" y="561.09" width="9.80" height="9.89" fill="#2130ff"/>
<rect x="340.24" y="561.09" width="4.90" height="9.89" fill="#111a82"/>
<rect x="354.93" y="561.09" width="4.90" height="9.89" fill="#111a82"/>
<rect x="359.83" y="561.09" width="9.80" height="9.89" fill="#2130ff"/>
<rect x="369.63" y="561.09" width="4.90" height="9.89" fill="#4480ff"/>
<rect x="374.53" y="561.09" width="4.90" height="9.89" fill="#2130ff"/>
<rect x="379.42" y="561.09" width="4.90" height="9.89" fill="#4480ff"/>
<rect x="384.32" y="561.09" width="9.80" height="9.89" fill="#2130ff"/>
<rect x="394.12" y="561.09" width="4.90" height="9.89" fill="#111a82"/>
<rect x="399.02" y="561.09" width="14.70" height="9.89" fill="#2130ff"/>
<rect x="413.71" y="561.09" width="4.90" height="9.89" fill="#4480ff"/>
<rect x="418.61" y="561.09" width="4.90" height="9.89" fill="#8ffcff"/>
<rect x="423.51" y="561.09" width="4.90" height="9.89" fill="#2130ff"/>
<rect x="428.41" y="561.09" width="4.90" height="9.89" fill="#4480ff"/>
<rect x="433.31" y="561.09" width="4.90" height="9.89" fill="#2130ff"/>
<rect x="438.21" y="561.09" width="4.90" height="9.89" fill="#4480ff"/>
<rect x="448.00" y="561.09" width="4.90" height="9.89" fill="#2130ff"/>
<rect x="457.80" y="561.09" width="9.80" height="9.89" fill="#2130ff"/>
<rect x="472.50" y="561.09" width="9.80" height="9.89" fill="#2130ff"/>
<rect x="482.29" y="561.09" width="4.90" height="9.89" fill="#4480ff"/>
<rect x="487.19" y="561.09" width="14.70" height="9.89" fill="#8ffcff"/>
<rect x="501.89" y="561.09" width="4.90" height="9.89" fill="#9cf837"/>
<rect x="506.78" y="561.09" width="4.90" height="9.89" fill="#76cf33"/>
<rect x="511.68" y="561.09" width="4.90" height="9.89" fill="#9cf837"/>
<rect x="516.58" y="561.09" width="4.90" height="9.89" fill="#4480ff"/>
<rect x="521.48" y="561.09" width="4.90" height="9.89" fill="#9cf837"/>
<rect x="526.38" y="561.09" width="4.90" height="9.89" fill="#76cf33"/>
<rect x="531.28" y="561.09" width="4.90" height="9.89" fill="#fffb33"/>
<rect x="536.18" y="561.09" width="4.90" height="9.89" fill="#76cf33"/>
<rect x="541.07" y="561.09" width="4.90" height="9.89" fill="#4b8220"/>
<rect x="545.97" y="561.09" width="4.90" height="9.89" fill="#fffb33"/>
<rect x="550.87" y="561.09" width="4.90" height="9.89" fill="#76cf33"/>
<rect x="555.77" y="561.09" width="4.90" height="9.89" fill="#4b8220"/>
<rect x="560.67" y="561.09" width="4.90" height="9.89" fill="#e6861e"/>
<rect x="565.57" y="561.09" width="4.90" height="9.89" fill="#a82202"/>
<rect x="570.47" y="561.09" width="4.90" height="9.89" fill="#714212"/>
<rect x="575.36" y="561.09" width="4.90" height="9.89" fill="#eeaa55"/>
<rect x="580.26" y="561.09" width="9.80" height="9.89" fill="#714212"/>
<rect x="590.06" y="561.09" width="4.90" height="9.89" fill="#a82202"/>
<rect x="594.96" y="561.09" width="19.59" height="9.89" fill="#714212"/>
<rect x="614.55" y="561.09" width="4.90" height="9.89" fill="#a82202"/>
<rect x="619.45" y="561.09" width="4.90" height="9.89" fill="#fffb33"/>
<rect x="624.35" y="561.09" width="4.90" height="9.89" fill="#e6861e"/>
<rect x="629.25" y="561.09" width="4.90" height="9.89" fill="#fffb33"/>
<rect x="634.15" y="561.09" width="4.90" height="9.89" fill="#76cf33"/>
<rect x="639.04" y="561.09" width="9.80" height="9.89" fill="#eeaa55"/>
<rect x="648.84" y="561.09" width="4.90" height="9.89" fill="#a82202"/>
<rect x="653.74" y="561.09" width="9.80" height="9.89" fill="#e6861e"/>
<rect x="663.54" y="561.09" width="9.80" height="9.89" fill="#eeaa55"/>
<rect x="673.33" y="561.09" width="9.80" height="9.89" fill="#fffb33"/>
<rect x="683.13" y="561.09" width="4.90" height="9.89" fill="#e6861e"/>
<rect x="688.03" y="561.09" width="4.90" height="9.89" fill="#a82202"/>
<rect x="692.93" y="561.09" width="9.80" height="9.89" fill="#eeaa55"/>
<rect x="702.72" y="561.09" width="4.90" height="9.89" fill="#e6861e"/>
<rect x="707.62" y="561.09" width="53.88" height="9.89" fill="#714212"/>
<rect x="761.51" y="561.09" width="4.90" height="9.89" fill="#a82202"/>
<rect x="766.40" y="561.09" width="4.90" height="9.89" fill="#8ffcff"/>
<rect x="163.89" y="570.98" width="4.90" height="9.89" fill="#2130ff"/>
<rect x="178.59" y="570.98" width="4.90" height="9.89" fill="#111a82"/>
<rect x="207.98" y="570.98" width="4.90" height="9.89" fill="#111a82"/>
<rect x="222.67" y="570.98" width="4.90" height="9.89" fill="#2130ff"/>
<rect x="232.47" y="570.98" width="4.90" height="9.89" fill="#2130ff"/>
<rect x="271.66" y="570.98" width="4.90" height="9.89" fill="#111a82"/>
<rect x="281.45" y="570.98" width="4.90" height="9.89" fill="#111a82"/>
<rect x="291.25" y="570.98" width="4.90" height="9.89" fill="#111a82"/>
<rect x="315.74" y="570.98" width="4.90" height="9.89" fill="#2130ff"/>
<rect x="325.54" y="570.98" width="4.90" height="9.89" fill="#2130ff"/>
<rect x="330.44" y="570.98" width="4.90" height="9.89" fill="#111a82"/>
<rect x="335.34" y="570.98" width="4.90" height="9.89" fill="#2130ff"/>
<rect x="354.93" y="570.98" width="4.90" height="9.89" fill="#111a82"/>
<rect x="359.83" y="570.98" width="4.90" height="9.89" fill="#2130ff"/>
<rect x="364.73" y="570.98" width="4.90" height="9.89" fill="#4480ff"/>
<rect x="369.63" y="570.98" width="4.90" height="9.89" fill="#2130ff"/>
<rect x="374.53" y="570.98" width="19.59" height="9.89" fill="#4480ff"/>
<rect x="394.12" y="570.98" width="4.90" height="9.89" fill="#2130ff"/>
<rect x="399.02" y="570.98" width="4.90" height="9.89" fill="#4480ff"/>
<rect x="403.92" y="570.98" width="4.90" height="9.89" fill="#2130ff"/>
<rect x="408.82" y="570.98" width="4.90" height="9.89" fill="#8ffcff"/>
<rect x="413.71" y="570.98" width="4.90" height="9.89" fill="#4480ff"/>
<rect x="418.61" y="570.98" width="4.90" height="9.89" fill="#8ffcff"/>
<rect x="423.51" y="570.98" width="14.70" height="9.89" fill="#2130ff"/>
<rect x="438.21" y="570.98" width="9.80" height="9.89" fill="#4480ff"/>
<rect x="448.00" y="570.98" width="4.90" height="9.89" fill="#111a82"/>
<rect x="452.90" y="570.98" width="4.90" height="9.89" fill="#4480ff"/>
<rect x="457.80" y="570.98" width="9.80" height="9.89" fill="#111a82"/>
<rect x="467.60" y="570.98" width="4.90" height="9.89" fill="#2130ff"/>
<rect x="472.50" y="570.98" width="14.70" height="9.89" fill="#4480ff"/>
<rect x="487.19" y="570.98" width="4.90" height="9.89" fill="#2130ff"/>
<rect x="492.09" y="570.98" width="4.90" height="9.89" fill="#9cf837"/>
<rect x="496.99" y="570.98" width="4.90" height="9.89" fill="#8ffcff"/>
<rect x="501.89" y="570.98" width="4.90" height="9.89" fill="#9cf837"/>
<rect x="506.78" y="570.98" width="4.90" height="9.89" fill="#8ffcff"/>
<rect x="511.68" y="570.98" width="9.80" height="9.89" fill="#4480ff"/>
<rect x="521.48" y="570.98" width="4.90" height="9.89" fill="#8ffcff"/>
<rect x="526.38" y="570.98" width="9.80" height="9.89" fill="#9cf837"/>
<rect x="536.18" y="570.98" width="4.90" height="9.89" fill="#4b8220"/>
<rect x="541.07" y="570.98" width="4.90" height="9.89" fill="#eeaa55"/>
<rect x="545.97" y="570.98" width="4.90" height="9.89" fill="#76cf33"/>
<rect x="550.87" y="570.98" width="4.90" height="9.89" fill="#4b8220"/>
<rect x="555.77" y="570.98" width="4.90" height="9.89" fill="#e6861e"/>
<rect x="560.67" y="570.98" width="4.90" height="9.89" fill="#eeaa55"/>
<rect x="565.57" y="570.98" width="4.90" height="9.89" fill="#fffb33"/>
<rect x="570.47" y="570.98" width="4.90" height="9.89" fill="#a82202"/>
<rect x="575.36" y="570.98" width="9.80" height="9.89" fill="#e6861e"/>
<rect x="585.16" y="570.98" width="4.90" height="9.89" fill="#a82202"/>
<rect x="590.06" y="570.98" width="14.70" height="9.89" fill="#714212"/>
<rect x="604.75" y="570.98" width="9.80" height="9.89" fill="#a82202"/>
<rect x="614.55" y="570.98" width="4.90" height="9.89" fill="#fffb33"/>
<rect x="619.45" y="570.98" width="4.90" height="9.89" fill="#a82202"/>
<rect x="624.35" y="570.98" width="9.80" height="9.89" fill="#76cf33"/>
<rect x="634.15" y="570.98" width="9.80" height="9.89" fill="#9cf837"/>
<rect x="643.94" y="570.98" width="4.90" height="9.89" fill="#fffb33"/>
<rect x="648.84" y="570.98" width="4.90" height="9.89" fill="#4b8220"/>
<rect x="653.74" y="570.98" width="4.90" height="9.89" fill="#fffb33"/>
<rect x="658.64" y="570.98" width="9.80" height="9.89" fill="#4b8220"/>
<rect x="668.43" y="570.98" width="4.90" height="9.89" fill="#9cf837"/>
<rect x="673.33" y="570.98" width="4.90" height="9.89" fill="#76cf33"/>
<rect x="678.23" y="570.98" width="9.80" height="9.89" fill="#fffb33"/>
<rect x="688.03" y="570.98" width="4.90" height="9.89" fill="#a82202"/>
<rect x="692.93" y="570.98" width="4.90" height="9.89" fill="#e6861e"/>
<rect x="697.83" y="570.98" width="4.90" height="9.89" fill="#eeaa55"/>
<rect x="702.72" y="570.98" width="39.19" height="9.89" fill="#714212"/>
<rect x="741.91" y="570.98" width="4.90" height="9.89" fill="#e6861e"/>
<rect x="746.81" y="570.98" width="9.80" height="9.89" fill="#714212"/>
<rect x="756.61" y="570.98" width="4.90" height="9.89" fill="#e6861e"/>
<rect x="761.51" y="570.98" width="4.90" height="9.89" fill="#8ffcff"/>
<rect x="766.40" y="570.98" width="4.90" height="9.89" fill="#111a82"/>
<rect x="139.40" y="580.87" width="4.90" height="9.89" fill="#2130ff"/>
<rect x="149.20" y="580.87" width="4.90" height="9.89" fill="#111a82"/>
<rect x="173.69" y="580.87" width="4.90" height="9.89" fill="#111a82"/>
<rect x="183.48" y="580.87" width="4.90" height="9.89" fill="#111a82"/>
<rect x="207.98" y="580.87" width="4.90" height="9.89" fill="#111a82"/>
<rect x="217.77" y="580.87" width="4.90" height="9.89" fill="#2130ff"/>
<rect x="222.67" y="580.87" width="4.90" height="9.89" fill="#111a82"/>
<rect x="232.47" y="580.87" width="4.90" height="9.89" fill="#111a82"/>
<rect x="252.06" y="580.87" width="4.90" height="9.89" fill="#2130ff"/>
<rect x="256.96" y="580.87" width="4.90" height="9.89" fill="#111a82"/>
<rect x="291.25" y="580.87" width="9.80" height="9.89" fill="#111a82"/>
<rect x="301.05" y="580.87" width="4.90" height="9.89" fill="#2130ff"/>
<rect x="315.74" y="580.87" width="4.90" height="9.89" fill="#111a82"/>
<rect x="325.54" y="580.87" width="4.90" height="9.89" fill="#111a82"/>
<rect x="335.34" y="580.87" width="4.90" height="9.89" fill="#111a82"/>
<rect x="345.13" y="580.87" width="4.90" height="9.89" fill="#111a82"/>
<rect x="350.03" y="580.87" width="29.39" height="9.89" fill="#2130ff"/>
<rect x="379.42" y="580.87" width="4.90" height="9.89" fill="#4480ff"/>
<rect x="384.32" y="580.87" width="24.49" height="9.89" fill="#2130ff"/>
<rect x="408.82" y="580.87" width="9.80" height="9.89" fill="#4480ff"/>
<rect x="418.61" y="580.87" width="4.90" height="9.89" fill="#2130ff"/>
<rect x="423.51" y="580.87" width="4.90" height="9.89" fill="#4480ff"/>
<rect x="428.41" y="580.87" width="14.70" height="9.89" fill="#2130ff"/>
<rect x="443.10" y="580.87" width="4.90" height="9.89" fill="#111a82"/>
<rect x="448.00" y="580.87" width="9.80" height="9.89" fill="#2130ff"/>
<rect x="462.70" y="580.87" width="9.80" height="9.89" fill="#4480ff"/>
<rect x="472.50" y="580.87" width="4.90" height="9.89" fill="#2130ff"/>
<rect x="477.39" y="580.87" width="9.80" height="9.89" fill="#8ffcff"/>
<rect x="487.19" y="580.87" width="4.90" height="9.89" fill="#2130ff"/>
<rect x="492.09" y="580.87" width="4.90" height="9.89" fill="#8ffcff"/>
<rect x="496.99" y="580.87" width="4.90" height="9.89" fill="#9cf837"/>
<rect x="501.89" y="580.87" width="4.90" height="9.89" fill="#8ffcff"/>
<rect x="506.78" y="580.87" width="14.70" height="9.89" fill="#2130ff"/>
<rect x="521.48" y="580.87" width="4.90" height="9.89" fill="#76cf33"/>
<rect x="526.38" y="580.87" width="4.90" height="9.89" fill="#4480ff"/>
<rect x="531.28" y="580.87" width="9.80" height="9.89" fill="#8ffcff"/>
<rect x="541.07" y="580.87" width="4.90" height="9.89" fill="#9cf837"/>
<rect x="545.97" y="580.87" width="4.90" height="9.89" fill="#fffb33"/>
<rect x="550.87" y="580.87" width="4.90" height="9.89" fill="#9cf837"/>
<rect x="555.77" y="580.87" width="4.90" height="9.89" fill="#76cf33"/>
<rect x="560.67" y="580.87" width="4.90" height="9.89" fill="#eeaa55"/>
<rect x="565.57" y="580.87" width="14.70" height="9.89" fill="#4b8220"/>
<rect x="580.26" y="580.87" width="4.90" height="9.89" fill="#eeaa55"/>
<rect x="585.16" y="580.87" width="4.90" height="9.89" fill="#a82202"/>
<rect x="590.06" y="580.87" width="4.90" height="9.89" fill="#fffb33"/>
<rect x="594.96" y="580.87" width="4.90" height="9.89" fill="#eeaa55"/>
<rect x="599.86" y="580.87" width="9.80" height="9.89" fill="#4b8220"/>
<rect x="609.65" y="580.87" width="4.90" height="9.89" fill="#8ffcff"/>
<rect x="614.55" y="580.87" width="4.90" height="9.89" fill="#4b8220"/>
<rect x="619.45" y="580.87" width="19.59" height="9.89" fill="#9cf837"/>
<rect x="639.04" y="580.87" width="4.90" height="9.89" fill="#76cf33"/>
<rect x="643.94" y="580.87" width="4.90" height="9.89" fill="#4b8220"/>
<rect x="648.84" y="580.87" width="4.90" height="9.89" fill="#9cf837"/>
<rect x="653.74" y="580.87" width="4.90" height="9.89" fill="#76cf33"/>
<rect x="658.64" y="580.87" width="4.90" height="9.89" fill="#9cf837"/>
<rect x="663.54" y="580.87" width="4.90" height="9.89" fill="#4480ff"/>
<rect x="668.43" y="580.87" width="4.90" height="9.89" fill="#76cf33"/>
<rect x="673.33" y="580.87" width="9.80" height="9.89" fill="#4b8220"/>
<rect x="683.13" y="580.87" width="4.90" height="9.89" fill="#76cf33"/>
<rect x="688.03" y="580.87" width="4.90" height="9.89" fill="#fffb33"/>
<rect x="692.93" y="580.87" width="4.90" height="9.89" fill="#e6861e"/>
<rect x="697.83" y="580.87" width="4.90" height="9.89" fill="#4b8220"/>
<rect x="702.72" y="580.87" width="4.90" height="9.89" fill="#fffb33"/>
<rect x="707.62" y="580.87" width="4.90" height="9.89" fill="#a82202"/>
<rect x="712.52" y="580.87" width="9.80" height="9.89" fill="#714212"/>
<rect x="722.32" y="580.87" width="4.90" height="9.89" fill="#eeaa55"/>
<rect x="727.22" y="580.87" width="4.90" height="9.89" fill="#e6861e"/>
<rect x="732.12" y="580.87" width="14.70" height="9.89" fill="#714212"/>
<rect x="746.81" y="580.87" width="4.90" height="9.89" fill="#eeaa55"/>
<rect x="751.71" y="580.87" width="4.90" height="9.89" fill="#4b8220"/>
<rect x="756.61" y="580.87" width="4.90" height="9.89" fill="#8ffcff"/>
<rect x="761.51" y="580.87" width="4.90" height="9.89" fill="#2130ff"/>
<rect x="134.50" y="590.75" width="4.90" height="9.89" fill="#2130ff"/>
<rect x="217.77" y="590.75" width="4.90" height="9.89" fill="#2130ff"/>
<rect x="222.67" y="590.75" width="4.90" height="9.89" fill="#111a82"/>
<rect x="291.25" y="590.75" width="4.90" height="9.89" fill="#111a82"/>
<rect x="296.15" y="590.75" width="4.90" height="9.89" fill="#2130ff"/>
<rect x="310.85" y="590.75" width="9.80" height="9.89" fill="#2130ff"/>
<rect x="340.24" y="590.75" width="4.90" height="9.89" fill="#111a82"/>
<rect x="354.93" y="590.75" width="4.90" height="9.89" fill="#2130ff"/>
<rect x="364.73" y="590.75" width="4.90" height="9.89" fill="#2130ff"/>
<rect x="374.53" y="590.75" width="9.80" height="9.89" fill="#2130ff"/>
<rect x="384.32" y="590.75" width="4.90" height="9.89" fill="#111a82"/>
<rect x="389.22" y="590.75" width="4.90" height="9.89" fill="#2130ff"/>
<rect x="399.02" y="590.75" width="9.80" height="9.89" fill="#2130ff"/>
<rect x="408.82" y="590.75" width="4.90" height="9.89" fill="#4480ff"/>
<rect x="413.71" y="590.75" width="4.90" height="9.89" fill="#111a82"/>
<rect x="418.61" y="590.75" width="4.90" height="9.89" fill="#2130ff"/>
<rect x="423.51" y="590.75" width="4.90" height="9.89" fill="#111a82"/>
<rect x="428.41" y="590.75" width="19.59" height="9.89" fill="#2130ff"/>
<rect x="452.90" y="590.75" width="4.90" height="9.89" fill="#111a82"/>
<rect x="457.80" y="590.75" width="4.90" height="9.89" fill="#4480ff"/>
<rect x="462.70" y="590.75" width="4.90" height="9.89" fill="#111a82"/>
<rect x="467.60" y="590.75" width="14.70" height="9.89" fill="#2130ff"/>
<rect x="482.29" y="590.75" width="4.90" height="9.89" fill="#4480ff"/>
<rect x="487.19" y="590.75" width="4.90" height="9.89" fill="#2130ff"/>
<rect x="492.09" y="590.75" width="4.90" height="9.89" fill="#8ffcff"/>
<rect x="496.99" y="590.75" width="4.90" height="9.89" fill="#4480ff"/>
<rect x="501.89" y="590.75" width="14.70" height="9.89" fill="#2130ff"/>
<rect x="516.58" y="590.75" width="4.90" height="9.89" fill="#4480ff"/>
<rect x="521.48" y="590.75" width="4.90" height="9.89" fill="#2130ff"/>
<rect x="526.38" y="590.75" width="4.90" height="9.89" fill="#4480ff"/>
<rect x="531.28" y="590.75" width="4.90" height="9.89" fill="#8ffcff"/>
<rect x="536.18" y="590.75" width="4.90" height="9.89" fill="#2130ff"/>
<rect x="541.07" y="590.75" width="9.80" height="9.89" fill="#4480ff"/>
<rect x="550.87" y="590.75" width="9.80" height="9.89" fill="#8ffcff"/>
<rect x="560.67" y="590.75" width="4.90" height="9.89" fill="#4b8220"/>
<rect x="565.57" y="590.75" width="4.90" height="9.89" fill="#76cf33"/>
<rect x="570.47" y="590.75" width="4.90" height="9.89" fill="#4480ff"/>
<rect x="575.36" y="590.75" width="4.90" height="9.89" fill="#9cf837"/>
<rect x="580.26" y="590.75" width="4.90" height="9.89" fill="#76cf33"/>
<rect x="585.16" y="590.75" width="4.90" height="9.89" fill="#fffb33"/>
<rect x="590.06" y="590.75" width="4.90" height="9.89" fill="#76cf33"/>
<rect x="594.96" y="590.75" width="4.90" height="9.89" fill="#9cf837"/>
<rect x="599.86" y="590.75" width="4.90" height="9.89" fill="#4b8220"/>
<rect x="604.75" y="590.75" width="4.90" height="9.89" fill="#8ffcff"/>
<rect x="609.65" y="590.75" width="4.90" height="9.89" fill="#9cf837"/>
<rect x="614.55" y="590.75" width="9.80" height="9.89" fill="#4480ff"/>
<rect x="624.35" y="590.75" width="9.80" height="9.89" fill="#8ffcff"/>
<rect x="634.15" y="590.75" width="4.90" height="9.89" fill="#4480ff"/>
<rect x="639.04" y="590.75" width="4.90" height="9.89" fill="#2130ff"/>
<rect x="643.94" y="590.75" width="4.90" height="9.89" fill="#76cf33"/>
<rect x="648.84" y="590.75" width="4.90" height="9.89" fill="#4480ff"/>
<rect x="653.74" y="590.75" width="4.90" height="9.89" fill="#9cf837"/>
<rect x="658.64" y="590.75" width="4.90" height="9.89" fill="#4480ff"/>
<rect x="663.54" y="590.75" width="4.90" height="9.89" fill="#8ffcff"/>
<rect x="668.43" y="590.75" width="4.90" height="9.89" fill="#9cf837"/>
<rect x="673.33" y="590.75" width="4.90" height="9.89" fill="#8ffcff"/>
<rect x="678.23" y="590.75" width="4.90" height="9.89" fill="#9cf837"/>
<rect x="683.13" y="590.75" width="4.90" height="9.89" fill="#76cf33"/>
<rect x="688.03" y="590.75" width="4.90" height="9.89" fill="#4b8220"/>
<rect x="692.93" y="590.75" width="4.90" height="9.89" fill="#76cf33"/>
<rect x="697.83" y="590.75" width="4.90" height="9.89" fill="#e6861e"/>
<rect x="702.72" y="590.75" width="4.90" height="9.89" fill="#eeaa55"/>
<rect x="707.62" y="590.75" width="4.90" height="9.89" fill="#fffb33"/>
<rect x="712.52" y="590.75" width="4.90" height="9.89" fill="#714212"/>
<rect x="717.42" y="590.75" width="4.90" height="9.89" fill="#76cf33"/>
<rect x="722.32" y="590.75" width="4.90" height="9.89" fill="#fffb33"/>
<rect x="727.22" y="590.75" width="4.90" height="9.89" fill="#eeaa55"/>
<rect x="732.12" y="590.75" width="4.90" height="9.89" fill="#714212"/>
<rect x="737.01" y="590.75" width="4.90" height="9.89" fill="#fffb33"/>
<rect x="741.91" y="590.75" width="4.90" height="9.89" fill="#e6861e"/>
<rect x="746.81" y="590.75" width="4.90" height="9.89" fill="#9cf837"/>
<rect x="751.71" y="590.75" width="4.90" height="9.89" fill="#4480ff"/>
<rect x="756.61" y="590.75" width="4.90" height="9.89" fill="#111a82"/>
<rect x="766.40" y="590.75" width="4.90" height="9.89" fill="#111a82"/>
</g>
<g stroke="#222" stroke-width="1" fill="none">
<path d="M134.00 47.40 V601.50"/>
<path d="M780.60 47.40 V601.50"/>
<path d="M134.00 47.40 H780.60" stroke-opacity="0.45"/>
<path d="M124.2 601.50 H791"/>
<path d="M153.59 601.50 V610.5"/>
<path d="M202.56 601.50 V610.5"/>
<path d="M251.54 601.50 V610.5"/>
<path d="M300.51 601.50 V610.5"/>
<path d="M349.49 601.50 V610.5"/>
<path d="M398.46 601.50 V610.5"/>
<path d="M447.44 601.50 V610.5"/>
<path d="M496.42 601.50 V610.5"/>
<path d="M545.39 601.50 V610.5"/>
<path d="M594.37 601.50 V610.5"/>
<path d="M643.34 601.50 V610.5"/>
<path d="M692.31 601.50 V610.5"/>
<path d="M741.29 601.50 V610.5"/>
<path d="M780.60 601.50 V610.5"/>
<path d="M124.2 502.46 H134.00"/>
<path d="M780.60 502.46 H791"/>
<path d="M124.2 403.42 H134.00"/>
<path d="M780.60 403.42 H791"/>
<path d="M124.2 304.38 H134.00"/>
<path d="M780.60 304.38 H791"/>
<path d="M124.2 205.34 H134.00"/>
<path d="M780.60 205.34 H791"/>
<path d="M124.2 106.30 H134.00"/>
<path d="M780.60 106.30 H791"/>
</g>
<text x="153.99" y="636.4" text-anchor="middle" font-size="15.5">1880</text>
<text x="202.97" y="636.4" text-anchor="middle" font-size="15.5">1890</text>
<text x="251.94" y="636.4" text-anchor="middle" font-size="15.5">1900</text>
<text x="300.91" y="636.4" text-anchor="middle" font-size="15.5">1910</text>
<text x="349.89" y="636.4" text-anchor="middle" font-size="15.5">1920</text>
<text x="398.86" y="636.4" text-anchor="middle" font-size="15.5">1930</text>
<text x="447.84" y="636.4" text-anchor="middle" font-size="15.5">1940</text>
<text x="496.81" y="636.4" text-anchor="middle" font-size="15.5">1950</text>
<text x="545.79" y="636.4" text-anchor="middle" font-size="15.5">1960</text>
<text x="594.76" y="636.4" text-anchor="middle" font-size="15.5">1970</text>
<text x="643.74" y="636.4" text-anchor="middle" font-size="15.5">1980</text>
<text x="692.71" y="636.4" text-anchor="middle" font-size="15.5">1990</text>
<text x="741.69" y="636.4" text-anchor="middle" font-size="15.5">2000</text>
<text x="780.4" y="636.4" text-anchor="middle" font-size="15.5">2010</text>
<text x="112.6" y="601.80" text-anchor="end" font-size="15.5">0</text>
<text x="112.6" y="502.76" text-anchor="end" font-size="15.5">10</text>
<text x="112.6" y="403.72" text-anchor="end" font-size="15.5">20</text>
<text x="112.6" y="304.68" text-anchor="end" font-size="15.5">30</text>
<text x="112.6" y="205.64" text-anchor="end" font-size="15.5">40</text>
<text x="112.6" y="106.60" text-anchor="end" font-size="15.5">50</text>
<text x="457" y="679" text-anchor="middle" font-size="15.2">Publication Year</text>
<text transform="translate(58.6 324.8) rotate(-90)" text-anchor="middle" font-size="15">Years Snce PhD</text>
<rect x="816.80" y="47.10" width="35.50" height="42.65" fill="#714212" stroke="#111" stroke-width="1"/>
<rect x="816.80" y="89.75" width="35.50" height="42.65" fill="#a82202" stroke="#111" stroke-width="1"/>
<rect x="816.80" y="132.39" width="35.50" height="42.65" fill="#e6861e" stroke="#111" stroke-width="1"/>
<rect x="816.80" y="175.04" width="35.50" height="42.65" fill="#eeaa55" stroke="#111" stroke-width="1"/>
<rect x="816.80" y="217.68" width="35.50" height="42.65" fill="#fffb33" stroke="#111" stroke-width="1"/>
<rect x="816.80" y="260.33" width="35.50" height="42.65" fill="#4b8220" stroke="#111" stroke-width="1"/>
<rect x="816.80" y="302.98" width="35.50" height="42.65" fill="#76cf33" stroke="#111" stroke-width="1"/>
<rect x="816.80" y="345.62" width="35.50" height="42.65" fill="#9cf837" stroke="#111" stroke-width="1"/>
<rect x="816.80" y="388.27" width="35.50" height="42.65" fill="#8ffcff" stroke="#111" stroke-width="1"/>
<rect x="816.80" y="430.92" width="35.50" height="42.65" fill="#4480ff" stroke="#111" stroke-width="1"/>
<rect x="816.80" y="473.56" width="35.50" height="42.65" fill="#2130ff" stroke="#111" stroke-width="1"/>
<rect x="816.80" y="516.21" width="35.50" height="42.65" fill="#111a82" stroke="#111" stroke-width="1"/>
<rect x="816.80" y="558.85" width="35.50" height="42.65" fill="#ffffff" stroke="#111" stroke-width="1"/>
<path d="M852.30 89.75 H862.7" stroke="#111" stroke-width="1"/>
<text x="873.9" y="90.05" font-size="15.2" textLength="58.3" lengthAdjust="spacingAndGlyphs">50.0000</text>
<path d="M852.30 132.39 H862.7" stroke="#111" stroke-width="1"/>
<text x="873.9" y="132.69" font-size="15.2" textLength="58.3" lengthAdjust="spacingAndGlyphs">45.0000</text>
<path d="M852.30 175.04 H862.7" stroke="#111" stroke-width="1"/>
<text x="873.9" y="175.34" font-size="15.2" textLength="58.3" lengthAdjust="spacingAndGlyphs">40.0000</text>
<path d="M852.30 217.68 H862.7" stroke="#111" stroke-width="1"/>
<text x="873.9" y="217.98" font-size="15.2" textLength="58.3" lengthAdjust="spacingAndGlyphs">35.0000</text>
<path d="M852.30 260.33 H862.7" stroke="#111" stroke-width="1"/>
<text x="873.9" y="260.63" font-size="15.2" textLength="58.3" lengthAdjust="spacingAndGlyphs">30.0000</text>
<path d="M852.30 302.98 H862.7" stroke="#111" stroke-width="1"/>
<text x="873.9" y="303.28" font-size="15.2" textLength="58.3" lengthAdjust="spacingAndGlyphs">25.0000</text>
<path d="M852.30 345.62 H862.7" stroke="#111" stroke-width="1"/>
<text x="873.9" y="345.92" font-size="15.2" textLength="58.3" lengthAdjust="spacingAndGlyphs">20.0000</text>
<path d="M852.30 388.27 H862.7" stroke="#111" stroke-width="1"/>
<text x="873.9" y="388.57" font-size="15.2" textLength="58.3" lengthAdjust="spacingAndGlyphs">15.0000</text>
<path d="M852.30 430.92 H862.7" stroke="#111" stroke-width="1"/>
<text x="873.9" y="431.22" font-size="15.2" textLength="58.3" lengthAdjust="spacingAndGlyphs">10.0000</text>
<path d="M852.30 473.56 H862.7" stroke="#111" stroke-width="1"/>
<text x="873.9" y="473.86" font-size="15.2" textLength="49.3" lengthAdjust="spacingAndGlyphs">5.0000</text>
<path d="M852.30 516.21 H862.7" stroke="#111" stroke-width="1"/>
<text x="873.9" y="516.51" font-size="15.2" textLength="49.3" lengthAdjust="spacingAndGlyphs">1.0000</text>
<path d="M852.30 558.85 H862.7" stroke="#111" stroke-width="1"/>
<text x="873.9" y="559.15" font-size="15.2" textLength="49.3" lengthAdjust="spacingAndGlyphs">0.0000</text>
</svg></body></html>
